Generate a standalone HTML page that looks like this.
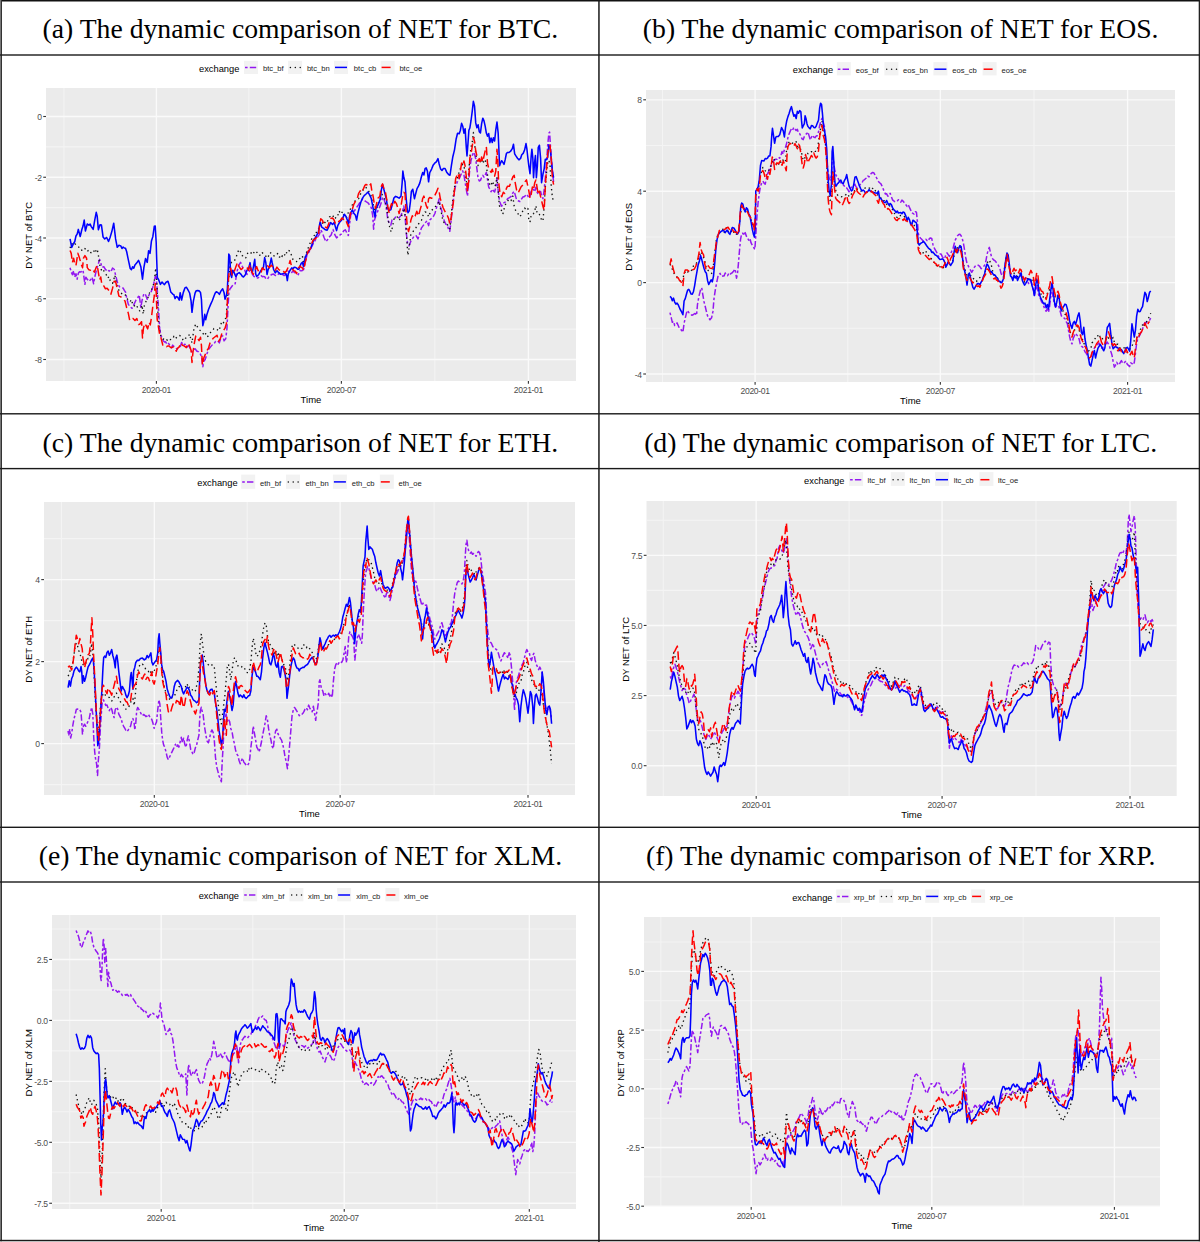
<!DOCTYPE html>
<html><head><meta charset="utf-8"><title>Dynamic comparison of NET</title>
<style>html,body{margin:0;padding:0;background:#fff;width:1200px;height:1242px;overflow:hidden}</style>
</head><body>
<svg width="1200" height="1242" viewBox="0 0 1200 1242" style="display:block"><rect x="0" y="0" width="1200" height="1242" fill="#ffffff"/><g><text x="300.4" y="37.5" font-family='"Liberation Serif", serif' font-size="27.7" text-anchor="middle" fill="#000">(a) The dynamic comparison of NET for BTC.</text><rect x="46" y="88" width="530" height="293" fill="#ebebeb"/><line x1="46" x2="576" y1="146.88" y2="146.88" stroke="#f4f4f4" stroke-width="1.05"/><line x1="46" x2="576" y1="207.62" y2="207.62" stroke="#f4f4f4" stroke-width="1.05"/><line x1="46" x2="576" y1="268.38" y2="268.38" stroke="#f4f4f4" stroke-width="1.05"/><line x1="46" x2="576" y1="329.12" y2="329.12" stroke="#f4f4f4" stroke-width="1.05"/><line x1="63.91" x2="63.91" y1="88" y2="381" stroke="#f4f4f4" stroke-width="1.05"/><line x1="248.89" x2="248.89" y1="88" y2="381" stroke="#f4f4f4" stroke-width="1.05"/><line x1="434.89" x2="434.89" y1="88" y2="381" stroke="#f4f4f4" stroke-width="1.05"/><line x1="46" x2="576" y1="116.5" y2="116.5" stroke="#fafafa" stroke-width="1.35"/><line x1="46" x2="576" y1="177.25" y2="177.25" stroke="#fafafa" stroke-width="1.35"/><line x1="46" x2="576" y1="238" y2="238" stroke="#fafafa" stroke-width="1.35"/><line x1="46" x2="576" y1="298.75" y2="298.75" stroke="#fafafa" stroke-width="1.35"/><line x1="46" x2="576" y1="359.5" y2="359.5" stroke="#fafafa" stroke-width="1.35"/><line x1="156.4" x2="156.4" y1="88" y2="381" stroke="#fafafa" stroke-width="1.35"/><line x1="341.38" x2="341.38" y1="88" y2="381" stroke="#fafafa" stroke-width="1.35"/><line x1="528.4" x2="528.4" y1="88" y2="381" stroke="#fafafa" stroke-width="1.35"/><path d="M70.06 267.76 L71.24 272.04 L72.42 274.69 L73.6 270.68 L74.78 277.15 L75.96 273.65 L77.14 279.18 L78.32 273.28 L79.5 271.75 L80.67 272.01 L81.85 271.4 L83.03 270.23 L84.92 284.31 L85.87 277.2 L87.28 279.3 L88.93 281.4 L90.59 279.7 L92 277.26 L93.65 283.75 L94.83 276.74 L96.01 271.88 L97.19 267.61 L98.37 263.79 L99.55 259.36 L100.73 262.51 L101.91 267.36 L103.8 266.66 L105.21 269.12 L106.63 270.61 L107.81 271.73 L108.99 270.45 L110.88 272.07 L112.53 267.98 L114.18 269.24 L116.07 277.09 L117.96 284.37 L119.61 286.86 L120.79 287.56 L121.97 287.93 L123.15 288.1 L124.33 290.4 L125.51 291.96 L126.69 298.01 L128.34 304.37 L130.23 306.8 L132.11 308.29 L134 304.31 L136.13 299.73 L137.78 297.66 L139.19 294.93 L140.84 307.25 L142.02 300.52 L143.91 293.51 L145.56 294.79 L147.22 299.27 L149.1 294.83 L150.99 292.16 L152.64 287.8 L154.29 281.26 L155.24 276.51 L156.18 276.75 L157.36 291.31 L158.54 309.83 L159.72 328.67 L160.9 335.6 L162.08 338.11 L163.26 340.64 L164.44 341.89 L165.62 341.86 L166.8 343.91 L167.98 342.76 L169.16 344.21 L170.34 345.74 L171.52 347.83 L172.7 345.14 L173.88 346.46 L175.06 347.1 L176.24 348.39 L177.42 349 L179.25 346.97 L180.43 346.2 L181.61 342.48 L183.26 345.34 L184.91 344.22 L186.8 347.29 L188.69 345.51 L190.34 348.86 L191.99 351.96 L193.4 350.35 L195.06 348.68 L196.71 351.04 L198.6 351.84 L200.48 354.24 L201.66 357.08 L202.84 366.64 L203.79 361.36 L205.2 359.56 L206.85 353.92 L208.51 349.56 L210.39 347.14 L212.28 344.87 L213.93 343.92 L215.59 341.42 L217.47 340.7 L219.36 342.83 L221.01 337.5 L222.66 335.7 L224.08 340.88 L225.73 338.78 L226.91 329.24 L227.86 310.2 L228.8 293.66 L229.74 289.31 L231.63 286.7 L233.52 283.97 L235.17 283.79 L236.82 272.26 L238.71 265.27 L240.6 262.35 L242.25 266.28 L243.43 268.55 L244.61 269.85 L245.79 272.94 L246.97 274.36 L248.62 272.15 L250.51 269.73 L252.39 274.25 L254.05 276.59 L255.7 276.86 L257.59 278.03 L259.47 276.83 L261.13 275.71 L262.31 276.64 L263.49 276.48 L264.66 276.62 L265.84 278.73 L267.5 279.31 L268.91 276.71 L270.33 275.58 L271.74 274.44 L273.51 274.07 L275.28 275.53 L277.05 275.71 L278.82 273.47 L280.59 274.53 L282.36 274.34 L284.13 275.52 L285.9 274.89 L287.67 270.97 L289.44 272.08 L291.21 273.23 L292.98 270.9 L294.75 272.63 L296.52 272.41 L298.29 274.62 L300.06 270.56 L301.8 270.75 L303.54 269.71 L305.19 262.51 L307.08 254.56 L308.97 252.07 L310.62 248.8 L312.27 245.55 L314.16 241.97 L316.05 238.99 L317.7 236.96 L319.35 234.27 L320.76 229.85 L322.42 232.81 L324.07 237.45 L325.96 241.67 L327.84 239.21 L329.5 236.79 L331.15 234.93 L333.03 229.41 L334.92 234.96 L336.57 237.89 L338.23 236.14 L340.11 234.89 L342 233.5 L343.65 230.93 L345.3 229.74 L347.19 233.6 L348.37 235.48 L349.55 224.45 L350.73 214.92 L352.38 212.8 L354.27 211.18 L356.16 208.05 L357.81 205.81 L359.46 203.03 L360.88 201.88 L362.53 198.8 L364.18 200.46 L366.07 201.68 L367.96 202.82 L369.61 205.05 L371.26 207.65 L372.68 215.3 L373.62 229.28 L374.56 219.83 L375.98 215.4 L377.87 210.89 L379.75 206.9 L381.41 202.14 L382.59 197.41 L384 199.24 L385.42 204.13 L386.83 211.34 L387.78 219.89 L389.19 222.87 L390.84 225.15 L392.02 220.02 L393.91 219.31 L395.56 217.1 L397.22 217.95 L399.1 217.64 L400.99 215.41 L402.64 210.95 L403.82 205.99 L405 215.74 L406.18 231.89 L407.6 243.6 L409.01 245.9 L410.9 241.03 L412.79 238.12 L414.44 235.86 L416.09 235.71 L417.98 238.91 L419.87 232.8 L421.52 227.86 L423.17 225.63 L425.06 223.17 L426.95 220.78 L428.6 225.62 L429.72 220.03 L431.61 218.37 L433.26 216.62 L434.91 213.48 L436.33 208.38 L437.98 203.21 L439.16 198.8 L440.34 206.77 L441.52 209.76 L442.93 216 L444.35 221.05 L445.76 224.14 L447.42 225.18 L448.6 229.82 L449.78 231.31 L450.96 222.12 L452.14 210.73 L453.32 200.68 L454.5 190.95 L455.67 185.29 L456.85 183.05 L458.03 180.19 L459.21 178.56 L460.39 176.04 L461.57 173.39 L462.75 170.88 L463.93 174.83 L465.11 182.22 L466.29 189.38 L467.47 196.03 L468.65 182.39 L469.83 168.21 L471.01 160.51 L472.19 156 L473.37 152.14 L474.55 154.16 L475.73 158.95 L476.91 168.87 L478.09 178.33 L479.27 181.03 L480.45 180.38 L481.63 177.35 L482.81 175.34 L483.99 177.14 L485.17 175.13 L486.35 172.42 L487.53 179.72 L488.71 187.18 L489.89 189.24 L491.07 191.76 L492.25 189.1 L493.43 190.93 L494.61 191.94 L495.79 187.57 L496.97 178.36 L498.15 190.25 L499.33 199.93 L500.51 203.9 L501.69 206.25 L502.87 203.29 L504.75 202.34 L506.41 201.02 L507.59 198.71 L509.47 197.68 L511.13 196.47 L512.78 193.06 L514.19 191.34 L515.14 194.63 L516.55 199.67 L518.2 200.78 L519.86 201.52 L521.27 199.33 L522.92 197 L524.58 196.56 L526.46 194.24 L527.88 196.01 L528.82 198.11 L530 196.22 L531.18 191.27 L532.36 188.84 L533.54 189.63 L534.72 191.77 L535.9 187.14 L537.08 192.17 L538.26 194.4 L539.44 191.77 L540.62 191.5 L541.8 196.47 L542.98 198.65 L544.16 189.78 L545.34 177.68 L546.52 163.45 L547.7 145.01 L548.88 133.09 L549.59 132.15 L550.53 147.31 L551.95 166.27 L553.6 182.38" fill="none" stroke="#9317f0" stroke-width="1.5" stroke-dasharray="2.6 2.2 6.4 2.2" stroke-linejoin="round"/><path d="M70.06 248.04 L71.71 243.58 L73.6 245.42 L74.78 243.69 L75.96 244.55 L77.14 245.47 L78.32 246.51 L79.5 248.14 L80.67 248.11 L81.85 250.33 L83.03 249.73 L84.21 250.35 L85.39 248.11 L86.57 248.89 L87.75 250.89 L88.93 250.12 L90.11 252.7 L91.29 252.5 L92.47 250.84 L93.65 250.32 L94.83 253.18 L96.01 250.6 L97.19 249.03 L98.37 255.09 L100.02 266.85 L101.91 270.97 L103.33 269.64 L104.74 273.28 L106.28 274.68 L107.81 278.15 L108.99 276.56 L110.17 280.52 L111.35 282.01 L112.53 283.4 L113.71 279.97 L114.89 275.12 L116.07 281.97 L117.25 286.04 L118.43 289.38 L119.61 291.34 L120.79 291.93 L121.97 294.26 L123.15 293.78 L124.33 294.35 L125.51 295.13 L126.69 296.29 L127.87 300.22 L129.05 300.77 L130.23 301.6 L131.41 299.56 L132.59 303.87 L133.77 306.22 L134.95 305.31 L136.13 304.54 L137.31 306.96 L138.49 309.34 L139.66 310.85 L140.84 309.79 L142.02 305.14 L143.2 314.05 L144.38 305.27 L146.27 300.81 L147.45 298.9 L148.63 295.9 L149.81 291.91 L150.99 290.95 L152.88 286.63 L154.29 281.49 L155.71 268.01 L156.65 277.69 L158.07 315.65 L159.49 329.8 L160.9 336.09 L162.79 338.94 L164.2 339.29 L165.62 340.69 L166.8 339.8 L167.98 341.12 L169.16 339.5 L170.34 339.61 L171.52 339.15 L172.7 338.99 L173.88 336.26 L175.06 338.61 L176.24 337.82 L177.42 336.46 L178.57 336.4 L179.72 335.51 L180.9 336.64 L182.08 338.06 L183.26 340.6 L184.44 339.79 L185.62 338.15 L186.8 337.7 L188.21 336.53 L189.63 334.06 L190.81 339.06 L191.99 342.95 L193.88 328.92 L195.76 324 L197.42 326.86 L199.07 329.61 L200.96 331.06 L202.84 333.23 L204.5 335.81 L205.67 333.69 L206.85 336.96 L208.03 336.16 L209.21 333.97 L210.87 332.16 L212.75 330.56 L213.93 328.51 L215.11 328.32 L217 329.48 L218.65 330.97 L220.3 326.9 L221.72 321.3 L223.37 322.69 L225.02 320.96 L226.44 314.19 L227.38 300.79 L228.33 283.18 L229.74 267.26 L231.63 262.06 L232.81 261.72 L233.99 261.36 L235.88 258.18 L237.53 252.45 L239.18 249.41 L241.07 252.74 L242.25 255.77 L243.43 255.33 L244.61 255.94 L245.79 257.79 L246.97 254.89 L248.15 251.89 L250.04 252.62 L251.22 252.99 L252.39 254.69 L253.81 252.65 L255.23 250.72 L256.41 251.75 L257.59 253.31 L258.77 253.13 L259.95 255.39 L261.13 255.49 L262.31 252.77 L263.49 254.08 L264.66 255.45 L265.84 256.28 L267.02 255.27 L268.2 257.1 L269.38 252.8 L270.56 252.82 L271.74 253.62 L272.92 255.53 L274.1 255.94 L275.28 256.14 L276.46 255.25 L277.64 253.49 L278.82 257 L280 257.17 L281.18 258.53 L282.36 255.62 L283.54 256.85 L284.72 254.73 L285.9 255.71 L287.08 250.26 L288.26 250.33 L290.15 251.23 L291.8 256.35 L292.98 259.44 L294.16 260.51 L295.34 261.3 L296.52 261.65 L297.7 259.35 L298.88 259.1 L300.65 258.09 L302.42 255.97 L303.54 263.7 L305.19 257.47 L307.08 250.74 L308.97 246.05 L310.62 241.94 L312.27 237.17 L314.16 235.42 L315.34 235.89 L316.52 231.9 L318.4 229.69 L320.06 222.09 L321.71 222.14 L323.6 224.57 L324.78 222.28 L325.96 223.52 L327.14 222.1 L328.32 219.34 L329.5 217.05 L330.67 216.13 L331.85 214.83 L333.03 215.93 L334.21 219.02 L335.39 218.08 L336.57 215.79 L337.75 215.89 L338.93 211.08 L340.11 212.49 L341.29 214.01 L342.47 211.4 L343.65 214.83 L344.83 216.24 L346.01 217.94 L347.19 216.82 L348.37 212.17 L349.55 211.44 L351.44 206.39 L353.09 203.59 L354.74 201.34 L356.63 199.71 L358.52 198.84 L360.17 194.54 L361.82 191.93 L363.71 189.07 L365.6 187.16 L367.25 188.92 L368.9 191.62 L370.79 194.57 L372.2 201.22 L373.62 205.52 L375.04 210.34 L376.69 208.16 L378.34 203.86 L380.23 198.89 L382.11 194.47 L383.77 197.77 L385.42 201.51 L386.83 208.39 L388.25 220.49 L389.66 226.96 L391.08 231.91 L392.5 227.11 L393.91 219.18 L395.56 216.82 L397.22 216.82 L399.1 220.26 L400.99 217.77 L402.64 212.88 L404.29 208.18 L405.71 220.22 L406.89 240.93 L407.83 255.28 L409.01 248.4 L410.9 234.01 L412.79 232.11 L414.44 229.32 L416.09 227.46 L417.98 224.7 L419.87 222.11 L421.52 220.17 L423.17 214.99 L425.06 211.93 L426.95 212.54 L428.6 216.81 L429.72 213.58 L431.61 210.23 L433.26 209.08 L434.91 207.54 L436.33 205.03 L437.98 203.33 L439.16 201.17 L440.34 207.94 L441.52 213.4 L442.93 221 L444.35 222.96 L445.76 223.95 L447.42 224.58 L448.6 226.99 L449.78 228.78 L450.96 219.55 L452.14 205.3 L453.32 195.98 L454.5 187.11 L455.67 181.93 L456.85 180.14 L458.03 175.17 L459.21 172.36 L460.39 168.45 L461.57 166.39 L462.75 164.07 L463.93 166.51 L465.11 171.12 L466.29 181.15 L467.47 187.28 L468.65 172.43 L469.83 158.3 L471.01 146.93 L472.19 142.62 L473.37 132.51 L474.55 143.98 L475.73 153.41 L476.91 160.26 L478.09 165.57 L479.27 163.12 L480.45 161.33 L481.63 159.09 L482.81 163.58 L483.99 160.84 L485.17 159.37 L486.35 165.3 L487.53 175.23 L488.71 182.27 L489.89 184.32 L491.07 185.98 L492.25 181.27 L493.43 183.69 L494.61 186.38 L495.79 184.59 L496.97 177.09 L498.15 191.13 L499.33 205.48 L500.51 208.38 L501.69 210.97 L502.87 214.09 L504.75 206.02 L506.41 202.5 L507.59 200.99 L509.47 198.88 L511.13 200.46 L512.78 196.02 L514.19 206.16 L515.84 211.08 L517.5 212.4 L519.38 216.63 L521.27 215.1 L522.92 210.45 L524.58 208.01 L526.46 209.94 L527.88 208.42 L528.82 220.01 L530 222.06 L531.18 215.18 L532.36 215.06 L533.54 213.57 L534.72 210.95 L535.9 205.8 L537.08 213.07 L538.26 214.69 L539.44 214.43 L540.62 217.66 L541.8 220.3 L542.98 221.08 L544.16 205.7 L545.34 186.91 L546.52 172.7 L547.7 162.6 L548.88 160.18 L550.06 165.23 L551.24 186.18 L552.42 197.78 L553.6 201.26" fill="none" stroke="#111111" stroke-width="1.35" stroke-dasharray="1.4 3.3" stroke-linejoin="round"/><path d="M70.06 238.92 L71.71 247.46 L73.6 243.49 L74.78 241.51 L75.96 236.03 L77.14 234.16 L78.32 229.38 L80.2 236.55 L81.85 229.53 L83.03 226.1 L84.21 220.05 L85.39 231.04 L87.28 223.98 L88.93 225.25 L90.11 224.06 L91.29 226.6 L93.18 229.35 L94.83 219.58 L96.25 212.36 L97.19 216.12 L98.37 229.8 L100.02 224.67 L101.44 225.11 L103.09 237.02 L104.74 239.02 L106.63 237.47 L108.52 241.54 L110.17 237.15 L111.82 231.59 L113.71 223.21 L115.6 238.89 L117.25 247.33 L118.9 245.17 L120.79 245.9 L121.97 248.53 L123.15 247.06 L124.33 248.02 L125.51 248.3 L126.69 251.74 L127.87 257.7 L129.05 263.18 L130.23 268.51 L131.41 269.72 L132.59 266.69 L133.77 268.16 L134.95 265.06 L136.83 262.87 L138.49 260.3 L139.66 263.15 L140.84 266.71 L142.5 279.15 L143.91 267.41 L145.56 258.49 L147.22 262.34 L148.63 250.68 L150.05 253.42 L151.46 240.96 L152.88 236.46 L154.29 226.28 L155.24 225.98 L156.18 242.34 L156.65 258.34 L157.36 277.57 L158.54 279.51 L160.43 284.4 L162.08 282.05 L163.26 283.48 L164.44 284.57 L166.09 282.19 L167.98 281.26 L169.16 285.08 L170.81 292.06 L172.7 294.08 L173.88 294.71 L175.06 298.61 L176.24 296.59 L177.42 296.97 L179.25 300.16 L180.19 292.68 L181.61 300.09 L183.26 292.63 L184.91 287.92 L186.33 287.19 L187.98 289.85 L189.63 293.01 L191.05 300.85 L191.99 312.32 L193.4 301.05 L195.06 293.18 L196.24 290.66 L197.42 290.62 L199.07 290.86 L200.48 292.45 L201.43 299.4 L202.14 314.07 L202.84 325.65 L203.79 321.53 L204.73 314.37 L205.67 319.73 L206.85 314.82 L208.51 309.43 L210.39 304.84 L212.28 300.75 L213.93 296.28 L215.11 293.31 L216.29 291.7 L217.94 292.63 L219.36 294.37 L221.01 290.87 L222.66 288.86 L224.08 292.7 L225.02 299.2 L226.44 295.31 L227.38 288.77 L228.33 267.65 L228.8 254.06 L229.74 255.84 L230.69 274.28 L231.63 277.4 L232.81 270.25 L233.99 272.33 L235.88 276.56 L237.53 273.56 L239.18 272.58 L241.07 274.36 L242.25 276.21 L243.43 277.04 L245.32 274.74 L246.97 270.34 L248.62 268.45 L250.04 262.66 L250.98 269.62 L252.39 272.09 L253.34 267.2 L254.75 259.27 L255.7 274.02 L256.64 276.54 L258.77 274.48 L260.42 271.34 L261.83 269.2 L263.49 267.02 L264.66 257.56 L265.84 262.76 L267.02 274.49 L268.2 269.32 L269.38 267.06 L271.27 258.04 L272.22 263.01 L273.63 269.52 L275.28 272.85 L276.93 270.68 L278.82 272.71 L280.71 274.33 L282.6 273.84 L284.72 273.15 L286.37 274.74 L287.32 280.6 L288.26 273.84 L290.15 270.22 L291.8 267.89 L292.98 268.78 L294.16 267.25 L295.81 267.46 L297.7 269.19 L298.88 269.17 L300.06 266.1 L301.24 263.25 L302.42 262.22 L303.54 266.71 L305.19 257.47 L307.08 253.34 L308.97 250.57 L310.62 248.5 L312.27 243.88 L314.16 238.94 L315.34 237.73 L316.52 235.54 L318.4 232.16 L320.06 222.01 L321.71 227.11 L323.6 228.32 L325.48 229.8 L327.14 230.27 L328.79 226.79 L330.67 222.6 L332.56 224.44 L334.21 222.42 L335.39 226.84 L336.57 230.63 L337.75 225.65 L339.64 222.15 L341.29 220.56 L342.94 217.65 L344.36 214.31 L346.01 216.47 L347.19 219.75 L348.37 223.77 L349.55 216.34 L350.73 212.71 L352.38 209.84 L353.8 213.35 L355.45 215.34 L356.63 220.11 L357.81 213.46 L359.46 207.11 L360.88 201.95 L362.53 198.13 L364.18 195.55 L366.07 193.99 L367.96 192.02 L369.61 194.88 L371.26 198.53 L372.68 205.86 L373.62 211.01 L375.04 217.02 L375.98 208.2 L377.39 206.12 L379.05 202.39 L380.23 199.21 L381.41 189.6 L382.59 184.39 L383.77 189.11 L384.95 193.52 L386.36 199.16 L387.78 208.53 L389.19 210.71 L390.84 209.67 L392.5 203.72 L393.91 198.05 L395.56 196.35 L397.22 197.06 L399.1 198.12 L400.99 196.23 L402.17 182.57 L402.88 171.01 L403.82 177.55 L405 181.95 L406.18 198.53 L407.36 210.47 L408.07 212.66 L409.25 210.75 L410.43 201.65 L411.37 191.46 L412.79 189.26 L414.44 198.73 L415.62 194.04 L417.04 188.6 L418.45 186.17 L419.87 182.86 L421.28 177.27 L422.7 172.57 L423.88 175.01 L425.06 168.75 L426.24 167.89 L427.42 171.32 L428.6 181.84 L429.72 172.76 L431.61 169.05 L433.26 164.9 L434.91 162.91 L436.33 161.81 L437.98 158.66 L439.16 164.04 L440.57 168.87 L441.99 170.46 L443.4 168.48 L445.06 168.52 L446.71 172.18 L448.6 174.5 L450.01 175.25 L451.43 165.45 L452.84 156.74 L454.5 149.82 L456.15 138.97 L457.56 133.21 L459.21 133.68 L460.39 130.23 L461.57 123.3 L462.75 126.17 L463.93 133.14 L465.11 128.67 L466.29 147.13 L467 156 L467.94 143.86 L468.89 130.31 L469.83 128.03 L471.01 120.73 L472.19 111.6 L473.37 101.36 L474.55 106.22 L475.73 122.92 L476.91 127.75 L478.09 124.69 L479.27 131.69 L480.45 133 L481.63 123.67 L482.81 118.19 L483.99 120.84 L485.17 126.05 L486.35 133.09 L487.53 136.15 L488.71 133.55 L489.89 142.65 L491.07 137.98 L492.25 142.48 L493.43 137.71 L494.61 140.96 L495.79 129.95 L496.97 121.99 L498.15 132.82 L498.86 149.06 L499.56 165.77 L500.51 163.03 L501.69 160.7 L502.87 162.38 L504.05 164.42 L505.23 159.42 L506.41 153.49 L507.59 152.43 L508.77 152.58 L510.42 151.48 L512.31 148.68 L513.49 144.31 L514.66 153.8 L516.08 156.16 L517.5 158.21 L518.91 159.85 L520.56 158.43 L521.74 154.7 L523.16 153.41 L524.58 150.06 L525.99 143.59 L526.93 149.23 L527.88 158.13 L528.82 165.94 L530 173.62 L531.18 156.24 L531.89 149.16 L532.83 158.24 L533.54 177.63 L534.49 163.24 L535.43 155.48 L536.37 177.75 L537.32 166.48 L538.26 147.3 L539.44 145.26 L540.62 158.67 L541.56 182.62 L542.98 174.03 L544.16 168.8 L545.34 159.21 L546.52 159.7 L547.7 157.12 L548.88 144.81 L550.06 146.8 L551.24 158.8 L552.42 171.18 L553.6 177.66" fill="none" stroke="#0000ff" stroke-width="1.55" stroke-linejoin="round"/><path d="M70.06 250.54 L71.24 253.39 L72.42 262.46 L73.6 258.26 L74.78 263.59 L75.96 265.64 L77.84 253.16 L79.5 258.11 L81.15 264.03 L82.56 267.74 L83.51 258.03 L84.92 255.6 L86.57 258.24 L87.28 267.59 L88.93 269.84 L90.59 270.24 L92.47 268.97 L94.36 272.18 L96.01 267.7 L97.19 265.17 L98.37 272.33 L99.55 279.81 L100.73 276.98 L101.91 284.97 L103.8 285.86 L105.45 288.81 L107.1 288.34 L108.99 290.68 L110.88 294.24 L112.53 288.4 L114.18 281.25 L115.6 281.61 L117.25 288.45 L118.9 296.16 L120.79 296.87 L121.97 297.78 L123.15 299.07 L125.04 301.1 L126.69 307.75 L128.34 313.36 L129.75 320.48 L131.41 319.22 L133.06 318.5 L134.95 320.56 L136.83 318.56 L138.49 324.58 L139.66 324.29 L141.55 321.71 L142.5 337.97 L143.44 328.1 L144.86 323.38 L146.27 325.89 L147.69 328.86 L149.1 322.16 L150.28 324.95 L151.46 317.41 L152.88 305.68 L154.29 295.96 L155.24 283.53 L156.18 292.44 L157.13 319 L158.07 324.33 L159.49 333.34 L160.9 337.66 L162.79 344.94 L163.97 344.73 L165.15 346.41 L166.56 346.7 L167.98 345.92 L169.16 346.02 L170.34 347.23 L171.52 347.69 L172.7 347.03 L173.88 346.76 L175.06 349.04 L176.24 351.26 L177.42 348.33 L179.25 346.88 L180.9 342.92 L182.55 345.37 L184.44 346.16 L186.33 347.62 L187.98 343.3 L189.63 345.95 L191.05 350.18 L191.99 362.47 L192.93 352.45 L194.35 343.13 L195.76 335.89 L197.42 338.03 L199.07 340.73 L200.48 337.19 L201.43 345.38 L202.37 364.98 L203.79 358.01 L205.2 354.63 L206.85 350.62 L208.51 348.25 L209.92 343.2 L211.57 340.53 L213.23 338.24 L215.11 336.73 L217 335.28 L218.65 341.18 L220.3 338.77 L221.72 333.86 L223.37 330.83 L225.02 328.2 L226.44 323.37 L227.38 300.55 L228.33 281.29 L229.27 270.64 L230.69 268.22 L232.1 274.83 L233.99 272.1 L235.88 266.85 L237.53 262.29 L239.18 267.05 L241.07 269.55 L242.25 268.57 L243.43 267.41 L245.32 267.14 L246.97 267.55 L248.62 270.27 L250.04 264.45 L251.69 271.41 L253.34 274.26 L255.23 270.09 L256.64 266.58 L258.06 270.47 L259.95 273.17 L261.13 272.64 L262.31 267.75 L264.19 269.68 L265.84 267.97 L267.5 265.82 L269.38 267.64 L271.27 265.17 L272.92 267.06 L274.1 267.87 L275.28 270.24 L276.93 267.1 L278.82 269.6 L280.71 270.64 L282.6 270.19 L284.72 272.76 L286.37 271.1 L288.26 267.12 L290.15 260.43 L291.8 267.61 L292.98 269.88 L294.16 270.91 L295.34 271.15 L296.52 273.63 L298.17 268.28 L300.06 266.1 L301.24 267.46 L302.42 267.69 L303.54 270.17 L305.19 262.56 L306.61 256.83 L308.26 250.84 L309.91 249.58 L311.33 244.76 L312.98 240.26 L314.63 239.17 L316.52 237.67 L318.4 234.6 L319.35 227.16 L320.76 218.68 L322.42 220.22 L323.6 223.45 L325.48 227.08 L327.14 227.97 L328.79 223.45 L330.67 218.47 L332.56 218.01 L334.21 220.31 L335.39 223.56 L337.28 223.72 L338.93 221.28 L340.59 220 L342 217.85 L343.65 219.43 L345.3 218.79 L347.19 223.62 L348.37 226.73 L349.55 219.85 L350.73 210.76 L352.38 209.17 L353.8 204.32 L355.45 201.4 L357.1 199.19 L358.52 193.7 L360.17 190.91 L361.82 192.45 L363.71 188.11 L364.89 185.36 L366.07 184.39 L367.25 185.06 L368.43 186.79 L369.61 185.4 L370.79 183.84 L371.97 191.63 L373.15 196.5 L374.33 204 L375.51 208.29 L376.69 203.23 L377.87 198.27 L379.75 196.54 L381.41 186.19 L382.59 183.89 L383.77 187.93 L385.42 192.05 L386.83 200.03 L387.78 206.4 L389.19 213.08 L390.14 208.04 L391.55 203.53 L393.2 206.12 L394.86 201.32 L396.27 203.31 L397.92 208.35 L399.1 213.62 L400.99 205.95 L402.64 196.1 L403.82 192.38 L405 193.38 L406.18 213.07 L407.36 227.21 L408.54 231.49 L409.72 226.73 L410.9 220 L412.32 215.69 L413.73 218.12 L415.15 216.09 L416.8 211.32 L418.45 216.02 L419.87 210.59 L421.28 205.8 L422.7 198.48 L423.88 196.06 L425.06 200.68 L426.24 205.69 L427.42 208.2 L428.6 198.84 L429.72 197.49 L431.61 198.18 L433.26 197.93 L434.91 195.17 L436.33 192.4 L437.98 188.18 L439.16 191.8 L440.34 198.79 L441.52 202.5 L442.93 207.21 L444.35 210.2 L445.76 213.17 L447.42 215.79 L448.6 218.52 L449.78 223.84 L450.96 219.01 L452.14 210.23 L453.32 202.76 L454.5 189.72 L455.67 178.55 L456.85 175.68 L458.03 173.24 L459.21 178.37 L460.39 170.72 L461.57 163.13 L462.75 165.55 L463.93 160.9 L465.11 165.86 L466.29 176.56 L467.47 191.81 L468.65 181.64 L469.83 157.99 L471.01 154.07 L472.19 146.65 L473.37 137.54 L474.55 141.32 L475.73 151 L476.91 155.98 L478.09 161.29 L479.27 158.58 L480.45 163.64 L481.63 156.95 L482.81 161.65 L483.99 156.2 L485.17 150.85 L486.35 146.87 L487.53 163.53 L488.71 168.29 L489.89 170.54 L491.07 172.45 L492.25 169.17 L493.43 173.43 L494.61 176.1 L495.79 171.23 L496.97 149.25 L497.68 158.07 L498.62 181.87 L500.04 193.37 L501.69 196.73 L503.34 192.18 L504.75 193.55 L506.41 188.4 L507.59 186.15 L509.47 186.35 L511.13 181.7 L512.78 177.01 L514.19 175.36 L515.14 182.29 L516.55 189.88 L518.2 192.95 L519.86 189.4 L521.27 186.48 L522.92 185.08 L524.58 182.3 L526.46 179.89 L527.88 186.48 L528.82 190.95 L530 198.24 L531.18 194.4 L532.36 187.11 L533.54 189.55 L534.72 182.87 L535.9 180.01 L537.08 187.51 L538.26 194.53 L539.44 191.26 L540.62 196.81 L541.8 201.55 L542.98 206.64 L544.16 210.3 L545.34 186.4 L546.52 168.67 L547.7 153.98 L548.88 146.6 L550.06 145.24 L551.24 159.16 L552.42 178.19 L553.6 184.74" fill="none" stroke="#ff0000" stroke-width="1.5" stroke-dasharray="8.5 3.8" stroke-linejoin="round"/><line x1="43.25" x2="46" y1="116.5" y2="116.5" stroke="#333" stroke-width="1.1"/><text x="41.7" y="120.1" font-family='"Liberation Sans", sans-serif' font-size="8.6" letter-spacing="-0.35" text-anchor="end" fill="#4d4d4d">0</text><line x1="43.25" x2="46" y1="177.25" y2="177.25" stroke="#333" stroke-width="1.1"/><text x="41.7" y="180.85" font-family='"Liberation Sans", sans-serif' font-size="8.6" letter-spacing="-0.35" text-anchor="end" fill="#4d4d4d">-2</text><line x1="43.25" x2="46" y1="238" y2="238" stroke="#333" stroke-width="1.1"/><text x="41.7" y="241.6" font-family='"Liberation Sans", sans-serif' font-size="8.6" letter-spacing="-0.35" text-anchor="end" fill="#4d4d4d">-4</text><line x1="43.25" x2="46" y1="298.75" y2="298.75" stroke="#333" stroke-width="1.1"/><text x="41.7" y="302.35" font-family='"Liberation Sans", sans-serif' font-size="8.6" letter-spacing="-0.35" text-anchor="end" fill="#4d4d4d">-6</text><line x1="43.25" x2="46" y1="359.5" y2="359.5" stroke="#333" stroke-width="1.1"/><text x="41.7" y="363.1" font-family='"Liberation Sans", sans-serif' font-size="8.6" letter-spacing="-0.35" text-anchor="end" fill="#4d4d4d">-8</text><line x1="156.4" x2="156.4" y1="381" y2="383.75" stroke="#333" stroke-width="1.1"/><text x="156.4" y="392.7" font-family='"Liberation Sans", sans-serif' font-size="8.6" letter-spacing="-0.35" text-anchor="middle" fill="#4d4d4d">2020-01</text><line x1="341.38" x2="341.38" y1="381" y2="383.75" stroke="#333" stroke-width="1.1"/><text x="341.38" y="392.7" font-family='"Liberation Sans", sans-serif' font-size="8.6" letter-spacing="-0.35" text-anchor="middle" fill="#4d4d4d">2020-07</text><line x1="528.4" x2="528.4" y1="381" y2="383.75" stroke="#333" stroke-width="1.1"/><text x="528.4" y="392.7" font-family='"Liberation Sans", sans-serif' font-size="8.6" letter-spacing="-0.35" text-anchor="middle" fill="#4d4d4d">2021-01</text><text x="311" y="402.5" font-family='"Liberation Sans", sans-serif' font-size="9.5" text-anchor="middle" fill="#000">Time</text><text transform="translate(31.8,235.3) rotate(-90)" x="0" y="0" font-family='"Liberation Sans", sans-serif' font-size="9.5" text-anchor="middle" fill="#000">DY NET of BTC</text><text x="199" y="71.5" font-family='"Liberation Sans", sans-serif' font-size="9.3" fill="#000">exchange</text><rect x="244" y="60.8" width="14" height="13.2" fill="#f2f2f2"/><line x1="245" x2="256.5" y1="67.4" y2="67.4" stroke="#9317f0" stroke-width="1.5" stroke-dasharray="2.6 2.2 6.4 10" stroke-linecap="butt"/><text x="263" y="71.2" font-family='"Liberation Sans", sans-serif' font-size="7.6" fill="#1a1a1a">btc_bf</text><rect x="288.1" y="60.8" width="14" height="13.2" fill="#f2f2f2"/><line x1="290.4" x2="301.1" y1="67.4" y2="67.4" stroke="#111" stroke-width="1.5" stroke-dasharray="0.01 4.9" stroke-linecap="round"/><text x="306.9" y="71.2" font-family='"Liberation Sans", sans-serif' font-size="7.6" fill="#1a1a1a">btc_bn</text><rect x="334" y="60.8" width="14" height="13.2" fill="#f2f2f2"/><line x1="335" x2="347" y1="67.4" y2="67.4" stroke="#0000ff" stroke-width="1.5"/><text x="353.8" y="71.2" font-family='"Liberation Sans", sans-serif' font-size="7.6" fill="#1a1a1a">btc_cb</text><rect x="380.6" y="60.8" width="14" height="13.2" fill="#f2f2f2"/><line x1="381.6" x2="390.6" y1="67.4" y2="67.4" stroke="#ff0000" stroke-width="1.5"/><text x="399.4" y="71.2" font-family='"Liberation Sans", sans-serif' font-size="7.6" fill="#1a1a1a">btc_oe</text></g><g><text x="900.7" y="37.5" font-family='"Liberation Serif", serif' font-size="27.7" text-anchor="middle" fill="#000">(b) The dynamic comparison of NET for EOS.</text><rect x="646" y="90" width="529" height="292" fill="#ebebeb"/><line x1="646" x2="1175" y1="145.5" y2="145.5" stroke="#f4f4f4" stroke-width="1.05"/><line x1="646" x2="1175" y1="236.9" y2="236.9" stroke="#f4f4f4" stroke-width="1.05"/><line x1="646" x2="1175" y1="328.3" y2="328.3" stroke="#f4f4f4" stroke-width="1.05"/><line x1="662.48" x2="662.48" y1="90" y2="382" stroke="#f4f4f4" stroke-width="1.05"/><line x1="847.72" x2="847.72" y1="90" y2="382" stroke="#f4f4f4" stroke-width="1.05"/><line x1="1033.97" x2="1033.97" y1="90" y2="382" stroke="#f4f4f4" stroke-width="1.05"/><line x1="646" x2="1175" y1="99.8" y2="99.8" stroke="#fafafa" stroke-width="1.35"/><line x1="646" x2="1175" y1="191.2" y2="191.2" stroke="#fafafa" stroke-width="1.35"/><line x1="646" x2="1175" y1="282.6" y2="282.6" stroke="#fafafa" stroke-width="1.35"/><line x1="646" x2="1175" y1="374" y2="374" stroke="#fafafa" stroke-width="1.35"/><line x1="755.1" x2="755.1" y1="90" y2="382" stroke="#fafafa" stroke-width="1.35"/><line x1="940.33" x2="940.33" y1="90" y2="382" stroke="#fafafa" stroke-width="1.35"/><line x1="1127.6" x2="1127.6" y1="90" y2="382" stroke="#fafafa" stroke-width="1.35"/><path d="M669.98 312.61 L671.16 317.41 L672.33 322.31 L673.51 321.31 L674.68 325.45 L675.86 324.31 L677.03 322.88 L678.21 325.52 L679.38 328.09 L680.56 329.27 L681.73 330.35 L682.91 332.22 L684.09 323.23 L685.26 318.11 L686.44 313.06 L687.61 310.39 L688.79 312.59 L689.96 313.19 L691.84 315.31 L693.49 314.48 L695.13 313.46 L696.54 315.26 L697.48 304.46 L698.9 296.38 L700.54 289.84 L701.72 287.83 L702.89 295.19 L704.07 301.98 L705.24 306.46 L706.42 311.56 L707.59 315.98 L708.77 317.98 L709.94 319.77 L711.59 317.86 L713 311.16 L713.94 299.19 L715.35 289.54 L716.76 282.32 L718.17 275.47 L720.05 273.42 L721.7 276.42 L722.87 275.96 L724.05 275.95 L725.22 272.96 L726.4 274.83 L727.57 275.62 L728.75 273.67 L729.92 274.87 L731.1 273.31 L732.28 272.75 L733.45 271.25 L735.1 268.98 L736.51 278.21 L737.45 273.88 L738.39 263.94 L739.33 252.32 L740.5 239.7 L741.68 233.56 L742.85 233.17 L744.03 235.56 L745.2 232.59 L746.38 236.18 L747.56 238.24 L748.73 240.22 L749.91 238.38 L751.08 242.96 L752.26 245.22 L753.43 247.14 L754.84 249.4 L755.78 235.69 L756.96 216.11 L758.13 202.04 L759.31 193.02 L760.48 186.2 L761.66 183.32 L762.83 181.17 L764.01 183.01 L765.19 184.13 L766.36 179.03 L767.54 173.72 L768.71 171.62 L769.89 167.3 L771.06 165.53 L772.24 162.92 L773.41 160.99 L774.59 159.88 L775.76 159.29 L776.94 159.23 L778.53 157.23 L779.7 158.23 L780.88 155.63 L782.05 151.46 L783.23 154.12 L784.4 149.64 L785.58 147.2 L786.75 142.84 L787.93 137.65 L789.1 133.86 L790.28 131.12 L791.46 128.64 L792.63 130 L793.81 127.4 L794.98 129.03 L796.16 130.54 L797.33 129.2 L798.51 133.17 L799.68 133.65 L800.86 136.09 L802.03 138.89 L803.21 139.59 L804.38 136.5 L805.56 134.55 L806.73 133.59 L807.91 131.92 L809.09 135.85 L810.26 139.99 L811.44 137.18 L812.61 135.17 L813.79 137.08 L814.96 137.68 L816.14 136.08 L817.31 135.86 L818.49 132.01 L819.66 125.37 L820.84 121.43 L822.01 118.21 L823.19 121.89 L824.37 126.49 L825.54 141.5 L826.72 160.71 L827.89 170.52 L829.07 177.65 L830.24 180.14 L831.42 175.3 L832.12 160.85 L832.83 156.2 L833.77 163.53 L834.94 171 L836.12 175.75 L837.29 176.02 L838.47 179.21 L839.65 181.3 L840.82 182.91 L842 183.4 L843.17 184.73 L844.35 186.06 L845.52 187.97 L846.7 188.02 L847.87 189.68 L849.05 191.78 L850.22 188.77 L851.4 187.22 L852.57 186.99 L853.75 185.57 L854.92 184.18 L856.1 186.97 L857.28 187.76 L858.45 186.54 L859.63 185.27 L860.8 183.98 L861.98 183.07 L863.15 180.47 L864.33 179.8 L865.5 178.69 L866.68 178.05 L867.85 176.08 L869.03 176.86 L870.2 174.56 L871.38 173.28 L872.56 172.48 L873.73 172.72 L874.91 174.89 L876.08 176.99 L877.26 179.17 L878.43 181.47 L879.61 182.74 L880.78 183.68 L881.96 185.96 L883.13 188.82 L884.31 191.59 L885.48 194.09 L886.66 193.83 L887.83 196.29 L889.01 196.02 L890.19 193.37 L891.36 196.65 L892.54 199.82 L893.71 200.88 L894.89 201.7 L896.06 201.89 L897.24 200.97 L898.41 199.66 L899.59 200.53 L900.76 202.11 L901.94 200.15 L903.53 201.61 L904.7 203.5 L905.88 204.81 L907.05 206.39 L908.23 204.76 L909.4 207.27 L910.58 209.9 L911.75 212.79 L912.93 213.37 L914.1 214.06 L915.28 211.75 L916.46 212.27 L917.4 221.63 L918.34 233.6 L919.28 236.64 L920.69 238.22 L922.33 239.94 L923.51 241.41 L924.68 239.92 L925.86 239.31 L927.03 240.58 L928.21 241.13 L929.38 238.51 L930.56 238.04 L931.73 238.49 L932.91 244.45 L934.09 247.71 L935.26 249.76 L936.44 251.84 L937.61 254.4 L938.79 257.02 L939.96 254.05 L941.14 254.09 L942.31 256.59 L943.49 258.58 L944.66 258.69 L945.84 254.44 L947.01 252.87 L948.19 254.6 L949.37 256.37 L950.54 253.84 L951.72 251.22 L952.89 249.25 L954.07 244.24 L955.24 240.16 L956.42 237.7 L957.59 235.74 L958.77 234.52 L959.94 234.3 L961.12 235.82 L962.29 238.56 L963.47 243.63 L964.65 250.34 L965.82 258.24 L967 263.29 L968.17 265.61 L969.35 268.35 L970.52 270.16 L971.7 272.33 L972.87 270.43 L974.05 267.75 L975.22 266.09 L976.4 265.13 L977.57 265.08 L978.75 265.44 L979.92 266.6 L981.1 268.75 L982.28 267.61 L983.45 266.84 L984.63 265.04 L985.8 261.55 L986.98 254.64 L988.15 250.27 L989.33 247.35 L990.5 252.83 L991.68 257.35 L992.85 258.98 L994.03 260.27 L995.2 260.9 L996.38 262.51 L997.56 263.9 L998.73 265.97 L999.91 268.6 L1001.08 273.69 L1002.26 275.28 L1003.43 273.1 L1004.61 267.77 L1005.78 261.03 L1006.96 255.72 L1008.13 259.06 L1009.31 266.65 L1010.48 272.92 L1011.66 276.83 L1012.83 279.12 L1014.01 276.26 L1015.19 276.75 L1016.36 278.08 L1017.54 278.22 L1018.71 277.13 L1019.89 275.78 L1021.06 275.74 L1022.24 278.56 L1023.41 277.63 L1024.59 278.81 L1025.76 278.11 L1026.94 278.58 L1028.53 283.46 L1029.7 280.27 L1030.88 281.36 L1032.05 285.06 L1033.23 290.43 L1034.4 295.25 L1035.58 289.32 L1036.75 284.98 L1037.93 291.71 L1039.1 296.73 L1040.28 298.34 L1041.46 301.55 L1042.63 303.33 L1043.81 306.38 L1044.98 309.5 L1046.16 311.22 L1047.33 308.59 L1048.51 312.26 L1049.68 305.78 L1050.86 295.78 L1052.03 292.36 L1053.21 297.84 L1054.38 303.77 L1055.56 307.29 L1056.73 305.2 L1057.91 304.73 L1059.09 307.5 L1060.26 311.61 L1061.44 316.01 L1062.61 316.2 L1063.79 317.81 L1064.96 318.58 L1066.14 321.66 L1067.31 323.49 L1068.49 330.36 L1069.66 336.95 L1070.84 341.91 L1072.01 343.89 L1073.19 338.46 L1074.37 335.75 L1075.54 333.35 L1076.72 334.89 L1077.89 336.43 L1079.07 338.91 L1080.24 344.03 L1081.42 346.28 L1082.59 346.87 L1083.77 348.74 L1084.94 351.73 L1086.12 353.04 L1087.29 355.29 L1088.47 358.06 L1089.65 358.89 L1090.82 357.92 L1092 353.06 L1093.17 350.42 L1094.35 347.99 L1095.52 346.92 L1096.7 345.1 L1097.87 344.09 L1099.05 343.01 L1100.22 346.12 L1101.4 348.13 L1102.57 347.79 L1103.75 346.48 L1104.92 344.89 L1106.1 343.69 L1107.28 342.1 L1108.45 344.04 L1109.63 346.71 L1110.8 351.28 L1111.98 355.15 L1113.15 361.56 L1114.33 367.12 L1115.5 365.31 L1116.68 362.32 L1117.85 364.02 L1119.03 365.15 L1120.2 362.53 L1121.38 360.54 L1122.56 362.69 L1123.73 363.54 L1124.91 362.01 L1126.08 360.97 L1127.26 364.28 L1128.43 365.41 L1129.61 366.59 L1130.78 362.8 L1131.96 363.55 L1133.13 364.81 L1134.31 362.41 L1135.48 353.16 L1136.66 343.01 L1137.83 338.33 L1139.01 336.71 L1140.19 334.09 L1141.36 331.67 L1142.54 329.02 L1143.71 324.95 L1144.89 322.48 L1146.06 323.05 L1147.24 321.32 L1148.41 320.4 L1149.59 320.08 L1150.76 318.02" fill="none" stroke="#9317f0" stroke-width="1.5" stroke-dasharray="2.6 2.2 6.4 2.2" stroke-linejoin="round"/><path d="M669.98 264.16 L671.63 267.28 L673.51 272.39 L675.39 275.66 L677.03 277 L678.68 279.16 L680.56 281.49 L682.44 282.44 L684.09 272.54 L685.26 272.05 L686.44 270.63 L687.61 272.1 L688.79 271.15 L689.96 271.95 L691.14 270.54 L692.31 269.94 L693.49 265.72 L694.66 264.95 L695.84 264.34 L697.01 262.22 L698.19 259.2 L699.84 254.44 L701.25 251.6 L702.89 256.24 L704.54 259.2 L706.42 268.93 L708.3 270.6 L709.94 272.43 L711.59 273.49 L713 269.47 L714.65 254.01 L716.29 240.35 L718.17 233.36 L719.35 232.59 L720.52 230.97 L721.7 229.97 L722.87 229.29 L724.05 232.98 L725.22 230.34 L726.4 227.62 L727.57 229.03 L728.75 232.72 L729.92 231.66 L731.1 231.52 L732.28 229.85 L733.45 232.29 L734.63 231.84 L735.8 234.7 L736.98 233.62 L738.86 231.6 L740.03 217.41 L741.68 205.99 L743.56 208.31 L745.2 209.91 L746.85 210.45 L748.73 215.01 L750.61 218.34 L752.26 223.17 L753.9 228.42 L755.08 230.64 L755.78 195.37 L757.19 188.98 L758.6 187.63 L760.01 178.2 L761.42 171.57 L762.83 167.43 L764.72 170.23 L766.36 172.03 L768.01 170.7 L769.89 169.58 L771.77 163.26 L773.41 158.62 L774.59 160.22 L775.76 163.28 L777.08 165.84 L778.39 165.06 L779.7 160.88 L780.88 162.23 L782.05 159.31 L783.23 160.2 L784.4 158.53 L785.58 160.72 L786.75 147.93 L787.93 144.17 L789.1 142.18 L790.28 141.36 L791.46 142.44 L792.63 143.21 L793.81 143.81 L794.98 143.07 L796.16 141.81 L797.33 145.72 L798.51 149.29 L799.68 146.29 L801.33 151.84 L803.21 160.26 L804.38 159 L805.56 156.15 L806.73 158.4 L807.91 153.25 L809.09 152.01 L810.26 152.3 L811.44 151.59 L812.61 151.83 L813.79 150.57 L814.96 151.33 L816.14 151.39 L817.31 150.43 L819.19 137.41 L820.84 126.37 L822.01 120.85 L823.43 127.79 L824.84 137.12 L826.25 153.44 L827.42 176.1 L828.6 193.47 L830.01 200.54 L831.42 199.18 L832.36 170.04 L833.77 177.08 L835.18 188.29 L836.59 193.62 L838.47 196.19 L839.65 196.42 L840.82 196.62 L842 196.83 L843.17 198.29 L844.35 199.76 L845.52 195.03 L846.7 194.01 L847.87 193.68 L849.05 196.86 L850.22 195.37 L851.4 194.01 L852.57 192.99 L853.75 192.49 L854.92 189.79 L856.1 190.74 L857.28 189.14 L858.45 189.68 L859.63 189.65 L860.8 190.96 L861.98 190.55 L863.15 189.41 L864.33 188.71 L865.5 187.73 L866.68 187.25 L867.85 187.85 L869.03 188 L870.2 188.08 L871.38 186.81 L872.56 188.53 L873.73 187.82 L874.91 190.09 L876.08 192.04 L877.26 194.32 L878.43 195.79 L879.61 197.65 L880.78 197.82 L881.96 200.21 L883.13 200.97 L884.31 200.71 L885.48 202.87 L886.66 204.27 L887.83 205.25 L889.01 204.35 L890.19 207.34 L891.36 208.01 L892.54 209.54 L893.71 210.65 L894.89 215.05 L896.06 216.79 L897.24 217.47 L898.41 215.6 L899.59 216.06 L900.76 215.47 L901.94 215.74 L903.32 215.42 L904.7 216.99 L905.88 217.15 L907.05 219.77 L908.23 220.41 L909.4 220.73 L910.58 222.66 L911.75 223.05 L912.93 224 L914.1 225.23 L915.28 227.26 L916.46 228.88 L917.63 239.22 L918.81 248.04 L919.98 252.7 L921.16 254.49 L922.33 253.21 L923.51 252.73 L924.68 252.71 L925.86 250.91 L927.03 254.24 L928.21 254.81 L929.38 257.58 L930.56 257.6 L931.73 259.43 L932.91 261.71 L934.09 262.48 L935.26 262.24 L936.44 265.41 L937.61 266.91 L938.79 267.39 L939.96 266.64 L941.14 268.36 L942.31 267.28 L943.49 267.72 L944.66 267.04 L945.84 264.84 L947.01 265.68 L948.19 265.56 L949.37 265.89 L950.54 264.45 L951.72 263.35 L952.89 260.56 L954.07 255.54 L955.24 251.5 L956.42 251.13 L957.59 247.12 L958.77 247.92 L959.94 246.66 L961.59 251 L963.47 263.96 L965.35 270.59 L967 274.94 L968.17 272.55 L969.35 276.68 L970.52 275.38 L971.7 277.96 L972.87 277.9 L974.05 279.35 L975.22 280.84 L976.4 281.52 L977.57 279.96 L978.75 278.68 L979.92 277.38 L981.1 278.62 L982.28 280.66 L983.45 277.47 L984.63 274.34 L985.8 269.02 L987.45 262.44 L989.33 259.96 L991.21 264.62 L992.85 272.04 L994.03 275.16 L995.2 276.6 L996.38 277.22 L997.56 278.14 L998.73 279.98 L999.91 281.26 L1001.08 283.76 L1002.26 281.71 L1003.43 276.97 L1004.61 270.63 L1005.78 260.56 L1006.96 254.55 L1008.6 262.13 L1010.48 273.89 L1011.66 274.37 L1012.83 275.03 L1014.01 273.21 L1015.19 273.82 L1016.36 276.16 L1017.54 276.39 L1018.71 273.62 L1019.89 273.52 L1021.06 276.12 L1022.24 277.94 L1023.41 279.46 L1024.59 281.96 L1025.76 280.91 L1026.94 279.94 L1028.32 278.19 L1029.7 278.64 L1030.88 280.55 L1032.05 278.22 L1033.23 280.71 L1034.4 284.63 L1035.58 280.4 L1036.75 278.16 L1037.93 283.62 L1039.1 290.69 L1040.28 292.14 L1041.46 295.35 L1042.63 297.58 L1043.81 296.28 L1044.98 298.47 L1046.16 297.59 L1047.33 293.3 L1048.51 293.39 L1049.68 289.34 L1050.86 286.92 L1052.03 289.39 L1053.21 290.77 L1054.38 294.56 L1055.56 297.87 L1056.73 297.14 L1057.91 297.18 L1059.09 300.94 L1060.26 303.82 L1061.44 309.06 L1062.61 310.88 L1063.79 310.82 L1064.96 314.05 L1066.14 315.52 L1067.31 319.5 L1068.49 323.78 L1069.66 330.02 L1070.84 334.26 L1072.01 335.32 L1073.19 333.15 L1074.37 330.22 L1075.54 329.11 L1076.72 326.87 L1077.89 326.82 L1079.07 329.66 L1080.24 334.18 L1081.42 338.87 L1082.59 339.64 L1083.77 343.57 L1084.94 344.58 L1086.12 348.32 L1087.29 348.7 L1088.47 351 L1089.65 349.96 L1090.82 349.07 L1092 342.96 L1093.17 341.5 L1094.35 339.77 L1095.52 337.93 L1096.7 338.21 L1097.87 335.6 L1099.05 338.13 L1100.22 336.17 L1101.4 335.94 L1102.57 338.85 L1103.75 337.49 L1104.92 338.93 L1106.1 339.16 L1107.28 336.6 L1108.45 338.17 L1109.63 336.57 L1110.8 335.47 L1111.98 339.22 L1113.15 337.41 L1114.33 342.08 L1115.5 342.9 L1116.68 344.28 L1117.85 344.23 L1119.03 345.99 L1120.2 348.59 L1121.38 349.17 L1122.56 351.93 L1123.73 348.96 L1124.91 345.82 L1126.08 348.33 L1127.26 352.62 L1128.43 351.33 L1129.61 349.12 L1130.78 348.68 L1131.96 346.22 L1133.13 343.49 L1134.31 340.41 L1135.48 339.15 L1136.66 338.44 L1137.83 334.18 L1139.01 333.7 L1140.19 329.83 L1141.36 327.96 L1142.54 324.85 L1143.71 327.25 L1144.89 323.41 L1146.06 323.02 L1147.24 319.89 L1148.41 318.54 L1149.59 315.71 L1150.76 313.32" fill="none" stroke="#111111" stroke-width="1.35" stroke-dasharray="1.4 3.3" stroke-linejoin="round"/><path d="M669.98 296.36 L671.16 297.5 L672.33 300.71 L673.51 298.12 L674.68 302.07 L675.86 304.16 L677.03 303.07 L678.21 304.8 L680.09 309.25 L681.73 312.09 L682.91 314.77 L684.09 301.02 L685.26 298.64 L686.44 294.31 L687.61 290.12 L688.79 289.4 L689.96 291.47 L691.14 294.09 L692.31 294.23 L693.49 291.43 L694.66 285.54 L695.84 277.95 L697.01 271.41 L698.19 264.63 L699.37 261.35 L700.54 255.6 L701.72 259.33 L702.89 264.1 L704.07 268.56 L705.24 271.83 L706.42 273.32 L707.59 280.74 L708.77 284.4 L709.94 282.16 L711.12 279.78 L712.29 281.94 L713.47 276.34 L714.65 263.91 L715.82 249.74 L717 239.86 L718.17 234.81 L720.05 232.36 L721.7 230.97 L723.34 230.21 L725.22 232.57 L727.1 230.08 L728.75 232.95 L729.92 234.36 L731.1 230.51 L732.28 227.57 L734.16 228.33 L735.8 231.47 L737.45 234.05 L738.86 231.63 L739.8 221.4 L740.74 206.73 L741.68 202.97 L742.85 204.06 L744.03 209.31 L745.2 212.01 L746.38 207.7 L747.56 208.97 L748.73 213.79 L749.91 215.97 L751.08 221.99 L752.26 229.18 L753.43 234.17 L754.37 237.11 L755.31 226.06 L755.78 191.14 L756.96 189.02 L758.13 186.83 L759.31 179.76 L760.48 165.37 L761.66 160.64 L762.83 160.72 L764.01 160.95 L765.19 158.53 L766.36 158.85 L767.54 158.08 L768.71 155.98 L769.89 155.99 L771.06 146.65 L771.77 135.07 L772.47 128.36 L773.41 134.78 L774.59 143.24 L775.76 137.12 L776.94 136.55 L778.32 136.45 L779.7 134.84 L781.58 127.55 L783.23 130.8 L784.4 136.96 L785.58 127.03 L786.75 120.68 L787.93 116.64 L789.1 113.46 L790.28 109.45 L791.46 106.65 L792.63 111.75 L793.81 116.15 L794.98 114.67 L796.16 118.51 L797.33 111.33 L798.51 113.26 L799.68 110.59 L800.86 111.81 L801.56 120.89 L802.27 127.86 L803.21 126.01 L804.38 123.63 L805.09 115.76 L806.03 118.68 L806.97 123.68 L807.91 126.39 L809.09 127.89 L810.26 128.84 L811.44 125.61 L812.61 125.79 L813.79 127.41 L814.96 127.69 L816.14 126.18 L817.31 123.09 L818.49 120.22 L819.66 107.88 L820.6 103.24 L821.54 104.44 L822.48 113.86 L823.43 125.76 L824.37 130.03 L825.54 136.37 L826.72 148.81 L827.42 165.58 L828.13 179.15 L829.07 190.56 L830.24 195.69 L831.42 184.46 L832.12 151.53 L832.83 146.44 L833.77 161.3 L834.47 175.75 L835.18 185.15 L836.12 186.01 L837.29 183.88 L838.47 182.9 L839.65 181.09 L840.82 180.03 L842 182.94 L843.17 183.76 L844.35 180.71 L845.52 178.67 L846.7 174.6 L847.87 180.87 L849.05 186.1 L850.22 188.71 L851.4 190.99 L852.57 189.91 L853.75 184.34 L854.92 177.28 L856.1 176.6 L857.28 179.8 L858.45 183.04 L859.63 186.41 L860.8 188.81 L861.98 191.01 L863.15 189.99 L864.33 191.04 L865.5 193.19 L866.68 192.25 L867.85 191.39 L869.03 189.59 L870.2 190.96 L871.38 191.47 L872.56 192.31 L873.73 192.31 L874.91 193.02 L876.08 192.94 L877.26 193.65 L878.43 191.13 L879.61 198.22 L880.78 198.37 L881.96 200.27 L883.13 201.17 L884.31 202.46 L885.48 202.55 L886.66 200.47 L887.83 203.06 L889.01 205.23 L890.19 203.51 L891.36 204.62 L892.54 207.61 L893.71 209.63 L894.89 210.61 L896.06 212.49 L897.24 210.99 L898.41 213.01 L899.59 212.66 L900.76 212.61 L901.94 213.76 L903.09 212.01 L904.23 212.37 L905.88 216.1 L907.05 220.58 L908.23 217.31 L909.4 219.54 L910.58 223.9 L911.75 225.09 L912.93 220.25 L914.1 221.02 L915.28 222.16 L916.46 222.87 L917.4 233.17 L918.34 243.01 L919.28 245.07 L920.69 243.3 L922.33 242.29 L923.51 241.42 L924.68 242.82 L925.86 244.47 L927.03 246.3 L928.21 247.84 L929.38 248.96 L930.56 249.62 L931.73 252.38 L932.91 252.12 L934.09 253.46 L935.26 255.07 L936.44 255.46 L937.61 256.6 L938.79 258.2 L939.96 259.4 L941.14 259.3 L942.31 258.85 L943.49 259.7 L944.66 262.19 L945.84 267.23 L947.01 264.57 L948.19 261.75 L949.37 263.27 L950.54 265.51 L951.72 263.63 L952.89 261.86 L953.6 254.64 L954.54 249.45 L955.24 246.38 L956.42 250.1 L957.59 252.8 L958.77 248.01 L959.94 245.65 L961.12 246.62 L962.29 255.57 L963.47 266.81 L964.65 271.02 L965.82 275.86 L967 285.04 L968.17 276.11 L969.35 272.94 L970.52 277.86 L971.7 282.71 L972.87 287.35 L974.05 289.13 L975.22 287.1 L976.4 285.2 L977.57 283.46 L978.75 283.61 L979.92 284.77 L981.1 282.12 L982.28 280.4 L983.45 276.46 L984.63 273.7 L985.8 268.1 L986.98 264.09 L988.15 265.56 L989.33 268.62 L990.5 272.54 L991.68 271.63 L992.85 273.85 L994.03 274.83 L995.2 275.28 L996.38 277.23 L997.56 278.56 L998.73 281.06 L999.91 281.37 L1001.08 282.79 L1002.26 281.87 L1003.43 278.78 L1004.61 268.99 L1005.78 259.47 L1006.96 253 L1008.13 254.82 L1009.31 264.17 L1010.48 275.85 L1011.66 277.1 L1012.83 280.48 L1014.01 275.35 L1015.19 277.95 L1016.36 275.92 L1017.54 280.47 L1018.71 277.64 L1019.89 275.54 L1021.06 272.7 L1022.24 279.89 L1023.41 282.92 L1024.59 285.16 L1025.76 283.37 L1026.94 281.23 L1028.53 278.88 L1029.7 279.21 L1030.88 279.98 L1032.05 285.64 L1033.23 289.23 L1034.4 295.58 L1035.58 285.7 L1036.75 279.09 L1037.93 282.89 L1039.1 292.43 L1040.28 297.03 L1041.46 299.49 L1042.63 301.86 L1043.81 303.9 L1044.98 303.1 L1046.16 307.74 L1047.33 304.47 L1048.51 308.89 L1049.68 299.24 L1050.86 289.79 L1052.03 282.94 L1053.21 290.27 L1054.38 301.78 L1055.56 306.83 L1056.73 302.39 L1057.91 295.14 L1059.09 297.49 L1060.26 307.25 L1061.44 310.85 L1062.61 307.88 L1063.79 306.21 L1064.96 304.11 L1066.14 304.6 L1067.31 308.64 L1068.49 313.71 L1069.66 321.5 L1070.84 325.41 L1072.01 328.36 L1073.19 323.02 L1074.37 321.41 L1075.54 324.51 L1076.72 320.62 L1077.89 315.78 L1079.07 312.92 L1080.24 321 L1081.42 332.67 L1082.59 334.68 L1083.77 327.35 L1084.94 338.75 L1086.12 345.1 L1087.29 350.18 L1088.47 358.15 L1089.65 364.76 L1090.82 366.08 L1092 360.64 L1093.17 355.13 L1094.35 350.44 L1095.52 357.99 L1096.7 352.84 L1097.87 348.46 L1099.05 346.4 L1100.22 344.32 L1101.4 346.35 L1102.57 348.55 L1103.75 350.77 L1104.92 347.61 L1106.1 336.98 L1107.28 327.47 L1108.45 325.59 L1109.63 323.4 L1110.8 333.93 L1111.98 344.39 L1113.15 348.73 L1114.33 347.56 L1115.5 346.14 L1116.68 347.47 L1117.85 347.57 L1119.03 350.68 L1120.2 350 L1121.38 349.49 L1122.56 351.71 L1123.73 353.63 L1124.91 350.91 L1126.08 348.04 L1127.26 347.31 L1128.43 348.89 L1129.61 351.2 L1130.78 340.12 L1131.96 323.85 L1133.13 330.42 L1134.31 337.05 L1135.48 329.84 L1136.66 315.78 L1137.83 309.34 L1139.01 311.65 L1140.19 311.52 L1141.36 308.7 L1142.54 306.69 L1143.71 299.05 L1144.89 292.28 L1146.06 294.42 L1147.24 301.51 L1148.41 297.23 L1149.59 292.3 L1150.76 290.99" fill="none" stroke="#0000ff" stroke-width="1.55" stroke-linejoin="round"/><path d="M669.98 264.49 L671.16 258.88 L672.33 265.51 L673.51 269.88 L674.68 273.91 L675.86 275.13 L677.03 277.65 L678.21 277.71 L679.38 280.3 L680.56 281.09 L681.73 282.98 L682.91 286.21 L684.09 273.72 L685.26 270.08 L687.14 269.96 L688.79 271.07 L690.43 272.05 L692.31 269.85 L694.19 269.25 L695.84 266.09 L697.48 260.95 L698.9 253.6 L700.07 242.47 L701.25 249.71 L702.19 252.61 L703.6 254.97 L704.54 262.73 L705.95 269.69 L706.89 268.24 L708.3 265.91 L709.94 268.13 L711.59 268.48 L713 267.62 L713.94 258.96 L715.35 250.14 L716.29 241.57 L717.7 236.84 L719.35 230.54 L720.99 229.71 L722.87 229.08 L724.75 229.52 L726.4 228.19 L728.04 227.23 L729.92 230.44 L731.81 228.49 L733.45 231.34 L735.1 232.21 L736.98 232.25 L738.15 234.96 L739.33 224.35 L740.5 210.48 L741.68 204.89 L742.85 207.81 L744.03 208.95 L745.2 208.32 L746.38 209.68 L747.56 212.04 L748.73 214.86 L750.61 217.55 L752.26 222.23 L753.43 224.84 L754.61 230.72 L755.78 193.45 L756.96 188.76 L758.13 191.23 L759.31 187.06 L760.48 175.03 L761.66 172.01 L762.83 170.44 L764.01 173.15 L765.19 177.92 L766.36 174.7 L767.54 179.18 L768.71 172.33 L769.89 174.4 L771.06 166.93 L772.24 157.11 L773.41 159.6 L774.59 169.48 L775.76 166.77 L776.94 162.81 L778.53 163.71 L779.7 161.97 L780.88 160.21 L782.05 165.32 L783.23 161.14 L784.4 163.69 L785.58 168.7 L786.28 170.65 L787.22 152.02 L787.93 146.69 L789.1 144.25 L790.28 143.47 L791.46 144.35 L792.63 145.18 L793.81 146.16 L794.98 143.67 L796.16 145.85 L797.33 148.75 L798.51 144.14 L799.68 145.92 L800.86 153.68 L802.03 163.37 L803.21 168.06 L804.38 163.69 L805.56 154.59 L806.73 159.15 L807.91 163.08 L809.09 159.78 L810.26 157.89 L811.44 155.42 L812.61 156.85 L813.79 153.09 L814.96 156.25 L816.14 158.1 L817.31 156.7 L818.49 150.92 L819.66 136.83 L820.84 129.94 L822.01 125.15 L823.19 135.18 L824.37 139.19 L825.54 148.16 L826.72 163.01 L827.42 184.69 L828.13 198.78 L829.07 208.01 L830.24 212.36 L831.42 214.79 L832.12 191.55 L832.83 172.29 L833.77 179 L834.47 187.76 L835.65 198.08 L836.59 199.66 L838 200.9 L839.65 202.39 L840.82 203.65 L842 205.75 L843.17 203.24 L844.35 200.51 L845.52 197.54 L846.7 195.53 L847.87 201.02 L849.05 203.54 L850.22 202.22 L851.4 198.9 L852.57 195.46 L853.75 193.44 L854.92 191.08 L856.1 187.61 L857.28 191.51 L858.45 192.82 L859.63 193.74 L860.8 194.77 L861.98 193.96 L863.15 196.91 L864.33 194.45 L865.5 193.38 L866.68 191.72 L867.85 192.94 L869.03 193.24 L870.2 193.19 L871.38 190.99 L872.56 192.23 L873.73 193.77 L874.91 194.7 L876.08 195.98 L877.26 200.69 L878.43 203.31 L879.61 197.91 L880.78 199.33 L881.96 201.25 L883.13 203.41 L884.31 204.78 L885.48 208.32 L886.66 210.26 L887.83 208.49 L889.01 209.13 L890.19 210.61 L891.36 212.71 L892.54 214.87 L893.71 215.74 L894.89 218.64 L896.06 220.06 L897.24 220.53 L898.41 218.69 L899.59 218.58 L900.76 217.31 L901.94 218.04 L903.09 220.43 L904.23 218.66 L905.88 220.69 L907.05 221.16 L908.23 222.71 L909.4 224.12 L910.58 224.68 L911.75 225.27 L912.93 226.99 L914.1 228.82 L915.28 230.98 L916.46 232.44 L917.4 239.42 L918.34 249.49 L919.28 251.82 L920.69 254.06 L922.33 254.15 L923.51 254.6 L924.68 254.87 L925.86 255.89 L927.03 257.29 L928.21 258.55 L929.38 259.59 L930.56 258.53 L931.73 259.09 L932.91 260.53 L934.09 262.23 L935.26 263.44 L936.44 264.39 L937.61 266.17 L938.79 265.01 L939.96 263.8 L941.14 266.33 L942.31 267.8 L943.49 266.14 L944.66 264.19 L945.84 259.9 L947.01 257.3 L948.19 260.4 L949.37 264.27 L950.54 258.6 L951.72 256.92 L952.89 254.09 L954.07 251.92 L955.24 249.08 L956.42 252.61 L957.59 249.77 L958.77 247.38 L959.94 249.22 L961.12 252.52 L962.29 259.26 L963.47 268.75 L964.65 273.04 L965.82 277.31 L967 280.44 L968.17 278.54 L969.35 276.39 L970.52 279.18 L971.7 281.14 L972.87 282.98 L974.05 281.81 L975.22 283.28 L976.4 285.57 L977.57 286.52 L978.75 285.77 L979.92 287.25 L981.1 284.06 L982.28 280.81 L983.45 277.96 L984.63 275.87 L985.8 273.9 L986.98 268.94 L988.15 269.47 L989.33 271.26 L990.5 273.48 L991.68 275.3 L992.85 277.55 L994.03 278.99 L995.2 277.72 L996.38 279.96 L997.56 280.5 L998.73 282.3 L999.91 285.19 L1001.08 288.15 L1002.26 286.3 L1003.43 282.21 L1004.61 272.63 L1005.78 264.13 L1006.96 254.22 L1008.13 260.08 L1009.31 268.49 L1010.48 272.23 L1011.66 274.65 L1012.83 271.11 L1014.01 268.28 L1015.19 270.76 L1016.36 270.05 L1017.54 273.59 L1018.71 272.57 L1019.89 269.13 L1021.06 269.96 L1022.24 273.73 L1023.41 278.36 L1024.59 280.5 L1025.76 277.82 L1026.94 276.15 L1028.53 275.88 L1029.7 273.26 L1030.88 270.36 L1032.05 272.87 L1033.23 275.86 L1034.4 285.14 L1035.58 280.18 L1036.75 272.25 L1037.93 275.2 L1039.1 286.91 L1040.28 288.84 L1041.46 291.26 L1042.63 291.59 L1043.81 294.48 L1044.98 296.66 L1046.16 299.48 L1047.33 294.89 L1048.51 289.4 L1049.68 285.73 L1050.86 279.04 L1052.03 276.7 L1053.21 285.19 L1054.38 291.51 L1055.56 296.12 L1056.73 293.39 L1057.91 291.24 L1059.09 294.71 L1060.26 301.85 L1061.44 306.07 L1062.61 308.57 L1063.79 310.33 L1064.96 311.42 L1066.14 313.02 L1067.31 317.25 L1068.49 322.58 L1069.66 330.32 L1070.84 334.62 L1072.01 337.13 L1073.19 332.55 L1074.37 329.7 L1075.54 327.67 L1076.72 325 L1077.89 325.45 L1079.07 327.33 L1080.24 334.57 L1081.42 339.04 L1082.59 341.24 L1083.77 343.73 L1084.94 346.38 L1086.12 347.97 L1087.29 352.87 L1088.47 355.65 L1089.65 357.77 L1090.82 356.82 L1092 352.68 L1093.17 350.36 L1094.35 348.32 L1095.52 346.03 L1096.7 343.45 L1097.87 342.43 L1099.05 340.11 L1100.22 336.94 L1101.4 342.08 L1102.57 344.22 L1103.75 346.24 L1104.92 343.52 L1106.1 338.72 L1107.28 333.92 L1108.45 331.79 L1109.63 335.37 L1110.8 339.71 L1111.98 343.63 L1113.15 345.61 L1114.33 343.69 L1115.5 344.8 L1116.68 348.63 L1117.85 350.82 L1119.03 348.93 L1120.2 348.42 L1121.38 351.85 L1122.56 352.16 L1123.73 353.62 L1124.91 352.06 L1126.08 349.14 L1127.26 352.06 L1128.43 353.64 L1129.61 355.84 L1130.78 353.59 L1131.96 351.26 L1133.13 355.44 L1134.31 357.86 L1135.48 347.81 L1136.66 339.02 L1137.83 334.27 L1139.01 335.89 L1140.19 333.35 L1141.36 332.07 L1142.54 329.48 L1143.71 327.66 L1144.89 322.98 L1146.06 325.73 L1147.24 328.01 L1148.41 322.5 L1149.59 321.55" fill="none" stroke="#ff0000" stroke-width="1.5" stroke-dasharray="8.5 3.8" stroke-linejoin="round"/><line x1="643.25" x2="646" y1="99.8" y2="99.8" stroke="#333" stroke-width="1.1"/><text x="641.7" y="103.4" font-family='"Liberation Sans", sans-serif' font-size="8.6" letter-spacing="-0.35" text-anchor="end" fill="#4d4d4d">8</text><line x1="643.25" x2="646" y1="191.2" y2="191.2" stroke="#333" stroke-width="1.1"/><text x="641.7" y="194.8" font-family='"Liberation Sans", sans-serif' font-size="8.6" letter-spacing="-0.35" text-anchor="end" fill="#4d4d4d">4</text><line x1="643.25" x2="646" y1="282.6" y2="282.6" stroke="#333" stroke-width="1.1"/><text x="641.7" y="286.2" font-family='"Liberation Sans", sans-serif' font-size="8.6" letter-spacing="-0.35" text-anchor="end" fill="#4d4d4d">0</text><line x1="643.25" x2="646" y1="374" y2="374" stroke="#333" stroke-width="1.1"/><text x="641.7" y="377.6" font-family='"Liberation Sans", sans-serif' font-size="8.6" letter-spacing="-0.35" text-anchor="end" fill="#4d4d4d">-4</text><line x1="755.1" x2="755.1" y1="382" y2="384.75" stroke="#333" stroke-width="1.1"/><text x="755.1" y="393.7" font-family='"Liberation Sans", sans-serif' font-size="8.6" letter-spacing="-0.35" text-anchor="middle" fill="#4d4d4d">2020-01</text><line x1="940.33" x2="940.33" y1="382" y2="384.75" stroke="#333" stroke-width="1.1"/><text x="940.33" y="393.7" font-family='"Liberation Sans", sans-serif' font-size="8.6" letter-spacing="-0.35" text-anchor="middle" fill="#4d4d4d">2020-07</text><line x1="1127.6" x2="1127.6" y1="382" y2="384.75" stroke="#333" stroke-width="1.1"/><text x="1127.6" y="393.7" font-family='"Liberation Sans", sans-serif' font-size="8.6" letter-spacing="-0.35" text-anchor="middle" fill="#4d4d4d">2021-01</text><text x="910.5" y="403.5" font-family='"Liberation Sans", sans-serif' font-size="9.5" text-anchor="middle" fill="#000">Time</text><text transform="translate(631.9,236.8) rotate(-90)" x="0" y="0" font-family='"Liberation Sans", sans-serif' font-size="9.5" text-anchor="middle" fill="#000">DY NET of EOS</text><text x="792.8" y="73.1" font-family='"Liberation Sans", sans-serif' font-size="9.3" fill="#000">exchange</text><rect x="836.8" y="62.1" width="14" height="13.3" fill="#f2f2f2"/><line x1="837.8" x2="849.3" y1="69.2" y2="69.2" stroke="#9317f0" stroke-width="1.5" stroke-dasharray="2.6 2.2 6.4 10" stroke-linecap="butt"/><text x="855.8" y="72.8" font-family='"Liberation Sans", sans-serif' font-size="7.6" fill="#1a1a1a">eos_bf</text><rect x="884.4" y="62.1" width="14" height="13.3" fill="#f2f2f2"/><line x1="886.7" x2="897.4" y1="69.2" y2="69.2" stroke="#111" stroke-width="1.5" stroke-dasharray="0.01 4.9" stroke-linecap="round"/><text x="903" y="72.8" font-family='"Liberation Sans", sans-serif' font-size="7.6" fill="#1a1a1a">eos_bn</text><rect x="933.4" y="62.1" width="14" height="13.3" fill="#f2f2f2"/><line x1="934.4" x2="946.4" y1="69.2" y2="69.2" stroke="#0000ff" stroke-width="1.5"/><text x="952.3" y="72.8" font-family='"Liberation Sans", sans-serif' font-size="7.6" fill="#1a1a1a">eos_cb</text><rect x="982.6" y="62.1" width="14" height="13.3" fill="#f2f2f2"/><line x1="983.6" x2="992.6" y1="69.2" y2="69.2" stroke="#ff0000" stroke-width="1.5"/><text x="1001.5" y="72.8" font-family='"Liberation Sans", sans-serif' font-size="7.6" fill="#1a1a1a">eos_oe</text></g><g><text x="300.4" y="452.1" font-family='"Liberation Serif", serif' font-size="27.7" text-anchor="middle" fill="#000">(c) The dynamic comparison of NET for ETH.</text><rect x="44" y="502" width="531" height="293" fill="#ebebeb"/><line x1="44" x2="575" y1="538.6" y2="538.6" stroke="#f4f4f4" stroke-width="1.05"/><line x1="44" x2="575" y1="620.6" y2="620.6" stroke="#f4f4f4" stroke-width="1.05"/><line x1="44" x2="575" y1="702.6" y2="702.6" stroke="#f4f4f4" stroke-width="1.05"/><line x1="44" x2="575" y1="784.6" y2="784.6" stroke="#f4f4f4" stroke-width="1.05"/><line x1="61.39" x2="61.39" y1="502" y2="795" stroke="#f4f4f4" stroke-width="1.05"/><line x1="247.21" x2="247.21" y1="502" y2="795" stroke="#f4f4f4" stroke-width="1.05"/><line x1="434.06" x2="434.06" y1="502" y2="795" stroke="#f4f4f4" stroke-width="1.05"/><line x1="44" x2="575" y1="579.6" y2="579.6" stroke="#fafafa" stroke-width="1.35"/><line x1="44" x2="575" y1="661.6" y2="661.6" stroke="#fafafa" stroke-width="1.35"/><line x1="44" x2="575" y1="743.6" y2="743.6" stroke="#fafafa" stroke-width="1.35"/><line x1="154.3" x2="154.3" y1="502" y2="795" stroke="#fafafa" stroke-width="1.35"/><line x1="340.13" x2="340.13" y1="502" y2="795" stroke="#fafafa" stroke-width="1.35"/><line x1="528" x2="528" y1="502" y2="795" stroke="#fafafa" stroke-width="1.35"/><path d="M68.06 730.97 L68.76 735.6 L69.71 729.12 L70.65 737.96 L71.6 733.87 L72.78 725.61 L73.96 719.03 L75.14 714.52 L76.32 709.48 L77.5 708.91 L78.67 710.06 L79.85 709.66 L81.03 712.36 L81.74 722.11 L82.45 734.11 L83.39 726.44 L84.57 724.16 L85.75 726.3 L86.93 723.71 L88.11 721.11 L89.29 718.34 L90.47 712.13 L91.65 707.29 L92.83 714.25 L93.78 738.54 L94.72 752.1 L95.66 759.49 L96.61 763.82 L97.55 775.42 L98.26 761.41 L99.44 747.51 L100.38 728.16 L101.33 713.7 L102.27 701.95 L103.45 699.9 L104.63 702.71 L105.81 705.37 L106.99 704.98 L108.17 708.41 L109.35 710.67 L110.53 707.41 L111.71 709.24 L112.89 713.76 L114.07 717.55 L115.25 709.72 L116.43 707.03 L117.61 708.99 L118.79 714.2 L119.97 716.42 L121.15 718.8 L122.33 723.16 L123.51 726.01 L124.69 728.01 L125.87 730.54 L127.05 731.66 L128.23 729.95 L129.41 728.11 L130.59 726.05 L131.77 721.06 L132.95 718.63 L134.13 723.02 L134.83 730 L135.78 722.89 L136.72 710.4 L137.66 707.45 L138.84 709.29 L140.02 711.79 L141.2 713.95 L142.38 715.9 L143.56 714.42 L144.74 715.29 L145.92 716.62 L147.1 716.04 L148.28 714.31 L149.46 716.26 L150.64 717.69 L151.82 719.47 L153 723.28 L154.18 728.38 L155.36 724.37 L156.54 722.01 L157.72 710.05 L158.9 699.81 L159.85 703.87 L160.79 718.82 L161.73 732.41 L162.68 740.4 L163.62 744.89 L164.8 747.35 L165.98 751.74 L167.16 757.13 L168.34 759.56 L169.52 757.1 L170.7 754.64 L171.88 752.14 L173.06 749.6 L174.24 747.26 L175.42 744.3 L176.54 747.24 L177.72 744.96 L178.9 747.16 L180.08 742.21 L181.26 737.35 L182.44 742.49 L183.62 738.15 L184.8 744.5 L185.98 747.38 L187.16 740.27 L188.34 735.87 L189.52 742.15 L190.7 749.47 L191.88 751.55 L193.06 754.5 L194.24 752.24 L195.42 747.57 L196.6 745.04 L197.78 739.91 L198.96 735.1 L199.66 719.58 L200.37 710.4 L201.32 707.31 L202.26 711.81 L203.2 714.81 L204.15 724.33 L205.09 730.23 L206.03 736.03 L207.21 741.33 L208.39 742.82 L209.57 738.15 L210.75 732.62 L211.93 729.91 L213.11 732.44 L214.29 739.94 L215.47 757.28 L216.65 766.68 L217.83 771.07 L219.01 776.19 L220.19 778.09 L221.37 781.81 L222.08 764.02 L223.02 748.14 L223.97 728.43 L224.91 719.43 L226.09 713.89 L227.27 721.29 L228.45 719.39 L229.63 721.63 L230.81 728.79 L231.99 731.35 L233.17 738.58 L234.35 743.41 L235.53 749.93 L236.71 753.81 L237.89 755.71 L239.07 760.51 L240.25 763.68 L241.43 760.49 L242.61 758.08 L243.79 762.13 L244.97 763.5 L246.15 765.37 L247.33 765.84 L248.51 763.88 L249.69 759.3 L250.87 747.4 L252.05 738.08 L253.23 726.13 L254.41 733.17 L255.59 739.85 L256.77 747.07 L257.95 749.23 L259.13 752 L260.31 747.23 L261.49 741.76 L262.66 735.14 L263.84 729.04 L265.02 723.3 L266.2 715.81 L267.38 719.12 L268.56 728.43 L269.74 735.46 L270.92 739.77 L272.1 746.37 L273.28 748.69 L274.46 737.35 L275.64 730.98 L276.82 729.22 L278 733.83 L279.18 736.13 L280.36 738.41 L281.54 740.15 L282.72 744.3 L283.9 749.54 L285.08 757.25 L286.26 761.56 L287.44 768.73 L288.62 757.15 L289.8 742.91 L290.98 728.53 L292.16 714.48 L293.34 709.96 L294.52 707.44 L295.7 709.26 L296.88 711.22 L298.06 713.27 L299.24 715.55 L300.42 715.93 L301.54 714.65 L302.72 713.56 L303.9 711.64 L305.08 709.11 L306.26 707.79 L307.44 709.76 L308.62 705.12 L309.8 708.11 L310.98 709.89 L312.16 711.76 L313.34 706.24 L314.52 713.24 L315.7 720.32 L316.4 713.96 L317.35 709.62 L318.29 703.01 L319.24 681.8 L319.94 679.82 L320.65 684.81 L321.6 688.78 L322.78 691.02 L323.96 696.08 L325.14 693.65 L326.32 695.08 L327.5 695.66 L328.67 693.28 L329.85 696.09 L331.03 693.5 L332.21 697.44 L333.39 681.38 L334.57 669.31 L335.75 664.78 L336.93 662.56 L338.11 664.22 L339.29 662.23 L340.47 661.32 L341.65 662.41 L342.83 660.2 L344.01 653.58 L345.19 646.6 L345.9 657.78 L346.61 662.68 L347.55 653.06 L348.73 636.87 L349.91 631.73 L351.09 634.39 L352.27 636.24 L353.45 639.05 L354.16 648.5 L354.87 660.08 L355.57 652.97 L356.52 643.94 L357.46 637.02 L358.41 634.13 L359.35 636.43 L360.53 639.53 L361.71 643.25 L362.42 634.21 L363.13 614.59 L364.07 595.89 L365.01 581.65 L365.72 572.18 L366.43 570.92 L367.61 566.25 L368.79 568.07 L369.97 572.61 L371.15 578.25 L372.33 580.84 L373.51 582.85 L374.69 584.62 L375.87 589.42 L377.05 591.56 L378.23 588.97 L379.41 586.45 L380.59 588.88 L381.77 591.66 L382.95 593.77 L384.13 596.04 L385.31 598.26 L386.49 593.37 L387.66 592.33 L388.84 596.17 L390.02 600.43 L391.2 595.77 L392.38 588.88 L393.56 584.13 L394.74 579.08 L395.92 574.98 L397.1 572.63 L398.28 570.07 L399.46 568.03 L400.64 566.36 L401.82 564.07 L403 561.54 L404.18 555.97 L405.36 541.74 L406.54 527.75 L407.72 523.18 L408.43 526.06 L409.37 539.2 L410.32 553.93 L411.26 567.41 L412.44 577.11 L413.62 581.29 L414.8 579.48 L415.98 581.92 L417.16 587.39 L418.34 592.46 L419.52 596.83 L420.7 600.92 L421.88 605.54 L423.06 603.07 L424.24 605.38 L425.42 605.18 L426.54 605.06 L427.72 610.72 L428.9 614.51 L430.08 619.43 L431.26 622.68 L432.44 627.84 L433.62 634.19 L434.8 639.17 L435.98 636.71 L437.16 634.09 L438.34 632.22 L439.52 629.58 L440.7 624.82 L441.88 622.72 L443.06 627.14 L444.24 633.51 L445.42 635.77 L446.6 634 L447.78 629.45 L448.96 627.04 L450.14 624.41 L451.32 622.26 L452.5 615.1 L453.67 601.81 L454.85 592.64 L456.03 587.4 L457.21 582.67 L458.39 581.03 L459.57 582.11 L460.75 582.96 L461.93 583.94 L463.11 581.92 L464.29 573.54 L465 561.26 L465.94 544.76 L466.89 540.25 L467.83 547.21 L469.01 552.43 L470.19 553.21 L471.37 552.04 L472.55 554.33 L473.73 553.45 L474.91 555.08 L476.09 556.28 L477.27 553.32 L478.45 551.42 L479.63 552.63 L480.81 558.43 L481.99 570.47 L483.17 577.88 L484.35 585.17 L485.53 592.79 L486.24 608.53 L487.18 625.82 L488.13 634.8 L489.07 639.03 L490.25 642 L491.43 643.32 L492.61 646.24 L493.79 647.8 L494.97 648.31 L496.15 649.38 L497.33 650.39 L498.51 653.72 L499.69 658.13 L500.87 660.96 L502.05 658.4 L503.23 655.05 L504.41 652.68 L505.59 654.37 L506.77 655.67 L507.95 658.26 L509.13 652.82 L510.31 655.46 L511.49 667.49 L512.66 681.55 L513.84 697.73 L514.55 710.5 L515.5 691.54 L516.44 681.99 L517.38 678.55 L518.56 675.59 L519.74 670.9 L520.92 667.39 L522.1 664.71 L523.28 662.55 L524.46 657.8 L525.64 652.86 L526.82 649.57 L528 651.83 L529.18 652.29 L530.36 657.94 L531.54 660.54 L532.72 655.32 L533.9 653.35 L535.08 659.72 L536.26 664.36 L537.44 666.67 L538.62 669.65 L539.8 667.09 L540.98 669.86 L542.16 672.38 L543.34 685.97 L544.52 700.33 L545.7 706.71 L546.88 711.25 L548.06 708.7 L549.24 706.61 L550.42 711.4 L551.6 719.08" fill="none" stroke="#9317f0" stroke-width="1.5" stroke-dasharray="2.6 2.2 6.4 2.2" stroke-linejoin="round"/><path d="M68.06 676.07 L69.24 674.04 L70.42 669.25 L71.6 667.49 L72.78 662.04 L73.96 654.9 L75.14 645.82 L76.32 642.98 L77.5 645.61 L78.67 650.48 L79.85 652.84 L81.03 657.66 L82.21 662.84 L83.39 665.04 L84.57 665.46 L85.75 663.12 L86.93 660.47 L88.11 658.2 L89.29 658.36 L90.47 652.93 L91.65 643.32 L92.83 653.3 L93.78 666.7 L94.72 687.71 L95.66 704.88 L96.61 719.18 L97.55 727.82 L98.5 733.04 L99.44 721.31 L100.38 707.16 L101.33 697.56 L102.27 695.97 L103.45 693 L104.63 694.5 L105.81 695.5 L106.99 695.74 L108.17 696.96 L109.35 697.57 L110.53 700.04 L111.71 700.91 L112.89 699.8 L114.07 696.88 L115.25 695.51 L116.43 693.04 L117.61 695.88 L118.79 698.32 L119.97 700.56 L121.15 703.69 L122.33 704.26 L123.51 705.02 L124.69 707.25 L125.87 709.17 L127.05 708.96 L128.23 707.58 L129.41 705.71 L130.59 702.55 L131.77 699.49 L132.95 698.49 L134.13 705.65 L135.31 695.33 L136.49 681.32 L137.66 671.99 L138.84 666.84 L140.02 665.01 L141.2 665.64 L142.38 664.25 L143.56 665.22 L144.74 666.81 L145.92 669.94 L147.1 670.63 L148.28 671.12 L149.46 673.86 L150.64 672.05 L151.82 669.88 L153 673.26 L154.18 671.43 L155.36 667.11 L156.54 664.94 L157.72 657.78 L158.9 648.57 L159.85 645.85 L160.79 658.27 L161.73 668.24 L162.68 677.17 L163.62 684.6 L164.8 688.26 L165.98 693.54 L167.16 695.48 L168.34 697.85 L169.52 698.99 L170.7 700.45 L171.88 697.41 L173.06 696.52 L174.24 696.06 L175.42 693.91 L176.57 690.79 L177.72 687.97 L178.9 686.66 L180.08 686.62 L181.26 689.23 L182.44 688.8 L183.62 688.23 L184.8 686.29 L185.98 686.81 L187.16 683.85 L188.34 688.36 L189.52 687.17 L190.7 687.96 L191.88 688.51 L193.06 691.74 L194.24 691.32 L195.42 690.73 L196.6 685.75 L197.78 680.91 L198.96 667.05 L200.14 643.47 L201.32 633.91 L202.5 643.12 L203.67 652.94 L204.85 659.24 L206.03 662.3 L207.21 663.77 L208.39 664.76 L209.57 663.61 L210.75 664.89 L211.93 664.96 L213.11 664.86 L214.29 667.21 L215.47 679.81 L216.65 691.61 L217.83 700.86 L219.01 710.61 L220.19 719.26 L221.37 723.83 L222.55 714.32 L223.73 704.29 L224.91 695.07 L226.09 681 L227.27 667.05 L228.45 664.09 L229.63 670.77 L230.81 680.2 L231.99 671.34 L233.17 662.42 L234.35 658.19 L235.53 658.04 L236.71 663.2 L237.89 665.76 L239.07 667.37 L240.25 667.23 L241.43 667.06 L242.61 666.13 L243.79 667.46 L244.97 669.21 L246.15 672.18 L247.33 672.56 L248.51 672.77 L249.69 669.17 L250.87 661.99 L252.05 647.85 L253.23 638.16 L254.41 642.71 L255.59 652.36 L256.77 656.61 L257.95 655.21 L259.13 653.17 L260.31 648.58 L261.49 643.41 L262.66 634.08 L263.84 626.6 L265.02 622.87 L266.2 624.96 L267.38 635.08 L268.56 641.84 L269.74 643.72 L270.92 646.25 L272.1 647.98 L273.28 651.04 L274.46 653.27 L275.64 650.42 L276.82 655.49 L278 652.21 L279.18 656.75 L280.36 655.59 L281.54 658.86 L282.72 661.22 L283.9 665.12 L285.08 667.04 L286.26 671.68 L287.44 680.91 L288.62 676.38 L289.8 664.8 L290.98 653.25 L292.16 646.2 L293.34 643.77 L294.52 644.76 L295.7 645.91 L296.88 647.66 L298.06 648.12 L299.24 648.92 L300.42 649.6 L301.57 648.41 L302.72 648.42 L303.9 644.8 L305.08 647.16 L306.26 647.75 L307.44 646.19 L308.62 647.07 L309.8 648.96 L310.98 651.79 L312.16 652.46 L313.34 655.81 L314.52 657.81 L315.7 659.64 L316.88 657.66 L318.06 650.78 L319.24 643.07 L320.42 644.82 L321.6 647.63 L322.78 647.18 L323.96 648.29 L325.14 650.19 L326.32 646.55 L327.5 644.89 L328.67 644.62 L329.85 645.4 L331.03 642.33 L332.21 641.23 L333.39 639.98 L334.57 639.14 L335.75 637.28 L336.93 635.9 L338.11 635.64 L339.29 634.2 L340.47 633.28 L341.65 633.13 L342.83 629.59 L344.01 623.42 L345.19 619.74 L346.37 616.44 L347.55 610.92 L349.44 603.8 L351.09 612.72 L352.74 622.54 L354.63 634.02 L356.52 624.93 L358.41 617.21 L360.53 612.33 L362.18 596.41 L363.6 578.59 L365.01 565.64 L366.43 560.62 L367.84 558.15 L369.26 560.4 L371.15 562.81 L373.04 570.25 L374.69 577.52 L376.34 582.39 L378.23 584.32 L379.41 582.16 L380.59 581.8 L381.77 583.55 L382.95 586.63 L384.13 588.61 L385.31 589.91 L386.49 590.61 L387.66 589.67 L388.84 588.65 L390.02 591.55 L391.2 590.36 L392.38 584.49 L393.56 578.45 L394.74 574.99 L395.92 573.75 L397.1 568.37 L398.28 567.04 L399.46 565.7 L400.64 564.04 L401.82 563.84 L403 559.13 L404.18 553.94 L406.07 537.63 L407.72 521.67 L408.9 523.42 L410.32 541.94 L411.73 558.41 L413.62 579.49 L415.51 596.26 L417.16 603.6 L418.81 613.61 L420.7 620.72 L422.59 627.28 L424.24 625.08 L425.98 623.98 L427.72 619.12 L428.9 625.15 L430.08 625.03 L431.26 630.26 L432.44 638.57 L433.62 645.11 L434.8 650.42 L435.98 651.81 L437.16 652.14 L438.34 652.89 L439.52 649.27 L440.7 647.68 L441.88 643.88 L443.06 646.17 L444.24 647.91 L445.42 653.14 L446.6 652.86 L447.78 649.41 L448.96 643.57 L450.14 638.7 L451.32 633.24 L452.5 625.02 L453.67 620.25 L454.85 615.42 L456.03 610.37 L457.21 609.28 L458.39 608.17 L459.57 608.95 L460.75 611.23 L461.93 609.09 L463.11 605.75 L465 590.43 L465.94 568.22 L466.89 560.44 L468.3 567.27 L470.19 571.83 L471.37 570.2 L472.55 572.01 L473.73 572.47 L474.91 574.92 L476.09 571.94 L477.27 569.67 L478.45 568.51 L479.63 567.48 L481.52 572.84 L483.17 584.65 L484.82 596.69 L486.24 619.91 L487.65 642.8 L489.07 661.8 L490.25 667.52 L491.43 671.69 L492.61 669.38 L493.79 667.36 L494.97 670.29 L496.15 671.73 L497.33 670 L498.51 673.32 L499.69 670.5 L500.87 673.89 L502.05 671.75 L503.23 673.9 L504.41 670.21 L505.59 671.15 L506.77 672.37 L507.95 672.1 L509.13 677.11 L510.31 676.13 L511.49 683 L512.66 690.92 L513.84 695.99 L515.02 696.28 L516.2 693.31 L517.38 688.18 L518.56 684.33 L519.74 681.77 L520.92 681.54 L522.1 675.1 L523.28 672.53 L524.46 667.2 L525.64 664 L526.82 662.33 L528 670.29 L529.18 671.71 L530.36 674.55 L531.54 679.67 L532.72 683 L533.9 684.05 L535.08 687.49 L536.26 688 L537.44 690.66 L538.62 690.92 L539.8 688.75 L540.98 688.26 L542.16 696.46 L543.34 704.49 L544.52 710.65 L545.7 718.57 L546.88 724.9 L548.06 731.36 L549.24 741.21 L550.42 751.46 L551.6 763.92" fill="none" stroke="#111111" stroke-width="1.35" stroke-dasharray="1.4 3.3" stroke-linejoin="round"/><path d="M68.06 687.69 L69.24 680.72 L70.42 686.09 L71.6 678.78 L72.78 675.95 L73.96 671.17 L75.14 668.75 L76.32 667.16 L77.5 668.49 L78.67 670.97 L79.85 671.88 L81.03 666.57 L81.74 671.73 L82.45 683.19 L83.39 675.88 L84.57 681.3 L85.75 677.2 L86.93 671.68 L88.11 666.9 L89.29 664.92 L90.47 662.51 L91.65 659.91 L92.83 658 L93.54 662.45 L94.25 672.26 L95.19 691.06 L96.14 709.38 L97.08 728.92 L97.79 745.67 L98.73 741.4 L99.44 729.02 L100.38 714.62 L101.33 700.1 L102.27 682.03 L102.98 667.53 L103.69 657.64 L104.63 656.13 L105.81 657.39 L106.99 652.55 L108.17 651.02 L109.35 655.24 L110.53 652.82 L111.71 649.53 L112.89 655.75 L114.07 659.94 L115.25 667.83 L115.96 657.46 L116.9 655.13 L117.84 662 L118.79 671.62 L119.97 681.13 L121.15 690.95 L122.33 686.42 L123.51 688.7 L124.69 690.64 L125.87 695.14 L127.05 697.58 L128.23 695.46 L129.41 690.98 L130.59 676.22 L131.29 672.44 L132 679.05 L132.95 689.2 L133.65 670.94 L134.83 667.19 L135.78 662.45 L137.19 660.3 L138.84 660.38 L140.5 658.54 L142.38 658.1 L144.27 659.93 L145.92 658.75 L147.1 655.46 L148.28 657.75 L149.46 655.83 L150.88 652.85 L151.82 661.95 L153 664.89 L154.18 662.93 L155.36 661.34 L156.54 660.08 L157.72 653.08 L158.43 639.1 L159.14 633.83 L159.85 643.3 L160.79 653.06 L161.73 664.88 L162.68 670.04 L163.62 671.22 L164.8 676.08 L165.98 681.07 L167.16 688.87 L168.34 692.81 L169.52 695.86 L170.7 698.02 L171.88 697.46 L173.06 693.97 L174.24 686.49 L175.42 682.46 L176.54 681.45 L177.72 680.44 L178.9 681.79 L180.08 684.17 L181.26 686.3 L182.44 691.1 L183.62 693.84 L184.8 691.38 L185.98 689.38 L187.16 687.17 L188.34 688.11 L189.52 690.8 L190.7 695.33 L191.88 696.72 L193.06 699.46 L194.24 700.7 L195.42 701.44 L196.6 702.62 L197.78 701.89 L198.96 699.2 L199.66 680.2 L200.37 666.55 L201.32 657.61 L202.26 654.96 L203.2 662.18 L204.15 672.16 L205.09 679.53 L206.03 686.44 L207.21 690.99 L208.39 693.72 L209.57 691.14 L210.75 689.47 L211.93 689.16 L213.11 691.89 L214.29 693.1 L215.47 702.66 L216.65 708.52 L217.83 718.54 L219.01 730.15 L220.19 737.91 L221.37 745.07 L222.55 738.17 L223.73 717.2 L224.44 709.21 L225.38 711.36 L226.33 707.27 L227.27 698.26 L228.45 691.35 L229.63 696.21 L230.81 702.49 L231.99 710.49 L233.17 705.18 L234.35 689.31 L235.53 681.52 L236.71 686.25 L237.89 693.08 L239.07 696.75 L240.25 695.01 L241.43 696.06 L242.61 697.4 L243.79 694.79 L244.97 697.45 L246.15 698.37 L247.33 697.23 L248.51 695.85 L249.69 695.45 L250.87 690.81 L252.05 676.01 L253.23 667.15 L254.41 669.48 L255.59 672.11 L256.77 676.3 L257.95 676.36 L259.13 678.05 L260.31 679.69 L261.49 671.84 L262.66 658.04 L263.84 647.53 L265.02 642.75 L266.2 647.83 L267.38 652.1 L268.56 657.32 L269.74 663.27 L270.92 664.9 L272.1 660.57 L273.28 653.43 L274.46 657.35 L275.64 664.82 L276.82 667.25 L278 662.18 L279.18 672.64 L280.36 677.21 L281.54 666.7 L282.72 666.32 L283.9 669.53 L285.08 674.38 L286.26 682.23 L286.97 698.33 L287.91 690.79 L288.62 685.56 L289.8 674.39 L290.98 665.92 L292.16 660.64 L293.34 657.86 L294.52 659.96 L295.7 665.14 L296.88 667.93 L298.06 668.37 L299.24 671.03 L300.42 668.42 L301.54 668.15 L302.72 667.29 L303.9 667.53 L305.08 666.11 L306.26 665.17 L307.44 664.51 L308.62 662.56 L309.8 660.22 L310.98 658.66 L312.16 657.17 L313.34 659.26 L314.52 662.43 L315.7 664.57 L316.88 661.94 L318.06 654.89 L319.24 644.03 L319.94 637.68 L320.65 640.46 L321.6 645.97 L322.78 649.16 L323.96 646.14 L325.14 643.72 L326.32 640.67 L327.5 638.59 L328.67 636.25 L329.85 635.37 L331.03 637.31 L332.21 635.93 L333.39 635.18 L334.57 636.18 L335.75 634.89 L336.93 635.46 L338.11 634.55 L339.29 631.99 L340.47 629.09 L341.65 624.3 L342.83 616.91 L344.01 612.87 L345.19 608.2 L346.37 604.19 L347.55 606.32 L348.73 601.08 L349.44 597.46 L350.38 602.12 L351.33 610.95 L352.27 620.76 L353.45 627.4 L354.63 643.58 L355.34 635.85 L356.05 629.13 L356.99 621.96 L358.17 614.53 L359.35 609.64 L360.53 611.78 L361.24 605.2 L362.18 586.37 L363.13 565.87 L364.07 561.37 L365.01 556.84 L365.72 541.82 L366.43 534.39 L367.14 526 L367.84 537.68 L368.79 549.37 L369.97 546.84 L371.15 548.18 L372.33 549.21 L373.51 553.12 L374.69 556.19 L375.87 562.78 L377.05 568.03 L378.23 573.01 L379.41 575.98 L380.59 570.64 L381.77 577.65 L382.95 584.23 L384.13 586.61 L385.31 588.4 L386.49 587.54 L387.66 587.09 L388.84 588.39 L390.02 590.65 L391.2 589.41 L392.38 587.13 L393.56 582.52 L394.74 577.09 L395.92 571.05 L397.1 563.36 L398.28 559.81 L399.46 560.84 L400.64 568.36 L401.82 573.21 L402.53 579.81 L403.24 573.67 L404.18 564.13 L405.36 549.37 L406.54 537.74 L407.72 520.69 L408.43 518.94 L409.37 530.74 L410.32 541.6 L411.26 554.04 L412.44 565.44 L413.62 578.26 L414.8 592.79 L415.98 599.17 L417.16 606.33 L418.34 610.69 L419.52 615.08 L420.7 619.85 L421.88 629.74 L422.59 638.86 L423.53 628.3 L424.47 619.41 L425.42 615.22 L426.54 607.94 L427.72 615.09 L428.9 619.14 L430.08 624.73 L431.26 629.08 L432.44 633.85 L433.62 643.45 L434.8 648.04 L435.98 645.03 L437.16 643.26 L438.34 640.85 L439.52 638.48 L440.7 634.69 L441.88 629.76 L443.06 631.3 L444.24 636.16 L445.42 641.94 L446.6 637.03 L447.78 632.53 L448.96 629.41 L450.14 627.6 L451.32 625.39 L452.5 622.52 L453.67 620.06 L454.85 617.25 L456.03 615.1 L457.21 611.87 L458.39 610.52 L459.57 613.21 L460.75 615.1 L461.93 618.09 L463.11 613.6 L464.29 606.35 L465 596.84 L465.94 572.62 L466.89 567.21 L467.83 572.61 L469.01 577.57 L470.19 582.04 L471.37 580.13 L472.55 577.76 L473.73 574.4 L474.91 577.06 L476.09 579.98 L477.27 575.41 L478.45 571.14 L479.63 568.13 L480.81 570.34 L481.99 577.74 L483.17 586.47 L484.35 594.57 L485.53 601.81 L486.24 620.22 L487.18 638.98 L488.13 657.51 L489.07 667.22 L490.25 661.75 L491.43 652.28 L492.61 659.41 L493.79 666.42 L494.97 671.84 L496.15 677.44 L497.33 684.28 L498.51 691.06 L499.69 685.8 L500.87 681.26 L502.05 677.22 L503.23 674.19 L504.41 678.85 L505.59 677.15 L506.77 678.45 L507.95 679.35 L509.13 677.11 L510.31 674.94 L511.49 681.75 L512.66 686.51 L513.84 691.26 L515.02 695.01 L516.2 697.77 L517.38 700.15 L518.56 705.1 L519.74 721.72 L520.92 706.36 L522.1 696.72 L523.28 689.81 L524.46 693.15 L525.64 697.6 L526.82 705.22 L528 713.13 L529.18 703.21 L530.36 691.62 L531.54 694.65 L532.72 706.16 L533.43 723.56 L534.37 706.94 L535.32 695.65 L536.26 694.02 L537.44 697.65 L538.62 702.83 L539.8 705.15 L540.98 691.57 L542.16 672.09 L543.34 681.3 L544.52 695.66 L545.7 710.3 L546.88 714.6 L548.06 707.03 L549.24 706.05 L550.42 709.45 L551.6 723.8" fill="none" stroke="#0000ff" stroke-width="1.55" stroke-linejoin="round"/><path d="M68.06 667.2 L69.24 666.11 L70.42 667.18 L71.6 670.02 L72.78 664.78 L73.96 655.28 L75.14 644.11 L76.32 635.17 L77.5 639.02 L78.67 643.82 L79.85 638.6 L81.03 643.85 L82.21 648.6 L82.92 657.82 L83.87 662.49 L84.57 667.76 L85.75 662.79 L86.93 657.96 L88.11 654.86 L89.29 653.47 L90.47 643.7 L91.18 629.23 L91.89 617.87 L92.83 634.99 L93.54 654.14 L94.25 667.42 L95.19 685.72 L96.14 707.63 L96.84 720.81 L97.55 732.35 L98.5 740.28 L99.44 728.5 L100.38 713.85 L101.33 699.54 L102.27 687.68 L103.45 685.24 L104.63 687.83 L105.81 691.22 L106.99 693.81 L108.17 687.84 L109.35 690.28 L110.53 692.38 L111.71 695.19 L112.89 690.18 L114.07 685.61 L115.25 680.75 L116.43 676.18 L117.61 684.4 L118.79 688.55 L119.97 690.79 L121.15 693.17 L122.33 695.2 L123.51 697.15 L124.69 699.08 L125.87 701.53 L127.05 702.02 L128.23 704.9 L129.41 703.25 L130.59 700.33 L131.77 691.75 L132.95 688.61 L134.13 685.84 L135.31 684.19 L136.49 681.95 L137.66 674.99 L138.84 671.86 L140.02 675.17 L141.2 677.45 L142.38 678.91 L143.56 676.22 L144.74 674.02 L145.92 679.3 L147.1 677.3 L148.28 677.61 L149.46 680.78 L150.64 675.93 L151.82 671.93 L153 681.72 L154.18 684.13 L155.36 679.03 L156.54 671.69 L157.72 664.87 L158.9 652.2 L159.85 647.68 L160.79 657.42 L161.73 671.56 L162.68 681.27 L163.62 685.83 L164.8 690.22 L165.98 694.4 L167.16 704.55 L168.34 711.65 L169.52 713.52 L170.7 711.84 L171.88 707.61 L173.06 704.08 L174.24 702.82 L175.42 704.28 L176.54 700.52 L177.72 701.24 L178.9 701.9 L180.08 706.73 L181.26 695.26 L182.44 702.75 L183.62 707.81 L184.8 703.44 L185.98 695.92 L187.16 690.71 L188.34 693.13 L189.52 698.1 L190.7 702.17 L191.88 707.65 L193.06 709.45 L194.24 711.27 L195.42 714.04 L196.6 709.69 L197.78 706.05 L198.96 703.44 L199.66 682.3 L200.37 663.58 L201.32 655.4 L202.26 662.56 L203.2 671.45 L204.15 676.07 L205.09 680.75 L206.03 686.94 L207.21 690.6 L208.39 693.49 L209.57 695.05 L210.75 692.63 L211.93 695.43 L213.11 692.56 L214.29 690.53 L215.47 700.83 L216.65 714.2 L217.83 728.36 L219.01 739.23 L220.19 747.02 L221.37 749.53 L222.55 737.66 L223.5 725.23 L224.44 718 L225.38 728.03 L226.33 735.28 L227.27 706.9 L228.45 686.39 L229.63 689.26 L230.81 698.97 L231.99 705.96 L233.17 691.89 L234.35 682.45 L235.53 676.66 L236.71 681.78 L237.89 686.29 L239.07 688.54 L240.25 685.93 L241.43 685.41 L242.61 686.67 L243.79 688.62 L244.97 690.42 L246.15 691.49 L247.33 692.64 L248.51 691.8 L249.69 690.27 L250.87 687.98 L252.05 671.56 L253.23 661.85 L254.41 666.48 L255.59 671.16 L256.77 672.13 L257.95 669.64 L259.13 666.77 L260.31 664.63 L261.49 657.34 L262.66 643.91 L263.84 641.34 L265.02 639.38 L266.2 643.48 L267.38 636.28 L268.56 646.19 L269.74 651.02 L270.92 652.63 L272.1 655.11 L273.28 650.59 L274.46 647.95 L275.64 652.81 L276.82 658.06 L278 662.44 L279.18 657.44 L280.36 652.26 L281.54 658.13 L282.72 662.48 L283.9 666.7 L285.08 672.03 L286.26 686.6 L287.44 688.27 L288.62 681.18 L289.8 672.21 L290.98 663.27 L292.16 653.87 L293.34 647.88 L294.52 650.93 L295.7 653.88 L296.88 654.13 L298.06 655.19 L299.24 653.24 L300.42 656.1 L301.54 656.73 L302.72 657.8 L303.9 657.73 L305.08 657.16 L306.26 657.16 L307.44 659.25 L308.62 658.04 L309.8 654.27 L310.98 656.21 L312.16 655.43 L313.34 658.54 L314.52 662.44 L315.7 667.2 L316.88 662.42 L318.06 655.73 L319.24 646.4 L319.94 641.68 L320.65 643.84 L321.6 650.02 L322.78 652.78 L323.96 650.72 L325.14 648.51 L326.32 649.03 L327.5 646.83 L328.67 643.41 L329.85 640.51 L331.03 643.33 L332.21 641.82 L333.39 638.07 L334.57 637.3 L335.75 637.96 L336.93 636.55 L338.11 636.06 L339.29 638.91 L340.47 637.36 L341.65 633.92 L342.83 629.08 L344.01 624.6 L345.19 626.13 L346.37 614.53 L347.55 612.43 L348.73 608.06 L349.91 605.73 L351.09 614.77 L352.27 624.56 L353.45 622.9 L354.63 627.77 L355.34 631.58 L356.05 625.82 L356.99 622.63 L358.17 619.6 L359.35 622.28 L360.53 617.76 L361.24 616.03 L362.18 596.27 L363.13 579.14 L364.07 567.53 L365.01 565.19 L365.72 567.43 L366.43 560.09 L367.14 558.35 L367.84 560.83 L368.79 563.74 L369.97 570.58 L371.15 577.14 L372.33 581.65 L373.51 583.76 L374.69 581.99 L375.87 579.93 L377.05 582.03 L378.23 582.65 L379.41 579.06 L380.59 577.25 L381.77 582.66 L382.95 587.57 L384.13 589.98 L385.31 590.8 L386.49 591.67 L387.66 591.57 L388.84 593.81 L390.02 596.42 L391.2 591.58 L392.38 586.52 L393.56 581.55 L394.74 575.44 L395.92 570.55 L397.1 565.7 L398.28 563.15 L399.46 565.84 L400.64 563.19 L401.82 561.27 L403 558.64 L404.18 554.47 L405.36 545.19 L406.54 529.87 L407.72 518.13 L408.43 516.17 L409.37 528.88 L410.32 545.16 L411.26 558.58 L412.44 572.9 L413.62 586.66 L414.8 598.66 L415.98 605.61 L417.16 612.64 L418.34 620.33 L419.52 625.08 L420.7 634.34 L421.41 640.87 L422.12 634.39 L423.06 630.31 L424.24 628.18 L425.42 627.52 L426.54 620.23 L427.72 617.31 L428.9 622.17 L430.08 627.71 L431.26 632.06 L432.44 648.46 L433.62 655.12 L434.8 652.65 L435.98 650.38 L437.16 653.16 L438.34 648.48 L439.52 650.52 L440.7 652.55 L441.88 648.64 L443.06 650.37 L444.24 652.57 L445.42 657.83 L446.6 663.58 L447.78 653.11 L448.96 648.86 L450.14 644.01 L451.32 641.76 L452.5 636 L453.67 629.86 L454.85 616.91 L456.03 612.3 L457.21 610.33 L458.39 607.99 L459.57 609.48 L460.75 610.31 L461.93 612.77 L463.11 608.13 L464.29 604.01 L465 591.65 L465.94 570.18 L466.89 563.41 L467.83 570.11 L469.01 575.68 L470.19 577.45 L471.37 575.47 L472.55 573 L473.73 577.58 L474.91 579.72 L476.09 577.57 L477.27 572.36 L478.45 570.28 L479.63 567.53 L480.81 570.68 L481.99 580.25 L483.17 589.53 L484.35 601.22 L485.53 610.13 L486.24 627.42 L487.18 647.86 L488.13 663.89 L489.07 670.89 L490.25 681.26 L491.43 693.28 L492.14 682.4 L492.84 668.07 L493.79 665.84 L494.97 667.05 L496.15 668.41 L497.33 672.13 L498.51 673.34 L499.69 672.6 L500.87 671.27 L502.05 673.02 L503.23 671.99 L504.41 673.17 L505.59 672.19 L506.77 671.47 L507.95 671.54 L509.13 670.03 L510.31 674.82 L511.49 684.35 L512.66 690.18 L513.84 696.04 L515.02 691.15 L516.2 686.07 L517.38 680.83 L518.56 678.91 L519.74 675.86 L520.92 671.41 L522.1 667.26 L523.28 664.65 L524.46 661.9 L525.64 659.96 L526.82 657.98 L528 662.44 L529.18 667.57 L530.36 669.75 L531.54 673.9 L532.72 675.91 L533.9 681.16 L535.08 686.45 L536.26 686.24 L537.44 688.13 L538.62 686.3 L539.8 683.66 L540.98 685.11 L542.16 690.15 L543.34 702.65 L544.52 713.76 L545.7 718.72 L546.88 724.4 L548.06 729.65 L549.24 731.49 L550.42 738.55 L551.6 747.4" fill="none" stroke="#ff0000" stroke-width="1.5" stroke-dasharray="8.5 3.8" stroke-linejoin="round"/><line x1="41.25" x2="44" y1="579.6" y2="579.6" stroke="#333" stroke-width="1.1"/><text x="39.7" y="583.2" font-family='"Liberation Sans", sans-serif' font-size="8.6" letter-spacing="-0.35" text-anchor="end" fill="#4d4d4d">4</text><line x1="41.25" x2="44" y1="661.6" y2="661.6" stroke="#333" stroke-width="1.1"/><text x="39.7" y="665.2" font-family='"Liberation Sans", sans-serif' font-size="8.6" letter-spacing="-0.35" text-anchor="end" fill="#4d4d4d">2</text><line x1="41.25" x2="44" y1="743.6" y2="743.6" stroke="#333" stroke-width="1.1"/><text x="39.7" y="747.2" font-family='"Liberation Sans", sans-serif' font-size="8.6" letter-spacing="-0.35" text-anchor="end" fill="#4d4d4d">0</text><line x1="154.3" x2="154.3" y1="795" y2="797.75" stroke="#333" stroke-width="1.1"/><text x="154.3" y="806.7" font-family='"Liberation Sans", sans-serif' font-size="8.6" letter-spacing="-0.35" text-anchor="middle" fill="#4d4d4d">2020-01</text><line x1="340.13" x2="340.13" y1="795" y2="797.75" stroke="#333" stroke-width="1.1"/><text x="340.13" y="806.7" font-family='"Liberation Sans", sans-serif' font-size="8.6" letter-spacing="-0.35" text-anchor="middle" fill="#4d4d4d">2020-07</text><line x1="528" x2="528" y1="795" y2="797.75" stroke="#333" stroke-width="1.1"/><text x="528" y="806.7" font-family='"Liberation Sans", sans-serif' font-size="8.6" letter-spacing="-0.35" text-anchor="middle" fill="#4d4d4d">2021-01</text><text x="309.5" y="816.5" font-family='"Liberation Sans", sans-serif' font-size="9.5" text-anchor="middle" fill="#000">Time</text><text transform="translate(32,649.3) rotate(-90)" x="0" y="0" font-family='"Liberation Sans", sans-serif' font-size="9.5" text-anchor="middle" fill="#000">DY NET of ETH</text><text x="197.3" y="486.3" font-family='"Liberation Sans", sans-serif' font-size="9.3" fill="#000">exchange</text><rect x="241.2" y="474.6" width="14" height="14.2" fill="#f2f2f2"/><line x1="242.2" x2="253.7" y1="481.9" y2="481.9" stroke="#9317f0" stroke-width="1.5" stroke-dasharray="2.6 2.2 6.4 10" stroke-linecap="butt"/><text x="260" y="486" font-family='"Liberation Sans", sans-serif' font-size="7.6" fill="#1a1a1a">eth_bf</text><rect x="286" y="474.6" width="14" height="14.2" fill="#f2f2f2"/><line x1="288.3" x2="299" y1="481.9" y2="481.9" stroke="#111" stroke-width="1.5" stroke-dasharray="0.01 4.9" stroke-linecap="round"/><text x="305.4" y="486" font-family='"Liberation Sans", sans-serif' font-size="7.6" fill="#1a1a1a">eth_bn</text><rect x="332.9" y="474.6" width="14" height="14.2" fill="#f2f2f2"/><line x1="333.9" x2="345.9" y1="481.9" y2="481.9" stroke="#0000ff" stroke-width="1.5"/><text x="351.7" y="486" font-family='"Liberation Sans", sans-serif' font-size="7.6" fill="#1a1a1a">eth_cb</text><rect x="379.8" y="474.6" width="14" height="14.2" fill="#f2f2f2"/><line x1="380.8" x2="389.8" y1="481.9" y2="481.9" stroke="#ff0000" stroke-width="1.5"/><text x="398.5" y="486" font-family='"Liberation Sans", sans-serif' font-size="7.6" fill="#1a1a1a">eth_oe</text></g><g><text x="900.7" y="452.1" font-family='"Liberation Serif", serif' font-size="27.7" text-anchor="middle" fill="#000">(d) The dynamic comparison of NET for LTC.</text><rect x="646.5" y="501" width="530.2" height="295" fill="#ebebeb"/><line x1="646.5" x2="1176.7" y1="520.26" y2="520.26" stroke="#f4f4f4" stroke-width="1.05"/><line x1="646.5" x2="1176.7" y1="590.39" y2="590.39" stroke="#f4f4f4" stroke-width="1.05"/><line x1="646.5" x2="1176.7" y1="660.51" y2="660.51" stroke="#f4f4f4" stroke-width="1.05"/><line x1="646.5" x2="1176.7" y1="730.64" y2="730.64" stroke="#f4f4f4" stroke-width="1.05"/><line x1="663.26" x2="663.26" y1="501" y2="796" stroke="#f4f4f4" stroke-width="1.05"/><line x1="849.14" x2="849.14" y1="501" y2="796" stroke="#f4f4f4" stroke-width="1.05"/><line x1="1036.04" x2="1036.04" y1="501" y2="796" stroke="#f4f4f4" stroke-width="1.05"/><line x1="646.5" x2="1176.7" y1="555.33" y2="555.33" stroke="#fafafa" stroke-width="1.35"/><line x1="646.5" x2="1176.7" y1="625.45" y2="625.45" stroke="#fafafa" stroke-width="1.35"/><line x1="646.5" x2="1176.7" y1="695.58" y2="695.58" stroke="#fafafa" stroke-width="1.35"/><line x1="646.5" x2="1176.7" y1="765.7" y2="765.7" stroke="#fafafa" stroke-width="1.35"/><line x1="756.2" x2="756.2" y1="501" y2="796" stroke="#fafafa" stroke-width="1.35"/><line x1="942.08" x2="942.08" y1="501" y2="796" stroke="#fafafa" stroke-width="1.35"/><line x1="1130" x2="1130" y1="501" y2="796" stroke="#fafafa" stroke-width="1.35"/><path d="M670.2 676.39 L671.39 679.21 L672.58 672.05 L673.76 667.25 L674.95 664.17 L676.14 667.48 L677.33 671.6 L678.52 677 L679.71 681.97 L680.89 686.25 L682.08 690.5 L683.27 688.63 L684.46 688.59 L685.65 689.99 L686.83 695.81 L688.02 698.58 L689.21 703.49 L690.4 701.36 L691.59 698.56 L692.78 696.83 L693.96 694.14 L695.15 698.9 L696.34 710.71 L697.53 719.88 L698.72 722.2 L699.9 719.8 L701.09 722.53 L702.28 727.58 L703.47 732.6 L704.66 737.09 L705.85 739.38 L707.03 736.32 L708.22 734.25 L709.41 736.35 L710.6 739.18 L711.79 736.83 L712.98 734.57 L714.16 731.87 L715.35 734.44 L716.54 736.36 L717.73 739.06 L718.92 741.46 L720.1 735.9 L721.29 734.04 L722.48 731.48 L723.67 729.58 L724.86 726.35 L726.05 729.03 L727.23 724.95 L728.42 715.08 L729.61 705.72 L730.8 700.97 L731.99 695.69 L733.17 696.23 L734.36 698.28 L735.55 695.6 L736.74 693.91 L737.93 691.16 L739.12 693.67 L740.3 696.45 L741.49 685.11 L742.68 670.68 L743.87 653.32 L745.06 643.38 L746.25 641.02 L747.43 639.23 L748.62 635.93 L749.81 633.94 L751 632.63 L752.19 633.87 L753.37 635.44 L754.56 638.84 L755.75 644.17 L756.94 619.98 L758.13 612.94 L759.32 610.61 L760.5 608.19 L761.69 600.75 L762.88 595.94 L764.07 588.73 L765.26 584.01 L766.44 579.09 L767.63 573.91 L768.82 570.43 L770.01 568.63 L771.2 567.97 L772.39 567.99 L773.57 566.03 L774.76 565.5 L775.95 560.3 L777.14 558.07 L778.56 548.22 L779.75 545.48 L780.94 548.37 L782.13 551.18 L783.32 553.35 L784.51 548.53 L785.69 543.86 L786.41 538.65 L787.36 548.1 L788.31 562.21 L789.26 576.56 L790.45 587.49 L791.63 596.86 L792.82 603.5 L794.01 608 L795.2 612.42 L796.39 615.5 L797.58 612.53 L798.76 612.92 L799.95 615.12 L801.14 619.98 L802.33 625.01 L803.52 629.09 L804.71 631.69 L805.89 633.13 L807.08 635.62 L808.27 637.74 L809.46 641.31 L810.65 648.84 L811.83 646.29 L813.02 643.25 L814.21 648.29 L815.4 653.06 L816.59 657.85 L817.78 662.58 L818.96 664.56 L820.15 667.4 L821.34 666.25 L822.53 664.25 L823.72 662.89 L824.9 663.37 L826.09 661.6 L827.28 665.17 L828.47 669.63 L829.66 673.85 L830.85 676.91 L832.03 681.22 L833.22 686.56 L834.41 691.18 L835.6 688.68 L836.79 689.54 L837.98 690.46 L839.16 691.66 L840.35 693.39 L841.54 694.97 L842.73 695 L843.92 695.19 L845.1 696.13 L846.29 696.28 L847.48 696.96 L848.67 698.2 L849.86 698.65 L851.05 700.87 L852.23 703.27 L853.42 705.31 L854.61 707.77 L855.8 707.82 L856.99 709.39 L858.17 710.19 L859.36 709.1 L860.55 714.67 L861.74 715.46 L862.93 709.5 L864.12 702.19 L865.3 697.76 L866.49 693.19 L867.68 690.28 L868.87 688.29 L870.06 686.56 L871.25 684.4 L872.43 681.48 L873.62 680.09 L874.81 678.88 L876 677.94 L877.19 677.47 L878.37 679.25 L879.56 680.74 L880.75 681.5 L881.94 681.49 L883.13 682.34 L884.32 684.46 L885.5 685.52 L886.69 686.05 L887.88 687.8 L889.07 688.62 L890.26 688.94 L891.44 689.3 L892.63 688.38 L893.82 688.98 L895.01 688.47 L896.2 687.71 L897.39 684.48 L898.57 686.74 L899.76 685.42 L900.95 686.02 L902.26 687.17 L903.56 686.83 L904.75 685.52 L905.94 686 L907.13 688.47 L908.32 690.87 L909.51 691.33 L910.69 693.59 L911.88 694.79 L913.07 697.48 L914.26 698.71 L915.45 697.38 L916.63 696.94 L917.82 694.24 L919.01 691.76 L920.2 691.07 L921.39 696.62 L922.58 701.12 L923.76 705.99 L924.95 708.37 L926.14 707.34 L927.33 706.49 L928.52 705.16 L929.71 704.83 L930.89 706.13 L932.08 705.84 L933.27 708.21 L934.46 710.98 L935.65 709.55 L936.83 706.18 L938.02 707.44 L939.21 711 L940.4 712.06 L941.59 712.66 L942.78 711.69 L943.96 713.06 L945.15 714.2 L946.34 717.63 L947.53 723.13 L948.72 738.73 L949.43 748.13 L950.38 741.05 L951.33 735.85 L952.28 738.72 L953.47 739.02 L954.66 737.56 L955.85 739.14 L957.03 740.61 L958.22 741.38 L959.41 742.77 L960.6 740.9 L961.79 738.21 L962.98 741.2 L964.16 743.08 L965.35 745.66 L966.54 745.66 L967.73 747.72 L968.92 749.54 L970.1 750.59 L971.29 751.78 L972.48 749.76 L973.67 740.14 L974.86 733.7 L976.05 731.52 L977.23 730.2 L978.42 727.21 L979.61 725.08 L980.8 722.65 L981.99 720.31 L983.17 718.35 L984.36 715.35 L985.55 710.16 L986.74 705.48 L987.93 700.42 L989.12 695.14 L990.3 693.13 L991.49 691.01 L992.68 697.53 L993.87 704.47 L995.06 707.37 L996.25 708.85 L997.43 708.78 L998.62 706.5 L999.81 703.57 L1001 701.77 L1002.19 703.05 L1003.37 706.23 L1004.56 706.21 L1005.75 703.46 L1006.94 694.07 L1008.13 686.88 L1009.32 682.47 L1010.5 677.47 L1011.69 671.26 L1012.88 667.41 L1014.07 665.08 L1015.26 665.26 L1016.44 664.43 L1017.63 666.11 L1018.82 667.22 L1020.01 666.35 L1021.2 665.65 L1022.39 664.91 L1023.57 662.86 L1024.76 663.52 L1025.95 664.08 L1027.14 662.77 L1028.56 664.49 L1029.75 664.49 L1030.94 663.6 L1032.13 662.81 L1033.32 660.13 L1034.51 653.54 L1035.69 645.61 L1036.88 647.48 L1038.07 647.92 L1039.26 650.38 L1040.45 649.79 L1041.63 646.85 L1042.82 644.28 L1044.01 642.54 L1045.2 641.13 L1046.39 642.57 L1047.58 643.99 L1048.76 642.12 L1049.95 642.95 L1050.67 662.37 L1051.62 676.13 L1052.57 681.65 L1053.52 685.04 L1054.71 687.18 L1055.89 689.22 L1057.08 691.45 L1058.27 697.92 L1058.98 704.82 L1059.7 707.07 L1060.65 705.12 L1061.83 701.42 L1063.02 694.27 L1064.21 686.68 L1065.4 683.2 L1066.59 685.27 L1067.78 684.7 L1068.96 681.89 L1070.15 675.73 L1071.34 671.38 L1072.53 666.35 L1073.72 664.47 L1074.9 667.03 L1076.09 664.33 L1077.28 661.95 L1078.47 659.53 L1079.66 655.12 L1080.85 648.33 L1082.03 643.11 L1083.22 641.1 L1084.41 637.02 L1085.6 633.56 L1086.79 629.39 L1087.98 621.48 L1089.16 614.24 L1090.35 609.19 L1091.06 599.76 L1092.02 605.23 L1092.97 610.55 L1093.92 607.49 L1095.1 605.74 L1096.29 602.28 L1097.48 600.96 L1098.67 598.06 L1099.86 596.19 L1101.05 593.5 L1102.23 588.56 L1103.42 586.94 L1104.61 585.08 L1105.8 582.97 L1106.99 584.34 L1108.17 585.55 L1109.36 583.5 L1110.55 582.29 L1111.74 579.86 L1112.93 576.77 L1114.12 572.56 L1115.3 568.03 L1116.49 561.98 L1117.68 559.73 L1118.87 555.51 L1120.06 552.89 L1121.25 552.39 L1122.43 554.08 L1123.62 551.05 L1124.81 553.22 L1126 553.32 L1127.19 543.82 L1128.37 519.79 L1129.09 514.4 L1130.04 523.64 L1130.99 531.69 L1131.94 527.32 L1133.13 520.75 L1134.32 515.65 L1135.27 528.92 L1136.22 560.82 L1137.17 591.42 L1138.12 607.97 L1139.07 616.86 L1140.02 619.49 L1140.97 617.94 L1141.92 618.69 L1142.87 619.96 L1143.82 617.55 L1145.01 614.86 L1146.2 620.1 L1147.39 622.7 L1148.57 620.73 L1149.76 619.59 L1150.95 621.89 L1152.14 619.64 L1153.33 622.2" fill="none" stroke="#9317f0" stroke-width="1.5" stroke-dasharray="2.6 2.2 6.4 2.2" stroke-linejoin="round"/><path d="M670.2 662.09 L671.39 664.75 L672.58 657.45 L673.76 652.71 L674.95 656.22 L676.14 660.96 L677.33 665.81 L678.52 673.23 L679.71 677.98 L680.89 682.1 L682.08 686.49 L683.27 688.91 L684.46 691.56 L685.65 691.95 L686.83 694.14 L688.02 692.24 L689.21 694.18 L690.4 691.74 L691.59 689.2 L692.78 688.2 L693.96 688.64 L695.15 696.16 L696.34 710.13 L697.53 721.72 L698.72 729.21 L699.9 731.51 L701.09 733.7 L702.28 735.96 L703.47 740.82 L704.66 746.4 L705.85 748.85 L707.03 749.27 L708.22 746.25 L709.41 748.03 L710.6 743.49 L711.79 746.16 L712.98 741.61 L714.16 744.4 L715.35 745.77 L716.54 743.41 L717.73 751.05 L718.92 757.93 L720.1 748.19 L721.29 743 L722.48 740.85 L723.67 739.13 L724.86 741.75 L726.05 738.88 L727.23 733.36 L728.42 724.31 L729.61 715.12 L730.8 711.25 L731.99 708.48 L733.17 710.9 L734.36 708.72 L735.55 706.14 L736.74 703.32 L737.93 705.36 L739.12 707.97 L740.3 710.63 L741.49 696.99 L742.68 677.2 L743.87 662.81 L745.06 652.47 L746.25 648.59 L747.43 645.9 L748.62 645.3 L749.81 643.22 L751 644.03 L752.19 647.09 L753.37 648.46 L754.56 651.19 L755.75 653.33 L756.94 622.66 L758.13 616.04 L759.32 613.42 L760.5 610.44 L761.69 601.3 L762.88 594 L764.07 587.68 L765.26 580.18 L766.44 572.95 L767.63 569.18 L768.82 567.38 L770.01 565.61 L771.2 563.99 L772.39 562.72 L773.57 564.52 L774.76 562.61 L775.95 559.87 L777.14 559.05 L778.45 558.64 L779.75 559.07 L780.94 558.5 L782.13 556.14 L783.32 551.22 L784.51 545.98 L785.69 539.71 L786.88 551.55 L788.07 567.99 L789.26 576.48 L790.45 582.42 L791.63 588.85 L792.82 595.81 L794.01 601.13 L795.2 604.27 L796.39 604.13 L797.58 606.86 L798.76 606.47 L799.95 610.38 L801.14 610.34 L802.33 612.99 L803.52 614.96 L804.71 618.27 L805.89 620.78 L807.08 623.3 L808.27 625.26 L809.46 630.59 L810.65 630.37 L811.83 629.15 L813.02 627.78 L814.21 630.49 L815.4 630.13 L816.59 634.7 L817.78 633.94 L818.96 633.44 L820.15 636.78 L821.34 636.18 L822.53 635.96 L823.72 637.85 L824.9 638.92 L826.09 640.51 L827.28 643.71 L828.47 647.31 L829.66 653.16 L830.85 654.09 L832.03 662.01 L833.22 667.11 L834.41 671.54 L835.6 674.29 L836.79 678.79 L837.98 678.96 L839.16 681.16 L840.35 681.08 L841.54 684.25 L842.73 684.09 L843.92 682.34 L845.1 682.03 L846.29 683.75 L847.48 686.12 L848.67 685.97 L849.86 685.46 L851.05 686.18 L852.23 688.44 L853.42 690.09 L854.61 690.61 L855.8 691.53 L856.99 694.16 L858.17 693.23 L859.36 693.87 L860.55 695.62 L861.74 693.85 L862.93 694.08 L864.12 690.9 L865.3 684.21 L866.49 680.27 L867.68 677.19 L868.87 672.76 L870.06 674.3 L871.25 670.85 L872.43 669.87 L873.62 670.17 L874.81 671.38 L876 667.88 L877.19 666.98 L878.37 667.32 L879.56 667.76 L880.75 669.82 L881.94 669.72 L883.13 670.59 L884.32 672.51 L885.5 675.27 L886.69 676.49 L887.88 682.39 L889.07 681.53 L890.26 683.79 L891.44 686.23 L892.63 683.3 L893.82 681.03 L895.01 677.24 L896.2 676.94 L897.39 678.22 L898.57 678.93 L899.76 679.49 L900.95 681.24 L902.22 682.49 L903.49 681.32 L904.75 678.81 L905.94 677.9 L907.13 680.67 L908.32 680.87 L909.51 684.02 L910.69 689.28 L911.88 691.75 L913.07 694.32 L914.26 693.83 L915.45 690.23 L916.63 691.45 L917.82 686.84 L919.01 686.13 L920.2 685.15 L921.39 691.57 L922.58 695.83 L923.76 703.76 L924.95 705.14 L926.14 705.66 L927.33 705.77 L928.52 705.45 L929.71 705.59 L930.89 704.55 L932.08 705.54 L933.27 705.01 L934.46 702.49 L935.65 703.07 L936.83 703.25 L938.02 702.92 L939.21 704.85 L940.4 707.71 L941.59 709.34 L942.78 708.91 L943.96 708.58 L945.15 711.46 L946.34 712.6 L947.53 717.21 L948.72 726.81 L949.9 731.7 L951.09 730.7 L952.28 728.6 L953.47 731.2 L954.66 731.77 L955.85 732.98 L957.03 732.66 L958.22 732.28 L959.41 734.79 L960.6 737.38 L961.79 736.68 L962.98 736.61 L964.16 736.54 L965.35 737.13 L966.54 738.49 L967.73 739.07 L968.92 744.65 L970.1 745.19 L971.29 751.62 L972.48 745.87 L973.67 736.74 L974.86 733.46 L976.05 730.21 L977.23 730.29 L978.42 726.85 L979.61 725.72 L980.8 721.77 L981.99 718.46 L983.17 716.85 L984.36 716 L985.55 714.8 L986.74 709.4 L987.93 702.52 L989.83 690.24 L991.49 688.51 L993.16 696.3 L995.06 704.05 L996.25 704.36 L997.43 704.67 L998.62 702.24 L999.81 701.54 L1001 700.21 L1002.19 702.41 L1003.37 705.39 L1004.56 704.81 L1005.75 700.43 L1006.94 702.5 L1008.13 701.94 L1009.32 704.77 L1010.5 701.68 L1011.69 697.89 L1012.88 695.52 L1014.07 693.34 L1015.26 690.75 L1016.44 688.8 L1017.63 687.79 L1018.82 689 L1020.01 684.83 L1021.2 686.79 L1022.39 683.78 L1023.57 683.04 L1024.76 684.21 L1025.95 682.35 L1027.22 681.16 L1028.49 681.01 L1029.75 685.57 L1030.94 683.53 L1032.13 681.63 L1033.32 676.9 L1034.51 672.13 L1035.69 671.77 L1036.88 665.65 L1038.07 666.92 L1039.26 666.22 L1040.45 665.15 L1041.63 664.71 L1042.82 664.25 L1044.01 662.77 L1045.2 664.06 L1046.39 660.58 L1047.58 664.74 L1048.76 665.93 L1050.67 674.44 L1051.62 691.95 L1052.57 698.56 L1054.71 695.97 L1055.89 692.12 L1057.08 689.1 L1058.27 700.27 L1059.7 710.24 L1061.83 702.68 L1063.02 695.86 L1064.21 689.06 L1065.4 689.41 L1066.59 684.62 L1067.78 681.59 L1068.96 677.3 L1070.15 673.88 L1071.34 670.26 L1072.53 669.16 L1073.72 667.81 L1074.9 666.64 L1076.09 665.21 L1077.28 662.2 L1078.47 663 L1079.66 659.29 L1080.85 655.54 L1082.03 649.09 L1083.22 643.12 L1084.41 638.14 L1085.6 636.19 L1087.26 627.18 L1089.16 608.65 L1091.06 580.4 L1092.73 591.31 L1093.92 590.22 L1095.1 591.14 L1096.29 595.35 L1097.48 595.84 L1098.67 594.19 L1099.86 591.82 L1101.05 589.88 L1102.23 584.48 L1103.42 581.14 L1104.61 579.73 L1105.8 582.86 L1106.99 583.48 L1108.17 584.68 L1109.36 586.55 L1110.55 588.08 L1111.74 586.86 L1112.93 585.02 L1114.12 580.24 L1115.3 574.43 L1116.49 569.77 L1117.68 570.99 L1118.87 565.48 L1120.06 570.1 L1121.25 568.11 L1122.43 568.88 L1123.62 563.4 L1124.81 560.26 L1126 556.91 L1127.66 540.56 L1129.09 531.15 L1130.75 540.89 L1132.41 539.48 L1134.32 532.01 L1135.5 561.01 L1137.17 583.79 L1138.59 606.81 L1140.02 623.61 L1141.92 626.46 L1143.82 627.7 L1145.01 630.24 L1146.2 629.74 L1147.39 630.97 L1148.57 631.15 L1149.76 632.91 L1150.95 629.39 L1152.14 627.07 L1153.33 624.57" fill="none" stroke="#111111" stroke-width="1.35" stroke-dasharray="1.4 3.3" stroke-linejoin="round"/><path d="M670.2 689.6 L671.39 681.63 L672.58 677.02 L673.76 672.13 L674.95 676.38 L676.14 682 L677.33 687.15 L678.52 696.09 L679.71 700.53 L680.89 698.56 L682.08 696.29 L683.27 700.43 L684.46 707.78 L685.65 717.44 L686.83 728.9 L688.02 726.54 L689.21 723.13 L690.4 719.72 L691.59 722.58 L692.78 720.53 L693.96 722.25 L695.15 726.25 L696.34 739.01 L697.53 743.53 L698.72 745.59 L699.9 740.86 L701.09 743.47 L702.28 748.76 L703.47 758.36 L704.66 767.53 L705.85 771.93 L707.03 774.54 L708.22 771.85 L709.41 773.93 L710.6 776.16 L711.79 774.18 L712.98 772.25 L714.16 766.97 L715.35 771.15 L716.54 774.23 L717.73 781.67 L718.44 776.24 L719.39 766.86 L720.34 765.08 L721.29 766.54 L722.48 764.81 L723.67 762.6 L724.86 765.39 L726.05 759.82 L727.23 752.79 L728.42 743.43 L729.61 734.64 L730.8 729.72 L731.99 727.52 L733.17 729.3 L734.36 726.55 L735.55 723.32 L736.74 721.91 L737.93 720.29 L739.12 722.07 L740.3 723.86 L741.02 710.23 L741.73 696.05 L742.68 683.77 L743.87 676.57 L745.06 671.09 L746.25 669.1 L747.43 668.06 L748.62 668.84 L749.81 668.15 L751 665.93 L752.19 664.22 L753.37 666.73 L754.56 674.84 L755.28 676.39 L755.99 666.55 L756.94 658.3 L758.13 655.78 L759.32 652.89 L760.5 650.85 L761.69 645.74 L762.88 642.96 L764.07 638.71 L765.26 636.31 L766.44 631.06 L767.63 629.64 L768.82 624.52 L770.01 617.42 L771.2 615.5 L772.39 620.3 L773.57 622.34 L774.76 617.18 L775.95 614.53 L777.14 610.17 L778.56 607.26 L779.75 604.76 L780.94 600.32 L781.65 595.19 L782.6 606.13 L783.32 617.6 L784.51 604.82 L785.22 590.71 L785.93 581.6 L786.88 596.65 L788.07 614.99 L789.26 625.24 L790.45 629.7 L791.63 643.92 L792.82 646.04 L794.01 643.74 L795.2 640.84 L796.39 644.24 L797.58 642.73 L798.76 642.47 L799.95 645.88 L801.14 650.07 L802.33 652.89 L803.52 656.25 L804.71 653.44 L805.89 660.58 L807.08 662.54 L808.27 657.48 L809.46 666.83 L810.65 673.99 L811.83 667.53 L813.02 658.29 L814.21 663.41 L815.4 672.47 L816.59 677.42 L817.78 682.04 L818.96 684.47 L820.15 686.44 L821.34 688.91 L822.53 690.48 L823.72 682.18 L824.9 674.67 L826.09 676.73 L827.28 681.63 L828.47 683.85 L829.66 684.68 L830.85 685.35 L832.03 688.73 L833.22 697.82 L833.94 704.32 L834.89 697.61 L835.84 693.24 L836.79 691.68 L837.98 693.4 L839.16 695.22 L840.35 695.84 L841.54 695.83 L842.73 696.78 L843.92 694.47 L845.1 696.17 L846.29 695.6 L847.48 694.56 L848.67 695.54 L849.86 697.22 L851.05 698.74 L852.23 700.7 L853.42 705.12 L854.61 709.8 L855.8 705.01 L856.99 707.88 L858.17 710.4 L859.36 708.19 L860.55 710.48 L861.74 712.19 L862.93 704.91 L864.12 695.39 L865.3 688.78 L866.49 686.65 L867.68 684.48 L868.87 682.54 L870.06 679.72 L871.25 677.75 L872.43 675.38 L873.62 677.33 L874.81 678.33 L876 676.56 L877.19 674.45 L878.37 676.68 L879.56 678.29 L880.75 676.56 L881.94 674.88 L883.13 676.67 L884.32 674.68 L885.5 677.29 L886.69 679.81 L887.88 681.78 L889.07 686.23 L890.26 688.29 L891.44 690.1 L892.63 688.54 L893.82 686.18 L895.01 680.82 L896.2 684.77 L897.39 686.27 L898.57 689.36 L899.76 692.18 L900.95 690.42 L902.14 689.27 L903.56 690.9 L904.75 690.79 L905.94 691.9 L907.13 691.66 L908.32 693.51 L909.51 694.37 L910.69 697.72 L911.88 705.11 L913.07 705.05 L914.26 703.82 L915.45 705.11 L916.63 705.33 L917.82 698.65 L919.01 691.37 L920.2 688.17 L921.39 692.88 L922.58 702.53 L923.76 709.73 L924.95 711.53 L926.14 710.08 L927.33 708.79 L928.52 707.91 L929.71 704.29 L930.89 703.86 L932.08 706.05 L933.27 709.75 L934.46 710.46 L935.65 707.51 L936.83 709.44 L938.02 711.51 L939.21 713.55 L940.4 716.78 L941.59 717.21 L942.78 716.59 L943.96 718.3 L945.15 718.49 L946.34 719.58 L947.53 721.98 L948.72 736.69 L949.43 743.13 L950.38 739.96 L951.33 738.66 L952.28 742.08 L953.47 746.03 L954.66 748.65 L955.85 748.09 L957.03 748.5 L958.22 749.55 L959.41 745.75 L960.6 743.81 L961.79 740.52 L962.98 743.5 L964.16 748.51 L965.35 749.99 L966.54 752.98 L967.73 757.94 L968.92 760.79 L970.1 761.63 L971.29 762.38 L972.48 761.14 L973.67 752.52 L974.86 745.64 L976.05 742.74 L977.23 740.71 L978.42 738.27 L979.61 736.35 L980.8 733.64 L981.99 728.88 L983.17 725.64 L984.36 723.74 L985.55 719.51 L986.74 712.16 L987.93 707.83 L989.12 705.33 L990.3 708.08 L991.49 710.56 L992.68 714.71 L993.87 719.46 L995.06 723.82 L996.25 726.35 L997.43 722.04 L998.62 716.92 L999.81 714.35 L1001 716.26 L1002.19 721.51 L1003.37 729.31 L1004.09 732.27 L1005.04 724.08 L1005.99 723.35 L1006.94 724.65 L1008.13 719.26 L1009.32 714.27 L1010.5 712.92 L1011.69 712.04 L1012.88 710.31 L1014.07 707.45 L1015.26 705.6 L1016.44 703.51 L1017.63 700.49 L1018.82 699.85 L1020.01 698.81 L1021.2 697.47 L1022.39 695.77 L1023.57 693.74 L1024.76 694.56 L1025.95 695.25 L1027.14 695.79 L1028.56 694.75 L1029.75 694.95 L1030.94 693.83 L1032.13 692.06 L1033.32 684.23 L1034.51 676.9 L1035.69 681.37 L1036.88 683.16 L1038.07 678.57 L1039.26 676.46 L1040.45 674.68 L1041.63 673.14 L1042.82 671.05 L1044.01 672.31 L1045.2 674.28 L1046.39 676.47 L1047.58 678.86 L1048.76 679.59 L1049.95 682.03 L1050.67 690.97 L1051.62 705.45 L1052.57 717.6 L1053.52 716 L1054.71 710.4 L1055.89 707.39 L1057.08 709.74 L1058.27 719.61 L1058.98 733.29 L1059.7 740.49 L1060.65 734.17 L1061.83 727.6 L1063.02 716 L1064.21 711.25 L1065.4 715.56 L1066.59 718.33 L1067.78 716 L1068.96 710.73 L1070.15 706.32 L1071.34 702.78 L1072.53 697.86 L1073.72 696.47 L1074.9 698.33 L1076.09 696 L1077.28 692.97 L1078.47 695.02 L1079.66 693.17 L1080.85 690.67 L1082.03 688.06 L1083.22 681.26 L1083.94 671.65 L1084.89 667.46 L1085.84 658.15 L1086.79 644.29 L1087.5 629.27 L1088.21 620.45 L1089.16 609.72 L1090.35 602.89 L1091.06 591.59 L1092.02 593.29 L1092.97 597.65 L1093.92 600.77 L1095.1 595.48 L1096.29 598.32 L1097.48 600.36 L1098.67 597.81 L1099.86 590.91 L1101.05 588.63 L1102.23 591.42 L1103.42 593.76 L1104.61 591.1 L1105.8 590.27 L1106.99 593.46 L1108.17 603.31 L1109.36 606.16 L1110.55 607.52 L1111.74 605.73 L1112.93 595.2 L1114.12 586.15 L1115.3 582.75 L1116.49 579.8 L1117.68 574.55 L1118.87 571.95 L1120.06 566.73 L1121.25 569.84 L1122.43 571.8 L1123.62 568.79 L1124.81 564.19 L1126 560.56 L1127.19 551.39 L1128.37 539.17 L1129.09 534.21 L1130.04 538.55 L1130.99 546.08 L1131.94 547.96 L1133.13 555.06 L1134.32 559.57 L1135.5 565.29 L1136.69 572.62 L1137.64 567.17 L1138.59 595.92 L1139.31 625.16 L1140.02 656.28 L1140.97 653.27 L1141.92 648.12 L1142.87 643.84 L1143.82 648.17 L1145.01 650.47 L1146.2 645.74 L1147.39 643.14 L1148.57 641.63 L1149.76 643.86 L1150.95 646.54 L1152.14 639.43 L1153.33 629.33" fill="none" stroke="#0000ff" stroke-width="1.55" stroke-linejoin="round"/><path d="M670.2 666.48 L671.39 671.55 L672.58 662.49 L673.76 652.79 L674.95 650.89 L676.14 648.45 L677.33 646.15 L678.04 652.86 L678.99 667.08 L679.94 672.49 L680.89 667.41 L682.08 665.58 L683.27 667.69 L684.46 681.84 L685.65 686.28 L686.83 678.52 L688.02 683.03 L689.21 689.13 L690.4 684.77 L691.59 686.14 L692.78 684.06 L693.96 679.63 L694.68 674.24 L695.63 685.42 L696.58 704.45 L697.53 716.47 L698.72 723.57 L699.9 717.27 L701.09 711.84 L702.28 713.85 L703.47 721.19 L704.66 736.28 L705.85 738.16 L707.03 734.03 L708.22 729.64 L709.41 731.75 L710.6 727.89 L711.79 736.97 L712.98 729.41 L714.16 724.78 L715.35 722.27 L716.54 729.19 L717.73 736.26 L718.92 742.73 L720.1 736.16 L721.29 731.04 L722.48 725.64 L723.67 723.26 L724.86 728.08 L726.05 730.67 L727.23 724.49 L728.42 714.44 L729.61 705.63 L730.8 696.01 L731.99 690.7 L733.17 693.5 L734.36 694.74 L735.55 690.38 L736.74 687.64 L737.93 685.24 L739.12 688.4 L740.3 691.06 L741.49 681.62 L742.68 667.65 L743.87 648.49 L745.06 638.83 L746.25 634.41 L747.43 629.07 L748.62 624.49 L749.81 621.99 L751 622.8 L752.19 624.47 L753.37 621.91 L754.56 625.83 L755.75 633.25 L756.94 607.49 L758.13 606.63 L759.32 606.69 L760.5 603.13 L761.69 593.78 L762.88 586.37 L764.07 579.77 L765.26 573.54 L766.44 569.7 L767.63 564.65 L768.82 560.8 L770.01 557.68 L771.2 560.66 L772.39 558.32 L773.57 560.16 L774.76 554.9 L775.95 550.32 L777.14 548.16 L778.56 552.2 L779.75 547.76 L780.94 543 L782.13 536.2 L783.32 551.08 L784.51 539.74 L785.69 527.11 L786.41 522.85 L787.36 536.99 L788.31 559.88 L789.26 572.47 L790.45 577.57 L791.63 579.41 L792.82 586.66 L794.01 594.78 L795.2 596.28 L796.39 598.21 L797.58 593.8 L798.76 591.41 L799.95 594.96 L801.14 600.77 L802.33 605.46 L803.52 610.01 L804.71 612.98 L805.89 614.83 L807.08 619.83 L808.27 625.63 L809.46 629.75 L810.65 631.83 L811.83 624.62 L813.02 616.32 L814.21 612.1 L815.4 619.1 L816.59 628.89 L817.78 638.83 L818.96 643.05 L820.15 645.97 L821.34 643.31 L822.53 638.62 L823.72 640.98 L824.9 643.67 L826.09 641.05 L827.28 644.18 L828.47 649.2 L829.66 655.11 L830.85 659.21 L832.03 665.18 L833.22 670.51 L834.41 677.05 L835.6 681.51 L836.79 683.92 L837.98 686.45 L839.16 685.51 L840.35 686.41 L841.54 684.4 L842.73 685.17 L843.92 685.91 L845.1 684.67 L846.29 684.28 L847.48 685.58 L848.67 686.17 L849.86 689 L851.05 691.89 L852.23 694.09 L853.42 694.52 L854.61 695.74 L855.8 693 L856.99 694.74 L858.17 698.44 L859.36 696.63 L860.55 698.71 L861.74 700.5 L862.93 695.5 L864.12 688.81 L865.3 685 L866.49 681.62 L867.68 678.56 L868.87 675.83 L870.06 674.7 L871.25 674.15 L872.43 671.39 L873.62 673.62 L874.81 674.76 L876 672.38 L877.19 671.18 L878.37 674.1 L879.56 677.2 L880.75 675.67 L881.94 677.07 L883.13 679.2 L884.32 677.55 L885.5 682.22 L886.69 685.11 L887.88 686 L889.07 688.96 L890.26 691.34 L891.44 690.31 L892.63 686.73 L893.82 681.77 L895.01 679.8 L896.2 681.69 L897.39 683.65 L898.57 686.24 L899.76 688.5 L900.95 685.32 L902.14 681.81 L903.56 682.42 L904.75 681.37 L905.94 684.75 L907.13 686.8 L908.32 688.58 L909.51 686.7 L910.69 690.93 L911.88 692.98 L913.07 696.39 L914.26 698.6 L915.45 698.83 L916.63 696.64 L917.82 694.18 L919.01 691.37 L920.2 689.08 L921.39 696.16 L922.58 701.24 L923.76 705.13 L924.95 707.5 L926.14 708.58 L927.33 707.36 L928.52 705.88 L929.71 704.52 L930.89 707.4 L932.08 708.86 L933.27 709.56 L934.46 711.52 L935.65 709.83 L936.83 707.85 L938.02 708.97 L939.21 710.28 L940.4 713.14 L941.59 713.6 L942.78 712.19 L943.96 713.8 L945.15 715.59 L946.34 715.8 L947.53 722.32 L948.72 733.83 L949.9 738.15 L951.09 735.91 L952.28 737.24 L953.47 735.7 L954.66 736.57 L955.85 734.48 L957.03 733.83 L958.22 732.82 L959.41 734.52 L960.6 733.99 L961.79 736.7 L962.98 738.32 L964.16 738.16 L965.35 740.88 L966.54 744.1 L967.73 749.01 L968.92 751.65 L970.1 754.03 L971.29 755.21 L972.48 748.89 L973.67 738.93 L974.86 731.94 L976.05 729.39 L977.23 726.62 L978.42 725.85 L979.61 723.68 L980.8 721.38 L981.99 719.6 L983.17 718.28 L984.36 714.93 L985.55 712.45 L986.74 708.16 L987.93 699.12 L989.12 691.49 L990.3 689.4 L991.49 682.08 L992.21 691.61 L993.16 700.99 L994.11 706.4 L995.06 708.41 L996.25 710.49 L997.43 708.2 L998.62 705.83 L999.81 703.46 L1001 700.79 L1002.19 700.41 L1003.37 705.41 L1004.56 710.78 L1005.75 709.49 L1006.94 707.17 L1008.13 705.59 L1009.32 704.81 L1010.5 705.47 L1011.69 700.64 L1012.88 695.76 L1014.07 694.22 L1015.26 693.93 L1016.44 692.85 L1017.63 690.96 L1018.82 690.24 L1020.01 689.4 L1021.2 688.11 L1022.39 686.4 L1023.57 685.21 L1024.76 686.22 L1025.95 686.72 L1027.14 688.24 L1028.56 687.6 L1029.75 688.76 L1030.94 687.74 L1032.13 687.07 L1033.32 681.95 L1034.51 677.54 L1035.69 674.35 L1036.88 671.48 L1038.07 674.08 L1039.26 677.78 L1040.45 675.92 L1041.63 671.99 L1042.82 668.75 L1044.01 665.82 L1045.2 667.4 L1046.39 664.83 L1047.58 666.73 L1048.76 669.74 L1049.95 671.72 L1050.67 681.33 L1051.62 698.31 L1052.57 704.25 L1053.52 699.77 L1054.71 695.28 L1055.89 694.34 L1057.08 691.39 L1058.27 703.4 L1058.98 715.9 L1059.7 722.57 L1060.65 719.47 L1061.83 710.77 L1063.02 695.82 L1064.21 683.95 L1065.4 686.88 L1066.59 683.54 L1067.78 688.28 L1068.96 681.61 L1070.15 676.87 L1071.34 672.41 L1072.53 668.27 L1073.72 663.18 L1074.9 665.94 L1076.09 663.53 L1077.28 660.69 L1078.47 658.35 L1079.66 655.6 L1080.85 652.82 L1082.03 648.54 L1083.22 642.67 L1084.41 638.01 L1085.6 635.55 L1086.79 629.8 L1087.98 617.84 L1089.16 608.41 L1090.35 600.85 L1091.06 586.92 L1092.02 591.53 L1092.97 598.55 L1093.92 595.71 L1095.1 600.3 L1096.29 603.02 L1097.48 606.14 L1098.67 600.92 L1099.86 598.19 L1101.05 595.77 L1102.23 594.15 L1103.42 591.13 L1104.61 589 L1105.8 591.18 L1106.99 592.41 L1108.17 592.59 L1109.36 590.93 L1110.55 590.54 L1111.74 593.67 L1112.93 591.3 L1114.12 586.61 L1115.3 583.65 L1116.49 582.87 L1117.68 583.7 L1118.87 581.83 L1120.06 577.17 L1121.25 578.45 L1122.43 577.11 L1123.62 576.76 L1124.81 574.39 L1126 569.55 L1127.19 555.53 L1128.37 543.36 L1129.09 545.23 L1130.04 550.02 L1130.99 555.62 L1131.94 560.73 L1133.13 557.33 L1134.32 555.61 L1135.5 578.92 L1136.69 592.03 L1137.88 601.34 L1138.59 612.97 L1139.31 627.73 L1140.02 628.92 L1140.97 630.17 L1141.92 629.2 L1142.87 628.65 L1143.82 627.83 L1145.01 625.2 L1146.2 624.22 L1147.39 625.28 L1148.57 626.75 L1149.76 623.79 L1150.95 623.2 L1152.14 625.98 L1153.33 629.33" fill="none" stroke="#ff0000" stroke-width="1.5" stroke-dasharray="8.5 3.8" stroke-linejoin="round"/><line x1="643.75" x2="646.5" y1="555.33" y2="555.33" stroke="#333" stroke-width="1.1"/><text x="642.2" y="558.93" font-family='"Liberation Sans", sans-serif' font-size="8.6" letter-spacing="-0.35" text-anchor="end" fill="#4d4d4d">7.5</text><line x1="643.75" x2="646.5" y1="625.45" y2="625.45" stroke="#333" stroke-width="1.1"/><text x="642.2" y="629.05" font-family='"Liberation Sans", sans-serif' font-size="8.6" letter-spacing="-0.35" text-anchor="end" fill="#4d4d4d">5.0</text><line x1="643.75" x2="646.5" y1="695.58" y2="695.58" stroke="#333" stroke-width="1.1"/><text x="642.2" y="699.18" font-family='"Liberation Sans", sans-serif' font-size="8.6" letter-spacing="-0.35" text-anchor="end" fill="#4d4d4d">2.5</text><line x1="643.75" x2="646.5" y1="765.7" y2="765.7" stroke="#333" stroke-width="1.1"/><text x="642.2" y="769.3" font-family='"Liberation Sans", sans-serif' font-size="8.6" letter-spacing="-0.35" text-anchor="end" fill="#4d4d4d">0.0</text><line x1="756.2" x2="756.2" y1="796" y2="798.75" stroke="#333" stroke-width="1.1"/><text x="756.2" y="807.7" font-family='"Liberation Sans", sans-serif' font-size="8.6" letter-spacing="-0.35" text-anchor="middle" fill="#4d4d4d">2020-01</text><line x1="942.08" x2="942.08" y1="796" y2="798.75" stroke="#333" stroke-width="1.1"/><text x="942.08" y="807.7" font-family='"Liberation Sans", sans-serif' font-size="8.6" letter-spacing="-0.35" text-anchor="middle" fill="#4d4d4d">2020-07</text><line x1="1130" x2="1130" y1="796" y2="798.75" stroke="#333" stroke-width="1.1"/><text x="1130" y="807.7" font-family='"Liberation Sans", sans-serif' font-size="8.6" letter-spacing="-0.35" text-anchor="middle" fill="#4d4d4d">2021-01</text><text x="911.6" y="817.5" font-family='"Liberation Sans", sans-serif' font-size="9.5" text-anchor="middle" fill="#000">Time</text><text transform="translate(629.1,649.3) rotate(-90)" x="0" y="0" font-family='"Liberation Sans", sans-serif' font-size="9.5" text-anchor="middle" fill="#000">DY NET of LTC</text><text x="804.1" y="483.6" font-family='"Liberation Sans", sans-serif' font-size="9.3" fill="#000">exchange</text><rect x="849.1" y="472.1" width="14" height="13.8" fill="#f2f2f2"/><line x1="850.1" x2="861.6" y1="479.7" y2="479.7" stroke="#9317f0" stroke-width="1.5" stroke-dasharray="2.6 2.2 6.4 10" stroke-linecap="butt"/><text x="867.5" y="483.3" font-family='"Liberation Sans", sans-serif' font-size="7.6" fill="#1a1a1a">ltc_bf</text><rect x="890.8" y="472.1" width="14" height="13.8" fill="#f2f2f2"/><line x1="893.1" x2="903.8" y1="479.7" y2="479.7" stroke="#111" stroke-width="1.5" stroke-dasharray="0.01 4.9" stroke-linecap="round"/><text x="909.6" y="483.3" font-family='"Liberation Sans", sans-serif' font-size="7.6" fill="#1a1a1a">ltc_bn</text><rect x="935" y="472.1" width="14" height="13.8" fill="#f2f2f2"/><line x1="936" x2="948" y1="479.7" y2="479.7" stroke="#0000ff" stroke-width="1.5"/><text x="953.75" y="483.3" font-family='"Liberation Sans", sans-serif' font-size="7.6" fill="#1a1a1a">ltc_cb</text><rect x="979.4" y="472.1" width="14" height="13.8" fill="#f2f2f2"/><line x1="980.4" x2="989.4" y1="479.7" y2="479.7" stroke="#ff0000" stroke-width="1.5"/><text x="998" y="483.3" font-family='"Liberation Sans", sans-serif' font-size="7.6" fill="#1a1a1a">ltc_oe</text></g><g><text x="300.4" y="864.7" font-family='"Liberation Serif", serif' font-size="27.7" text-anchor="middle" fill="#000">(e) The dynamic comparison of NET for XLM.</text><rect x="52" y="915" width="524" height="294" fill="#ebebeb"/><line x1="52" x2="576" y1="928.98" y2="928.98" stroke="#f4f4f4" stroke-width="1.05"/><line x1="52" x2="576" y1="989.92" y2="989.92" stroke="#f4f4f4" stroke-width="1.05"/><line x1="52" x2="576" y1="1050.88" y2="1050.88" stroke="#f4f4f4" stroke-width="1.05"/><line x1="52" x2="576" y1="1111.83" y2="1111.83" stroke="#f4f4f4" stroke-width="1.05"/><line x1="52" x2="576" y1="1172.78" y2="1172.78" stroke="#f4f4f4" stroke-width="1.05"/><line x1="69.68" x2="69.68" y1="915" y2="1209" stroke="#f4f4f4" stroke-width="1.05"/><line x1="252.72" x2="252.72" y1="915" y2="1209" stroke="#f4f4f4" stroke-width="1.05"/><line x1="436.77" x2="436.77" y1="915" y2="1209" stroke="#f4f4f4" stroke-width="1.05"/><line x1="52" x2="576" y1="959.45" y2="959.45" stroke="#fafafa" stroke-width="1.35"/><line x1="52" x2="576" y1="1020.4" y2="1020.4" stroke="#fafafa" stroke-width="1.35"/><line x1="52" x2="576" y1="1081.35" y2="1081.35" stroke="#fafafa" stroke-width="1.35"/><line x1="52" x2="576" y1="1142.3" y2="1142.3" stroke="#fafafa" stroke-width="1.35"/><line x1="52" x2="576" y1="1203.25" y2="1203.25" stroke="#fafafa" stroke-width="1.35"/><line x1="161.2" x2="161.2" y1="915" y2="1209" stroke="#fafafa" stroke-width="1.35"/><line x1="344.24" x2="344.24" y1="915" y2="1209" stroke="#fafafa" stroke-width="1.35"/><line x1="529.3" x2="529.3" y1="915" y2="1209" stroke="#fafafa" stroke-width="1.35"/><path d="M76.13 930.45 L77.31 933.65 L78.5 936.37 L79.68 940.99 L80.86 947.53 L82.05 946.52 L83.23 942.63 L84.42 940.57 L85.6 936.64 L86.78 933.74 L87.97 930.86 L89.15 932.43 L90.34 931.3 L91.52 935.08 L92.7 943.18 L93.89 947.26 L95.07 949.41 L96.26 951.35 L97.44 952.75 L98.62 955.19 L99.81 962.86 L100.52 976.67 L101.23 980.57 L101.94 968.89 L102.65 950.05 L103.36 938.21 L104.07 944.96 L104.78 962.51 L105.73 948.49 L106.44 960.97 L107.15 976.64 L107.86 986.39 L108.57 972.35 L109.28 976.52 L109.99 981.2 L110.94 983.19 L111.88 987.28 L112.83 990.32 L114.02 988.89 L115.2 989.68 L116.38 990.89 L117.57 992.29 L118.75 991.04 L119.94 992.19 L121.12 993.35 L122.3 995.48 L123.49 994.47 L124.67 994.26 L125.86 995.33 L127.04 994.23 L128.22 995.7 L129.41 996.68 L130.59 994.6 L131.78 997.45 L132.96 998.68 L134.14 1000.36 L135.33 1002.15 L136.51 1004.64 L137.7 1006.09 L138.88 1006.8 L140.06 1005.95 L141.25 1009 L142.43 1009.66 L143.62 1011.34 L144.8 1009.81 L145.98 1011.92 L147.17 1015.2 L148.35 1017.26 L149.54 1015.32 L150.72 1014.38 L151.9 1012.69 L153.09 1013.38 L154.27 1014.37 L155.46 1015.12 L156.64 1016.14 L157.82 1018.07 L159.01 1014.91 L159.72 1010.43 L160.43 1002.99 L161.14 1010 L161.85 1017.68 L162.56 1021.03 L163.74 1023.3 L164.93 1028.89 L166.11 1034.52 L167.3 1031.45 L168.48 1030.93 L169.66 1028.5 L170.85 1033.33 L172.03 1035.18 L173.22 1042.68 L174.4 1052.01 L175.58 1061.84 L176.77 1067.88 L177.95 1070.8 L179.14 1073.99 L180.32 1076.53 L181.5 1074.39 L182.69 1076.84 L184.55 1076.34 L185.74 1073.83 L186.92 1095.09 L187.63 1076 L188.58 1064.47 L189.52 1069.06 L190.47 1073.57 L191.66 1075.79 L192.84 1072.32 L194.02 1074.45 L195.21 1071.8 L196.39 1069.54 L197.58 1076.22 L198.76 1080.49 L199.94 1082.54 L201.13 1084.37 L202.31 1083.13 L203.5 1080.47 L204.68 1075.4 L205.86 1068.4 L207.05 1063.9 L208.23 1061.53 L209.42 1057.9 L210.6 1059.96 L211.78 1054.67 L212.97 1047.52 L213.68 1041.14 L214.63 1045.51 L215.57 1050.01 L216.52 1055.47 L217.7 1058.11 L218.89 1055.84 L220.07 1053.02 L221.26 1055.25 L222.44 1057.65 L223.62 1055.01 L224.81 1052.62 L225.99 1054.86 L227.18 1058.2 L228.36 1060.31 L229.54 1062.82 L230.73 1059.66 L231.91 1057.05 L233.1 1054.27 L234.28 1053 L235.46 1048.21 L236.65 1045.6 L237.83 1052.96 L238.54 1062.82 L239.25 1052.82 L240.2 1045.41 L241.38 1040.63 L242.57 1039.63 L243.75 1037.69 L244.94 1036.33 L246.12 1037.53 L247.3 1038.26 L248.49 1036.75 L249.67 1035.69 L250.86 1034.26 L252.04 1031.48 L253.22 1030.58 L254.41 1028.57 L255.59 1025.47 L256.78 1023.99 L257.96 1019.82 L259.14 1017.45 L260.33 1018.28 L261.51 1017.05 L262.7 1015.92 L263.88 1018.68 L265.06 1019.92 L266.25 1020.47 L267.43 1025.05 L268.62 1031.8 L269.8 1034.03 L270.98 1036.02 L272.17 1037.26 L273.35 1041.45 L274.54 1043.73 L275.72 1047.41 L276.9 1049.83 L278.09 1046.23 L279.27 1048.53 L280.46 1043.63 L281.64 1044.45 L282.82 1045.03 L284.01 1047.69 L285.19 1043.41 L286.38 1035.64 L287.56 1030.96 L288.74 1028.42 L289.93 1025.9 L291.11 1022.8 L292.3 1028.29 L293.48 1033.6 L294.66 1038.78 L295.85 1041.14 L297.03 1043.62 L298.22 1045.28 L299.4 1047.57 L300.58 1047.39 L301.77 1045.6 L302.95 1045.99 L304.14 1047.37 L305.32 1046.02 L306.5 1045.68 L307.69 1048.13 L309.55 1046.83 L310.74 1045.3 L311.92 1044.27 L313.1 1043.06 L313.81 1037.79 L314.52 1035.87 L315.47 1041.63 L316.66 1045.88 L317.84 1050.66 L319.02 1052.03 L320.21 1051.15 L321.39 1054.26 L322.58 1057.67 L323.76 1059.69 L324.94 1062.03 L326.13 1058.09 L327.31 1054.79 L328.5 1052.58 L329.68 1054.84 L330.86 1056.76 L332.05 1059.44 L333.23 1061.42 L334.42 1059.08 L335.6 1055.06 L336.78 1049.95 L337.97 1047.59 L339.15 1045.55 L340.34 1043.53 L341.52 1044.83 L342.7 1047 L343.89 1048.36 L345.07 1049.52 L346.26 1050.58 L347.44 1051.7 L348.62 1050.96 L349.81 1049.97 L350.99 1051.95 L352.18 1056.87 L352.89 1067.01 L353.83 1069.02 L354.78 1061.54 L355.73 1063.63 L356.91 1065.7 L358.1 1068.48 L359.28 1070.69 L360.46 1075.19 L361.65 1080.25 L362.83 1082 L364.02 1084.88 L365.2 1083.79 L366.38 1082.94 L367.57 1084.38 L368.75 1085.17 L369.94 1085.06 L371.12 1082.59 L372.3 1083.6 L373.49 1085.09 L374.67 1083.77 L375.86 1081.44 L377.04 1078.33 L378.22 1076.57 L379.41 1078.56 L380.59 1076.49 L381.78 1075.79 L382.96 1077.33 L384.14 1078.34 L385.33 1080.34 L386.51 1082.57 L387.7 1083.51 L388.88 1087.81 L390.06 1090 L391.25 1092.83 L392.43 1095.34 L393.62 1093.52 L394.8 1095.12 L395.98 1097.58 L397.17 1100.03 L398.35 1099.11 L399.54 1097.6 L400.72 1100.13 L401.9 1101.85 L403.09 1102.23 L404.27 1104.5 L405.46 1107.43 L406.64 1110.3 L407.82 1112.64 L409.01 1114.28 L410.19 1111.34 L411.38 1104.6 L412.56 1101.15 L413.74 1099 L414.93 1098.72 L416.11 1099.97 L417.3 1100.36 L418.48 1098.85 L419.66 1099.42 L420.85 1098.08 L422.03 1099.62 L423.22 1098.47 L424.4 1099.05 L425.58 1098.64 L426.77 1100.15 L427.95 1098.89 L429.14 1099.78 L430.32 1101.16 L431.5 1101.74 L432.69 1105.55 L434.55 1105.05 L435.74 1107.47 L436.92 1104.72 L438.1 1102.06 L439.29 1102.91 L440.47 1104.01 L441.66 1101.81 L442.84 1099.13 L444.02 1094.44 L445.21 1091.75 L446.39 1089.67 L447.58 1085.54 L448.76 1081.42 L449.94 1078.35 L451.13 1085.36 L451.84 1090.73 L452.55 1095.1 L453.26 1099.3 L453.97 1101.87 L454.68 1100.19 L455.39 1097.11 L456.1 1101.98 L457.05 1104.72 L458.23 1103.06 L459.42 1104.88 L460.6 1102.56 L461.78 1104.83 L462.97 1106.18 L464.15 1107.05 L465.34 1109.75 L466.52 1110.36 L467.7 1111.4 L468.89 1113.61 L470.07 1115.91 L471.26 1116.26 L472.44 1117.81 L473.62 1118.39 L474.81 1119.36 L475.99 1118.21 L477.18 1116.55 L478.36 1114.66 L479.54 1116.05 L480.73 1118.13 L481.91 1119.85 L483.1 1121.92 L484.28 1122.11 L485.46 1123.07 L486.65 1124.82 L487.83 1127.13 L489.02 1129.09 L490.2 1130.18 L491.38 1128.63 L492.57 1127.6 L493.75 1128.74 L494.94 1127.4 L496.12 1125.76 L497.3 1124.7 L498.49 1123.34 L499.67 1120.81 L500.86 1128.54 L502.04 1134.99 L503.22 1139.92 L504.41 1143.11 L505.59 1145.7 L506.78 1139.85 L507.96 1137.09 L509.14 1139.45 L510.33 1143.34 L511.51 1147.84 L512.7 1151.39 L513.88 1159.22 L515.06 1168.88 L515.77 1174.75 L516.72 1166.52 L517.67 1159.43 L518.62 1161.59 L519.8 1163.91 L520.98 1158.66 L522.17 1155.41 L523.35 1151.24 L524.54 1149.68 L525.72 1151.71 L526.9 1150.43 L528.09 1151.54 L529.27 1149.86 L530.46 1148.03 L531.64 1142.28 L532.82 1151.57 L533.77 1146.97 L534.72 1132.91 L535.43 1115.73 L536.14 1101.73 L536.85 1095.16 L537.56 1092.94 L538.74 1095.58 L539.93 1097.45 L541.11 1099.75 L542.3 1101.22 L543.48 1101.89 L544.66 1101.1 L545.85 1102.39 L547.03 1105.02 L548.22 1104.08 L549.4 1102.24 L550.58 1099.78 L551.77 1102.07 L552.48 1102.07" fill="none" stroke="#9317f0" stroke-width="1.5" stroke-dasharray="2.6 2.2 6.4 2.2" stroke-linejoin="round"/><path d="M76.13 1094.49 L77.31 1099.77 L78.5 1105.11 L79.68 1109.78 L80.86 1111.69 L82.05 1114.64 L83.23 1111.87 L84.42 1110.04 L85.6 1106.38 L86.78 1102.29 L87.97 1100.21 L89.15 1097.74 L90.34 1102.11 L91.52 1104.74 L92.7 1102.42 L93.89 1100.32 L95.07 1102.82 L96.26 1104.47 L97.44 1108.27 L98.15 1117.56 L98.86 1126.99 L99.57 1146.5 L100.28 1165.9 L100.99 1178.26 L101.7 1166.03 L102.41 1147.51 L103.12 1123.6 L103.83 1099.63 L104.54 1080.75 L105.25 1068.58 L105.96 1080.71 L106.67 1089.86 L107.62 1094.82 L108.57 1097.88 L109.52 1098.33 L110.46 1096.77 L111.65 1098.73 L112.83 1097.11 L114.02 1098.71 L115.2 1099.81 L116.38 1097.55 L117.57 1100.09 L118.75 1102.41 L119.94 1100.54 L121.12 1099.57 L122.3 1101.38 L123.49 1099.66 L124.67 1101.98 L125.86 1104.05 L127.04 1103.96 L128.22 1105.27 L129.41 1106.41 L130.59 1105.41 L131.78 1107.53 L132.96 1108.41 L134.14 1109.68 L135.33 1112.04 L136.51 1113.55 L137.7 1112.35 L138.88 1114.02 L140.06 1115.22 L141.25 1116.31 L142.43 1118.3 L143.62 1117 L144.8 1115.34 L145.98 1113.52 L147.17 1111.99 L148.35 1110.42 L149.54 1109.23 L150.72 1111.16 L151.9 1110.07 L153.09 1109.6 L154.27 1111.48 L155.46 1112.38 L156.64 1110.3 L157.82 1106.99 L159.01 1104.34 L160.19 1101.51 L161.38 1103.34 L162.56 1104.1 L163.74 1106.66 L164.93 1103.94 L166.11 1102.26 L167.3 1104.46 L168.48 1104.86 L169.66 1104.71 L170.85 1103.14 L172.03 1104.22 L173.22 1106.87 L174.4 1104.31 L175.58 1105.64 L176.77 1109.77 L177.95 1114.31 L179.14 1116.25 L180.32 1118.33 L181.5 1120.33 L182.69 1123.33 L184.21 1123.63 L185.74 1123.77 L186.92 1123.81 L188.1 1126.37 L189.29 1129.42 L190.47 1128.08 L191.66 1128.38 L192.84 1129.2 L194.02 1130.9 L195.21 1128.37 L196.39 1125.67 L197.58 1125.81 L198.76 1128.73 L199.94 1128.37 L201.13 1128.21 L202.31 1126.6 L203.5 1125.86 L204.68 1121.11 L205.86 1122.53 L207.05 1119.09 L208.23 1118.24 L209.42 1116.87 L210.6 1115.01 L211.78 1112.2 L212.97 1107.37 L214.15 1107.08 L215.34 1110.78 L216.52 1111.24 L217.7 1117.04 L218.89 1119.1 L220.07 1116.1 L221.26 1108.92 L222.44 1104.1 L223.62 1101.48 L224.81 1104.01 L225.99 1109.01 L227.18 1111.47 L228.36 1102.2 L229.54 1090.78 L230.73 1081.18 L231.91 1075.9 L233.1 1073.56 L234.28 1071.72 L235.46 1076.29 L236.65 1080.71 L237.83 1086.54 L239.02 1083.3 L240.2 1077.9 L241.38 1075.34 L242.57 1073.63 L243.75 1071.87 L244.94 1072.81 L246.12 1071.46 L247.3 1071.29 L248.49 1067.77 L249.67 1070.53 L250.86 1068.78 L252.04 1068.02 L253.22 1068.11 L254.41 1069.28 L255.59 1069.78 L256.78 1071.29 L257.96 1070.96 L259.14 1071.23 L260.33 1072.18 L261.51 1069.38 L262.7 1069.86 L263.88 1071.45 L265.06 1071.49 L266.25 1072.46 L267.43 1072.05 L268.62 1074.2 L269.8 1075.2 L270.98 1077.49 L272.17 1082.14 L273.35 1080.21 L275.25 1083.39 L276.19 1069.41 L277.61 1062 L279.03 1066.7 L280.46 1068.74 L281.64 1065.81 L282.82 1070.54 L284.01 1065.54 L285.19 1056.36 L286.38 1049.88 L287.56 1042.47 L288.74 1039.7 L289.93 1035.65 L291.11 1028.68 L292.3 1027.09 L293.48 1030.98 L294.66 1035.51 L295.85 1038.92 L297.03 1042.98 L298.22 1046.43 L299.4 1047.58 L300.58 1049.98 L301.77 1049.64 L302.95 1050.78 L304.14 1051.38 L305.32 1050.18 L306.5 1049.52 L308.03 1049.21 L309.55 1050.08 L310.74 1046.84 L311.92 1044.55 L313.1 1044.3 L314.52 1033.21 L315.95 1040.41 L317.84 1044.67 L319.02 1047.67 L320.21 1047.05 L321.39 1045.76 L322.58 1045.64 L323.76 1047.87 L324.94 1048.5 L326.13 1050.13 L327.31 1047.55 L328.5 1049.11 L329.68 1049.09 L330.86 1049.56 L332.05 1050.11 L333.23 1045.96 L334.42 1046.51 L335.6 1042.57 L336.78 1040.71 L337.97 1039.42 L339.15 1038.08 L340.34 1037.66 L341.52 1039.26 L342.7 1039.61 L343.89 1039.94 L345.07 1041.66 L346.26 1043.97 L347.44 1043.61 L348.62 1042.76 L349.81 1042.61 L350.99 1044.52 L352.89 1057.27 L354.54 1053.83 L356.2 1051.26 L358.1 1051.94 L359.99 1057.71 L361.65 1062.04 L362.83 1065.55 L364.02 1066.23 L365.2 1066.97 L366.38 1068.61 L367.57 1066.85 L368.75 1066.22 L369.94 1063.46 L371.12 1064.89 L372.3 1064.18 L373.49 1063.5 L374.67 1059.85 L375.86 1062.52 L377.04 1064.2 L378.22 1060.82 L379.41 1061.61 L380.59 1063.44 L381.78 1064.14 L382.96 1064.04 L384.14 1064.68 L385.33 1063.74 L386.51 1065.2 L387.7 1067.17 L388.88 1068.8 L390.06 1069.14 L391.25 1071.31 L392.43 1071.77 L393.62 1072.95 L394.8 1072.99 L395.98 1071.29 L397.17 1074.22 L398.35 1075.39 L399.54 1076.34 L400.72 1076.55 L401.9 1077.1 L403.09 1076.22 L404.27 1078.68 L405.46 1076.78 L406.64 1079.84 L407.82 1083.67 L409.01 1089.73 L410.19 1094.69 L411.38 1092.43 L412.56 1085.81 L413.74 1080.74 L414.93 1077.62 L416.11 1080.08 L417.3 1078.77 L418.48 1077.59 L419.66 1078.14 L420.85 1077.92 L422.03 1077.79 L423.22 1079.17 L424.4 1079.25 L425.58 1079.36 L426.77 1077.68 L427.95 1080.2 L429.14 1078.97 L430.32 1079.21 L431.5 1078.98 L433.03 1081.33 L434.55 1078.77 L435.74 1076.83 L436.92 1080.93 L438.1 1078.87 L439.29 1077.2 L440.47 1073.4 L441.66 1070.19 L442.84 1069.15 L444.02 1065.45 L445.21 1064.16 L446.39 1063.07 L447.58 1059.42 L448.76 1059.87 L449.94 1054.28 L451.13 1050.08 L451.84 1056.72 L452.79 1066.58 L453.73 1068.55 L454.68 1071.33 L455.86 1072.41 L457.05 1074.54 L458.23 1079.35 L459.42 1081.11 L460.6 1080.16 L461.78 1078.2 L462.97 1076.6 L464.15 1080.14 L465.34 1076.89 L466.52 1078.38 L467.7 1083.49 L468.89 1090.02 L470.07 1092.37 L471.26 1094.97 L472.44 1096.56 L473.62 1097.33 L474.81 1093.87 L475.99 1094.58 L477.18 1095.42 L478.36 1093.21 L479.54 1097.25 L480.73 1102.26 L481.91 1104.1 L483.1 1104.38 L484.28 1106.84 L485.46 1108.76 L486.65 1111.59 L487.83 1113.96 L489.02 1112.35 L490.2 1116.66 L491.38 1118.37 L492.57 1121.61 L493.75 1120.37 L494.94 1119.36 L496.12 1120.39 L497.3 1116.28 L498.49 1113.98 L499.67 1113.99 L500.86 1115.28 L502.04 1115.6 L503.22 1113.71 L504.41 1118.02 L505.59 1115.6 L506.78 1117.05 L507.96 1115.66 L509.14 1114.64 L510.33 1118.17 L511.51 1116.27 L512.7 1118.13 L513.88 1119.58 L515.06 1122.35 L516.25 1122.62 L517.43 1126.64 L518.62 1126 L519.8 1127.63 L520.98 1127.2 L522.17 1124.74 L523.35 1123.07 L524.54 1118.45 L525.72 1120.31 L526.9 1119.9 L528.09 1122.87 L529.27 1118.52 L530.46 1099.9 L531.64 1089.65 L532.82 1084.57 L534.01 1080.2 L535.19 1071.09 L536.38 1064.07 L537.56 1056.48 L538.74 1049.34 L539.93 1051.73 L541.11 1061.03 L542.3 1068.95 L543.48 1071.24 L544.66 1073.65 L545.85 1073.75 L547.03 1076.09 L548.22 1072.14 L549.4 1070.83 L550.58 1066.72 L551.77 1061.93 L552.48 1059.45" fill="none" stroke="#111111" stroke-width="1.35" stroke-dasharray="1.4 3.3" stroke-linejoin="round"/><path d="M76.13 1033.73 L77.31 1037.67 L78.5 1043.03 L79.68 1047.31 L80.86 1049.23 L82.05 1047.82 L83.23 1048.98 L84.42 1048.39 L85.6 1045.74 L86.78 1038.3 L87.97 1035.26 L89.15 1037.77 L90.34 1035.82 L91.52 1038.19 L92.7 1047.71 L93.89 1051.02 L95.07 1052.37 L96.26 1053.62 L97.44 1053.06 L98.62 1054.51 L99.33 1068.11 L100.04 1094.9 L100.75 1123.45 L101.47 1139.95 L102.18 1127.94 L102.89 1123.54 L103.6 1112.19 L104.31 1095.54 L105.02 1081.47 L105.73 1079.17 L106.44 1086.12 L107.15 1095.42 L108.1 1097.88 L109.28 1095.58 L110.46 1099.99 L111.65 1104.53 L112.83 1108.9 L114.02 1104.76 L115.2 1101.99 L116.38 1104.11 L117.57 1103.39 L118.75 1104.58 L119.94 1102.58 L121.12 1104.61 L122.3 1114.32 L123.49 1109.24 L124.67 1107.18 L125.86 1109.08 L127.04 1112.04 L128.22 1109.37 L129.41 1111.39 L130.59 1113.94 L131.78 1116.78 L132.96 1118.18 L134.14 1123.61 L135.33 1121.97 L136.51 1123.57 L137.7 1122.39 L138.88 1124.1 L140.06 1125.08 L141.25 1125.96 L142.43 1127.77 L143.14 1128.73 L144.09 1119.77 L145.04 1116.64 L145.98 1118.53 L147.17 1112.94 L148.35 1111.1 L149.54 1110.18 L150.72 1112.2 L151.9 1109.9 L153.09 1111.27 L154.27 1109.13 L155.46 1107.95 L156.64 1106.86 L157.82 1104.72 L159.01 1102.93 L159.72 1100.35 L160.66 1103.75 L161.61 1106.38 L162.56 1105.85 L163.74 1109.64 L164.93 1112.41 L166.11 1113.85 L167.3 1116.38 L168.48 1111.46 L169.66 1109.89 L170.85 1114.06 L172.03 1118.01 L173.22 1120.25 L174.4 1122.75 L175.58 1127.41 L176.77 1132.4 L177.95 1137.34 L179.14 1140.67 L180.32 1134.77 L181.5 1137.09 L182.69 1139.34 L184.55 1139.56 L185.74 1142.89 L186.92 1140.5 L188.1 1145.27 L189.29 1149.4 L190 1151.02 L190.95 1145.3 L191.89 1137.56 L192.84 1130.45 L194.02 1128.24 L195.21 1123.61 L196.39 1119.25 L197.58 1121.43 L198.76 1126.14 L199.94 1123.25 L201.13 1121 L202.31 1120.71 L203.5 1118.64 L204.68 1116.26 L205.86 1114.13 L207.05 1111.16 L208.23 1109.26 L209.42 1106.92 L210.6 1103.71 L211.78 1101.92 L212.97 1096.94 L213.68 1092.56 L214.63 1094.15 L215.57 1099.2 L216.52 1101.7 L217.7 1103.84 L218.89 1107.05 L220.07 1105.56 L221.26 1104.35 L222.44 1102.82 L223.62 1104.44 L224.81 1100.61 L225.99 1094.94 L227.18 1090.48 L228.36 1085.07 L229.54 1079.63 L230.25 1068.71 L231.2 1056.73 L231.91 1053.01 L232.62 1050.95 L233.57 1048.56 L234.52 1043.55 L235.23 1034.34 L235.94 1031.01 L236.65 1038.14 L237.36 1040.11 L238.31 1035.14 L239.25 1033.45 L240.2 1031.62 L241.38 1029.05 L242.57 1027.32 L243.75 1026.25 L244.94 1024.7 L246.12 1026.1 L247.3 1028.13 L248.49 1026.94 L249.67 1025.54 L250.86 1023.67 L251.57 1028.25 L252.51 1032.31 L253.22 1030.77 L254.41 1028.98 L255.59 1026.99 L256.78 1029.54 L257.96 1026.71 L259.14 1028.29 L260.33 1030.6 L261.51 1028.23 L262.7 1025.8 L263.88 1027.25 L265.06 1028.35 L266.25 1030.17 L267.43 1031.9 L268.62 1032.35 L269.8 1032.96 L270.98 1034.5 L272.17 1035.85 L273.35 1038.15 L274.54 1040.23 L275.25 1028.9 L275.96 1014.22 L276.9 1013.65 L277.61 1018.25 L278.32 1037.57 L279.03 1046.77 L279.74 1028.41 L280.46 1018.97 L281.64 1018.85 L282.82 1020.6 L284.01 1021.26 L285.19 1023.89 L285.9 1011.8 L286.61 1009.41 L287.56 1007.65 L288.74 1005.01 L289.93 1000.54 L290.64 986.68 L291.35 979.02 L292.3 982.02 L293.24 986.26 L294.19 983.52 L295.14 995.28 L296.08 1004.66 L297.03 1009.3 L298.22 1012.33 L299.4 1011.03 L300.58 1012.3 L301.77 1011.29 L302.95 1012.25 L304.14 1009.8 L305.32 1011.11 L306.5 1013.98 L307.69 1016.66 L309.55 1019.19 L310.74 1014.03 L311.92 1012.45 L313.1 1009.8 L313.81 999.83 L314.52 991.7 L315.47 998.15 L316.18 1010.03 L316.89 1017.25 L317.84 1024.31 L319.02 1030.93 L320.21 1038.54 L321.39 1040.48 L322.58 1037.48 L323.76 1038.85 L324.94 1042.78 L326.13 1040.04 L327.31 1038.59 L328.5 1040.27 L329.68 1042.92 L330.86 1045.97 L332.05 1050.02 L333.23 1051.25 L334.42 1047.74 L335.6 1040.23 L336.78 1033.4 L337.97 1027.99 L339.15 1027.53 L340.34 1029.59 L341.52 1031.59 L342.7 1029.99 L343.89 1033.78 L344.6 1028.52 L345.31 1038.02 L346.26 1040.35 L347.44 1042.79 L348.62 1044.54 L349.81 1035.4 L350.99 1030.49 L352.18 1032.76 L352.89 1043.13 L353.83 1038.24 L354.78 1032.77 L355.73 1035.2 L356.91 1033.2 L358.1 1030.15 L358.81 1028.06 L359.52 1034.64 L360.46 1039.38 L361.65 1047.11 L362.83 1051.59 L364.02 1056.44 L365.2 1059.14 L366.38 1062.58 L367.57 1063.91 L368.75 1061.13 L369.94 1060.83 L371.12 1060.24 L372.3 1060.96 L373.49 1059.6 L374.67 1059.76 L375.86 1060.44 L377.04 1059.52 L378.22 1057.4 L379.41 1054.89 L380.59 1053.15 L381.78 1055 L382.96 1054.22 L384.14 1054.8 L385.33 1057.2 L386.51 1059.8 L387.7 1062.03 L388.88 1067.07 L390.06 1071.57 L391.25 1073.4 L392.43 1072.19 L393.62 1071.89 L394.8 1073.1 L395.98 1075.16 L397.17 1078.14 L398.35 1080.44 L399.54 1083.28 L400.72 1084.86 L401.9 1084.58 L403.09 1082.47 L404.27 1087.23 L405.46 1090.12 L406.64 1095.12 L407.82 1098.58 L409.01 1108.28 L409.72 1121.47 L410.43 1131.06 L411.38 1128.56 L412.09 1121.74 L413.03 1114.46 L413.98 1109.33 L414.93 1106.99 L416.11 1103.55 L417.3 1104.5 L418.48 1105.85 L419.66 1106.5 L420.85 1106.83 L422.03 1108.09 L423.22 1109.17 L424.4 1108.5 L425.58 1106.83 L426.77 1109.27 L427.95 1107.6 L429.14 1106.52 L430.32 1109.22 L431.5 1112.11 L432.69 1116.39 L434.55 1116.38 L435.74 1118.94 L436.92 1117.08 L438.1 1113.73 L439.29 1111.61 L440.47 1110.39 L441.66 1108.93 L442.84 1107.75 L444.02 1104.81 L445.21 1107.22 L446.39 1105.02 L447.58 1102.83 L448.76 1103.4 L449.94 1102.36 L451.13 1097.5 L451.84 1093.02 L452.55 1104.54 L453.26 1123.74 L453.97 1132.66 L454.68 1123.46 L455.39 1104.41 L456.1 1102.76 L457.05 1104.94 L458.23 1103.17 L459.42 1104.36 L460.6 1101.49 L461.78 1102.21 L462.97 1103.61 L464.15 1105.35 L465.34 1103.9 L466.52 1105.68 L467.7 1108.05 L468.89 1111.07 L470.07 1114.8 L471.26 1115.2 L472.44 1119.08 L473.62 1121.08 L474.81 1122.17 L475.99 1120.47 L477.18 1116.36 L478.36 1114 L479.54 1114.95 L480.73 1116.35 L481.91 1117.74 L483.1 1120.38 L484.28 1122.04 L485.46 1123.53 L486.65 1125.72 L487.83 1127.66 L489.02 1135.46 L490.2 1137.91 L491.38 1140.2 L492.57 1142.03 L493.75 1139.63 L494.94 1141.85 L496.12 1142.8 L497.3 1146.61 L498.49 1148.52 L499.67 1146.96 L500.86 1142.72 L502.04 1139.57 L503.22 1142.11 L504.41 1146.71 L505.59 1145.38 L506.78 1142.63 L507.96 1140.92 L509.14 1142.11 L510.33 1142.85 L511.51 1143.58 L512.7 1146.84 L513.88 1151.13 L515.06 1149.19 L516.25 1146.56 L517.43 1145.88 L518.62 1144.83 L519.8 1145.4 L520.98 1144.44 L522.17 1137.66 L523.35 1131.06 L524.54 1131.14 L525.72 1130.52 L526.9 1127.78 L528.09 1125.31 L529.27 1118.54 L529.98 1108.73 L530.93 1116.12 L531.88 1122.8 L532.82 1118.06 L533.53 1108.55 L534.24 1099.87 L535.19 1085.49 L535.9 1079.52 L536.61 1076.77 L537.56 1070.74 L538.27 1063.66 L538.98 1066.68 L539.93 1070.75 L541.11 1073.99 L542.3 1072.5 L543.48 1076.13 L544.66 1080.27 L545.85 1083.5 L547.03 1085.59 L548.22 1087.71 L549.4 1088.71 L550.58 1080.91 L551.77 1076.06 L552.48 1071.29" fill="none" stroke="#0000ff" stroke-width="1.55" stroke-linejoin="round"/><path d="M76.13 1104.24 L77.31 1107.27 L78.5 1108.83 L79.68 1110.82 L80.86 1118.06 L82.05 1115.92 L83.23 1117.77 L83.94 1126.21 L84.89 1123.53 L85.84 1121.28 L86.78 1116.51 L87.97 1113.72 L89.15 1111.13 L90.34 1107.29 L91.52 1112.58 L92.7 1114.33 L93.89 1109.1 L95.07 1106.4 L96.26 1110.86 L97.44 1118.51 L98.15 1128.52 L98.86 1142.67 L99.57 1163.3 L100.28 1180.1 L100.99 1194.96 L101.7 1179.77 L102.41 1161.3 L103.12 1140.35 L103.83 1116.88 L104.54 1100.5 L105.25 1090.36 L105.96 1095.1 L106.67 1102.42 L107.62 1111.36 L108.57 1118.14 L109.52 1118.45 L110.46 1114.26 L111.65 1108.89 L112.83 1106.48 L114.02 1108.35 L115.2 1106.37 L116.38 1104.64 L117.57 1102.28 L118.75 1104.56 L119.94 1106.45 L121.12 1102.85 L122.3 1104.06 L123.49 1106.82 L124.67 1104.1 L125.86 1105.65 L127.04 1106.8 L128.22 1108.01 L129.41 1109.6 L130.59 1106.55 L131.78 1108.65 L132.96 1110.86 L134.14 1113.63 L135.33 1110.51 L136.51 1113.79 L137.7 1116.23 L138.88 1118.23 L140.06 1121.03 L141.25 1120.73 L142.43 1115.78 L143.62 1111.34 L144.8 1106.92 L145.98 1104.68 L147.17 1106.49 L148.35 1108.31 L149.54 1107.53 L150.72 1106.07 L151.9 1108.32 L153.09 1108.07 L154.27 1107.93 L155.46 1105.89 L156.64 1104.19 L157.82 1101.89 L159.01 1104.26 L160.19 1099.74 L161.38 1094.57 L162.56 1093 L163.74 1095.75 L164.93 1097.37 L166.11 1090.24 L167.3 1088.1 L168.48 1089.6 L169.66 1088.23 L170.85 1090.88 L172.03 1092.88 L173.22 1088.66 L174.4 1086.07 L175.58 1087.46 L176.77 1090.65 L177.95 1099.35 L179.14 1104.64 L180.32 1106.5 L181.5 1109.07 L182.69 1107.2 L184.55 1109.16 L185.74 1112.38 L186.92 1104.99 L188.1 1109.91 L189.29 1114.82 L190.47 1116.89 L191.66 1109.54 L192.84 1114.44 L194.02 1112.53 L195.21 1105.04 L196.39 1100.29 L197.58 1109.52 L198.76 1114.19 L199.94 1111.7 L201.13 1110.84 L202.31 1109.13 L203.5 1106.61 L204.68 1104.67 L205.86 1101.8 L207.05 1099.8 L208.23 1096.53 L208.94 1091.47 L209.89 1084.53 L210.84 1082.03 L211.78 1085.04 L212.97 1079.74 L213.68 1075.43 L214.63 1078.02 L215.57 1085.08 L216.52 1092.83 L217.7 1090.27 L218.89 1085.43 L220.07 1080.63 L221.26 1073.2 L222.44 1069.44 L223.62 1072.41 L224.81 1076.83 L225.99 1073.95 L227.18 1071.21 L228.36 1078.83 L229.54 1076.54 L230.73 1069.25 L231.44 1062.25 L232.15 1057.35 L233.1 1052.47 L234.28 1047.46 L235.46 1044 L236.65 1048.44 L237.36 1057.85 L238.31 1052.07 L239.25 1057.79 L240.2 1055.24 L241.38 1050.24 L242.57 1047.51 L243.75 1046.32 L244.94 1045.77 L246.12 1048.22 L247.3 1046.37 L248.49 1045.24 L249.67 1044.37 L250.86 1045.8 L252.04 1047.66 L253.22 1045.25 L254.41 1043.71 L255.59 1046.74 L256.78 1046 L257.96 1044.62 L259.14 1045.54 L260.33 1042.64 L261.51 1044.21 L262.7 1045.15 L263.88 1046.69 L265.06 1047.32 L266.25 1046.47 L267.43 1048.92 L268.62 1050.79 L269.8 1051.6 L270.98 1050.27 L272.17 1048.73 L273.35 1052.62 L274.54 1057.9 L275.72 1055.51 L276.9 1047.9 L278.09 1043.21 L279.03 1061.86 L279.98 1058.2 L280.93 1053 L281.64 1055.33 L282.82 1053.39 L284.01 1048.73 L285.19 1043.11 L285.9 1035.61 L286.61 1028.65 L287.56 1025.86 L288.74 1023.28 L289.93 1020.91 L290.64 1017.3 L291.35 1014.73 L292.3 1016.91 L293.24 1025.01 L294.19 1028.71 L295.14 1030.75 L296.08 1033.17 L297.03 1036.07 L298.22 1037.36 L299.4 1037.98 L300.58 1036.5 L301.77 1037.01 L302.95 1038.8 L304.14 1036.24 L305.32 1037.13 L306.5 1039.36 L307.69 1040.41 L309.55 1038.41 L310.74 1037.32 L311.92 1035.51 L313.1 1037.89 L313.81 1025.92 L314.52 1016.45 L315.47 1028.15 L316.18 1035.54 L316.89 1041.17 L317.84 1043.52 L319.02 1044.31 L320.21 1042.77 L321.39 1043.46 L322.58 1042.32 L323.76 1043.23 L324.94 1044.79 L326.13 1042.99 L327.31 1044.79 L328.5 1045.75 L329.68 1047.27 L330.86 1049.86 L332.05 1051.05 L333.23 1052.2 L334.42 1046.95 L335.6 1039.98 L336.78 1036.55 L337.97 1035.53 L339.15 1034.27 L340.34 1035.27 L341.52 1034.13 L342.7 1035.89 L343.89 1038.65 L345.07 1040.27 L346.26 1041.48 L347.44 1043.36 L348.62 1040.72 L349.81 1038.82 L350.99 1040.6 L352.18 1048.47 L352.89 1062.03 L353.83 1071.61 L354.78 1062.08 L355.73 1056.89 L356.91 1052.97 L358.1 1047.33 L358.81 1052.67 L359.52 1059.7 L360.46 1066.74 L361.65 1071.78 L362.83 1071.13 L364.02 1073.83 L365.2 1071.67 L366.38 1075.28 L367.57 1076.31 L368.75 1074.78 L369.94 1073.65 L371.12 1076.25 L372.3 1078.54 L373.49 1076.16 L374.67 1074.1 L375.86 1071.69 L377.04 1069.99 L378.22 1066.98 L379.41 1069.02 L380.59 1066.76 L381.78 1064.32 L382.96 1063.19 L384.14 1064.39 L385.33 1065.78 L386.51 1064.23 L387.7 1067.49 L388.88 1068.95 L390.06 1073.41 L391.25 1075.4 L392.43 1078.26 L393.62 1080.18 L394.8 1078.23 L395.98 1076.46 L397.17 1078.63 L398.35 1080.67 L399.54 1082.64 L400.72 1079.86 L401.9 1078.04 L403.09 1080.56 L404.27 1085.41 L405.46 1087.34 L406.64 1089.73 L407.82 1094.09 L409.01 1100.01 L410.19 1102.44 L411.38 1099.77 L412.56 1095.19 L413.74 1090.86 L414.93 1088.24 L416.11 1086.11 L417.3 1083.8 L418.48 1082.52 L419.66 1083.87 L420.85 1085.12 L422.03 1084.04 L423.22 1082.18 L424.4 1084.6 L425.58 1081.74 L426.77 1083.45 L427.95 1085 L429.14 1082.66 L430.32 1081.48 L431.5 1083.1 L432.69 1083.67 L434.55 1082.97 L435.74 1085.33 L436.92 1083.16 L438.1 1080.34 L439.29 1079.24 L440.47 1081.36 L441.66 1078.64 L442.84 1076.11 L444.02 1072.76 L445.21 1075.02 L446.39 1071.67 L447.58 1066.77 L448.76 1068.9 L449.94 1066.33 L451.13 1064.46 L451.84 1066 L452.55 1075.72 L453.26 1086.02 L453.97 1083.93 L454.68 1081.82 L455.39 1085.84 L456.1 1090.44 L457.05 1094.83 L458.23 1092.84 L459.42 1096.91 L460.6 1099.39 L461.78 1102.33 L462.97 1099.77 L464.15 1102.36 L465.34 1104.54 L466.52 1102.45 L467.7 1104.57 L468.89 1109.59 L470.07 1111.53 L471.26 1112.31 L472.44 1113.05 L473.62 1115.29 L474.81 1114.46 L475.99 1112.86 L477.18 1111.15 L478.36 1109.55 L479.54 1111.99 L480.73 1116.34 L481.91 1118.74 L483.1 1121.58 L484.28 1122.21 L485.46 1123.16 L486.65 1125.26 L487.83 1128.06 L489.02 1133.02 L490.2 1130.09 L491.38 1142.32 L492.09 1147.07 L493.04 1141.69 L493.99 1136.76 L494.94 1130.28 L496.12 1128.63 L497.3 1132.82 L498.49 1136.47 L499.67 1132.58 L500.86 1130.71 L502.04 1127.32 L503.22 1129.36 L504.41 1131.97 L505.59 1134.1 L506.78 1137.38 L507.96 1136.09 L509.14 1132.78 L510.33 1132.07 L511.51 1128.23 L512.7 1133.05 L513.88 1137.49 L515.06 1141.9 L516.25 1139.37 L517.43 1141.46 L518.62 1143.07 L519.8 1146.3 L520.98 1147.92 L522.17 1144.91 L523.35 1142.59 L524.54 1139.3 L525.72 1136.99 L526.9 1139.42 L528.09 1137.44 L529.27 1132.84 L529.98 1123.48 L530.93 1118.5 L531.88 1123.7 L532.82 1127.57 L533.77 1132.67 L534.72 1123.27 L535.43 1109.8 L536.14 1095.95 L536.85 1081.84 L537.56 1070.04 L538.27 1065.1 L538.98 1069.37 L539.93 1075.88 L541.11 1079.74 L542.3 1085.03 L543.48 1089.54 L544.66 1094.64 L545.85 1097.2 L547.03 1094.62 L548.22 1090.03 L549.4 1084.96 L550.58 1089.11 L551.77 1098.58 L552.48 1094.97" fill="none" stroke="#ff0000" stroke-width="1.5" stroke-dasharray="8.5 3.8" stroke-linejoin="round"/><line x1="49.25" x2="52" y1="959.45" y2="959.45" stroke="#333" stroke-width="1.1"/><text x="47.7" y="963.05" font-family='"Liberation Sans", sans-serif' font-size="8.6" letter-spacing="-0.35" text-anchor="end" fill="#4d4d4d">2.5</text><line x1="49.25" x2="52" y1="1020.4" y2="1020.4" stroke="#333" stroke-width="1.1"/><text x="47.7" y="1024" font-family='"Liberation Sans", sans-serif' font-size="8.6" letter-spacing="-0.35" text-anchor="end" fill="#4d4d4d">0.0</text><line x1="49.25" x2="52" y1="1081.35" y2="1081.35" stroke="#333" stroke-width="1.1"/><text x="47.7" y="1084.95" font-family='"Liberation Sans", sans-serif' font-size="8.6" letter-spacing="-0.35" text-anchor="end" fill="#4d4d4d">-2.5</text><line x1="49.25" x2="52" y1="1142.3" y2="1142.3" stroke="#333" stroke-width="1.1"/><text x="47.7" y="1145.9" font-family='"Liberation Sans", sans-serif' font-size="8.6" letter-spacing="-0.35" text-anchor="end" fill="#4d4d4d">-5.0</text><line x1="49.25" x2="52" y1="1203.25" y2="1203.25" stroke="#333" stroke-width="1.1"/><text x="47.7" y="1206.85" font-family='"Liberation Sans", sans-serif' font-size="8.6" letter-spacing="-0.35" text-anchor="end" fill="#4d4d4d">-7.5</text><line x1="161.2" x2="161.2" y1="1209" y2="1211.75" stroke="#333" stroke-width="1.1"/><text x="161.2" y="1220.7" font-family='"Liberation Sans", sans-serif' font-size="8.6" letter-spacing="-0.35" text-anchor="middle" fill="#4d4d4d">2020-01</text><line x1="344.24" x2="344.24" y1="1209" y2="1211.75" stroke="#333" stroke-width="1.1"/><text x="344.24" y="1220.7" font-family='"Liberation Sans", sans-serif' font-size="8.6" letter-spacing="-0.35" text-anchor="middle" fill="#4d4d4d">2020-07</text><line x1="529.3" x2="529.3" y1="1209" y2="1211.75" stroke="#333" stroke-width="1.1"/><text x="529.3" y="1220.7" font-family='"Liberation Sans", sans-serif' font-size="8.6" letter-spacing="-0.35" text-anchor="middle" fill="#4d4d4d">2021-01</text><text x="314" y="1230.5" font-family='"Liberation Sans", sans-serif' font-size="9.5" text-anchor="middle" fill="#000">Time</text><text transform="translate(32.1,1062.8) rotate(-90)" x="0" y="0" font-family='"Liberation Sans", sans-serif' font-size="9.5" text-anchor="middle" fill="#000">DY NET of XLM</text><text x="198.7" y="899" font-family='"Liberation Sans", sans-serif' font-size="9.3" fill="#000">exchange</text><rect x="243.2" y="888" width="14" height="13.3" fill="#f2f2f2"/><line x1="244.2" x2="255.7" y1="895" y2="895" stroke="#9317f0" stroke-width="1.5" stroke-dasharray="2.6 2.2 6.4 10" stroke-linecap="butt"/><text x="261.9" y="898.7" font-family='"Liberation Sans", sans-serif' font-size="7.6" fill="#1a1a1a">xlm_bf</text><rect x="289.4" y="888" width="14" height="13.3" fill="#f2f2f2"/><line x1="291.7" x2="302.4" y1="895" y2="895" stroke="#111" stroke-width="1.5" stroke-dasharray="0.01 4.9" stroke-linecap="round"/><text x="308.1" y="898.7" font-family='"Liberation Sans", sans-serif' font-size="7.6" fill="#1a1a1a">xlm_bn</text><rect x="337.1" y="888" width="14" height="13.3" fill="#f2f2f2"/><line x1="338.1" x2="350.1" y1="895" y2="895" stroke="#0000ff" stroke-width="1.5"/><text x="356.2" y="898.7" font-family='"Liberation Sans", sans-serif' font-size="7.6" fill="#1a1a1a">xlm_cb</text><rect x="385.4" y="888" width="14" height="13.3" fill="#f2f2f2"/><line x1="386.4" x2="395.4" y1="895" y2="895" stroke="#ff0000" stroke-width="1.5"/><text x="403.9" y="898.7" font-family='"Liberation Sans", sans-serif' font-size="7.6" fill="#1a1a1a">xlm_oe</text></g><g><text x="900.7" y="864.7" font-family='"Liberation Serif", serif' font-size="27.7" text-anchor="middle" fill="#000">(f) The dynamic comparison of NET for XRP.</text><rect x="644" y="917" width="516" height="290" fill="#ebebeb"/><line x1="644" x2="1160" y1="942.05" y2="942.05" stroke="#f4f4f4" stroke-width="1.05"/><line x1="644" x2="1160" y1="1000.75" y2="1000.75" stroke="#f4f4f4" stroke-width="1.05"/><line x1="644" x2="1160" y1="1059.45" y2="1059.45" stroke="#f4f4f4" stroke-width="1.05"/><line x1="644" x2="1160" y1="1118.15" y2="1118.15" stroke="#f4f4f4" stroke-width="1.05"/><line x1="644" x2="1160" y1="1176.85" y2="1176.85" stroke="#f4f4f4" stroke-width="1.05"/><line x1="660.9" x2="660.9" y1="917" y2="1207" stroke="#f4f4f4" stroke-width="1.05"/><line x1="841.5" x2="841.5" y1="917" y2="1207" stroke="#f4f4f4" stroke-width="1.05"/><line x1="1023.1" x2="1023.1" y1="917" y2="1207" stroke="#f4f4f4" stroke-width="1.05"/><line x1="644" x2="1160" y1="971.4" y2="971.4" stroke="#fafafa" stroke-width="1.35"/><line x1="644" x2="1160" y1="1030.1" y2="1030.1" stroke="#fafafa" stroke-width="1.35"/><line x1="644" x2="1160" y1="1088.8" y2="1088.8" stroke="#fafafa" stroke-width="1.35"/><line x1="644" x2="1160" y1="1147.5" y2="1147.5" stroke="#fafafa" stroke-width="1.35"/><line x1="644" x2="1160" y1="1206.2" y2="1206.2" stroke="#fafafa" stroke-width="1.35"/><line x1="751.2" x2="751.2" y1="917" y2="1207" stroke="#fafafa" stroke-width="1.35"/><line x1="931.81" x2="931.81" y1="917" y2="1207" stroke="#fafafa" stroke-width="1.35"/><line x1="1114.4" x2="1114.4" y1="917" y2="1207" stroke="#fafafa" stroke-width="1.35"/><path d="M667.84 1103.99 L669 1100.62 L670.17 1096.41 L671.34 1092.25 L672.5 1089.43 L673.67 1086.53 L674.84 1084.97 L676 1080.65 L677.17 1082.81 L678.34 1087.74 L679.51 1091.62 L680.67 1096.78 L681.37 1085.74 L682.07 1077.72 L683.01 1073.56 L684.17 1071.69 L685.34 1068.93 L686.51 1066.53 L687.67 1068.78 L688.84 1070.97 L690.01 1066.18 L690.71 1052.09 L691.41 1038.21 L692.34 1030.23 L693.51 1033.51 L694.67 1037.49 L695.84 1043.18 L697.01 1048.26 L697.71 1052.56 L698.41 1047.71 L699.34 1040.84 L700.51 1033.62 L701.68 1026.62 L702.84 1018.56 L704.01 1016.77 L705.18 1016.41 L706.34 1014.84 L707.51 1014.4 L708.68 1013.56 L709.84 1019.5 L710.54 1029.7 L711.48 1036.16 L712.18 1031.4 L713.34 1027 L714.51 1029.52 L715.68 1031.67 L716.84 1033.93 L718.01 1038.63 L719.18 1031.24 L720.35 1026.16 L721.51 1025.52 L722.68 1026.79 L723.85 1028.3 L725.01 1027.35 L726.18 1029.57 L727.35 1032.46 L728.51 1034.04 L729.68 1039.11 L730.85 1042.36 L732.01 1045.47 L733.18 1046.91 L734.35 1051.57 L735.51 1061.14 L736.68 1076.26 L737.85 1093.98 L739.02 1111.28 L740.18 1121.9 L741.35 1124.56 L742.52 1123.76 L743.68 1121.74 L744.85 1122.82 L746.02 1121.73 L747.18 1122.93 L748.35 1123.81 L749.52 1125.45 L750.68 1127.11 L751.38 1136.59 L752.08 1143.77 L753.02 1148.2 L753.72 1153.22 L754.42 1160.46 L755.35 1167.83 L756.05 1173.67 L756.98 1167.01 L757.68 1163.99 L758.85 1162.58 L760.02 1164.94 L761.19 1162.79 L762.35 1159.58 L763.52 1157.3 L764.69 1154.26 L765.85 1157.56 L767.02 1160.83 L768.19 1158.38 L769.35 1159.02 L770.52 1160.51 L771.69 1157.81 L772.85 1159.61 L774.02 1161.81 L775.19 1160.51 L776.5 1161.09 L777.67 1164.66 L778.83 1165.93 L780 1166.76 L781.17 1164.5 L782.33 1161.85 L783.5 1165.13 L784.67 1159.17 L785.37 1147.89 L786.07 1140.52 L787 1138.6 L788.17 1135.54 L789.34 1137.82 L790.5 1135.24 L791.67 1133.18 L792.84 1131.51 L794 1129.32 L795.17 1126.99 L796.34 1121.54 L797.5 1119.96 L798.67 1118.24 L799.84 1115.65 L801 1113.02 L802.17 1114.68 L803.34 1115.96 L804.51 1117.99 L805.67 1120.1 L806.84 1123.37 L808.01 1116.15 L809.17 1108.25 L810.34 1104 L811.51 1102.45 L812.67 1097.49 L813.84 1100.55 L815.01 1110.84 L816.17 1115.12 L817.34 1119.82 L818.51 1115.78 L819.67 1108.37 L820.84 1110.76 L822.01 1115.45 L823.18 1113.15 L824.34 1110.6 L825.51 1111.65 L826.68 1110.19 L827.84 1107.86 L829.01 1109.19 L830.18 1107.44 L831.34 1104.35 L832.51 1105.82 L833.68 1103.84 L834.84 1102.09 L836.01 1103.36 L837.18 1102.04 L838.34 1102.74 L839.51 1104.3 L840.68 1098.71 L841.84 1098.45 L843.01 1098.94 L844.18 1101.17 L845.35 1103.35 L846.51 1110.63 L847.68 1114.76 L848.85 1117.27 L850.01 1109.87 L851.18 1105.81 L852.35 1101.55 L853.51 1104.21 L854.68 1105.75 L855.85 1115.76 L857.01 1120.55 L858.18 1121.72 L859.35 1123.37 L860.51 1121.63 L861.68 1123.3 L862.85 1124.51 L864.02 1123.54 L865.18 1126.39 L866.35 1131.29 L867.52 1126.95 L868.68 1122.07 L869.85 1120.23 L871.02 1117.36 L872.18 1117.21 L873.35 1119.99 L874.52 1121.77 L875.68 1124.33 L876.85 1122.09 L878.02 1119.67 L879.18 1118.08 L880.35 1117.92 L881.52 1116.85 L882.68 1115.42 L883.85 1115.62 L885.02 1114.68 L886.19 1113.34 L887.35 1111.79 L888.52 1111.02 L889.69 1109.25 L890.85 1111.66 L892.02 1112.24 L893.19 1113.41 L894.35 1112.34 L895.52 1113.94 L896.69 1114.61 L897.85 1112.89 L899.02 1115.63 L900.19 1118.69 L901.5 1116.02 L902.67 1121.27 L903.83 1119.14 L905 1115.36 L906.17 1111.36 L907.33 1106.49 L908.5 1101.15 L909.67 1098.9 L910.84 1094.17 L912 1089.64 L912.7 1085.23 L913.4 1080.4 L914.34 1077.05 L915.5 1074.57 L916.67 1074.09 L917.84 1075.63 L919 1076.39 L920.17 1077.42 L921.34 1080.42 L922.5 1083.07 L923.67 1086 L924.84 1089.15 L926 1092.32 L927.17 1093.19 L928.34 1090.1 L929.51 1087.18 L930.67 1083.9 L931.84 1083.81 L933.01 1085.04 L934.17 1086.86 L935.34 1085.62 L936.51 1083.2 L937.67 1081.54 L938.84 1082.93 L940.01 1084.23 L941.17 1089.37 L942.34 1094.26 L943.51 1091.81 L944.67 1090.78 L945.84 1091.15 L947.01 1093.86 L948.18 1095.57 L949.34 1093.24 L950.51 1092.95 L951.68 1091.88 L952.84 1094.23 L954.01 1093.28 L955.18 1092.06 L956.34 1090.37 L957.51 1090.05 L958.68 1089.18 L959.84 1087.91 L961.01 1085.37 L962.18 1080.51 L962.88 1070.71 L963.58 1062.42 L964.51 1067.87 L965.68 1080.71 L966.38 1094.38 L967.08 1103.46 L968.01 1105.99 L969.18 1109.27 L970.35 1111.52 L971.51 1113.71 L972.68 1110.15 L973.85 1107.39 L975.01 1105.3 L976.18 1106.4 L977.35 1108.14 L978.51 1106.81 L979.68 1105.04 L980.85 1104.32 L982.01 1106.43 L983.18 1105.12 L984.35 1103.65 L985.51 1101.41 L986.68 1100.54 L987.85 1103.38 L989.02 1104.92 L990.18 1103.92 L991.35 1102.36 L992.52 1104.06 L993.68 1104.85 L994.85 1106.71 L996.02 1109.49 L997.18 1111.37 L998.35 1107.42 L999.52 1103.67 L1000.68 1098.65 L1001.85 1095.57 L1003.02 1093.79 L1004.18 1094.4 L1005.35 1093.93 L1006.52 1093.71 L1007.68 1092.62 L1008.85 1093.54 L1010.02 1094.65 L1011.19 1093.78 L1012.35 1091.81 L1013.52 1090.91 L1014.69 1091.74 L1015.85 1093.4 L1017.02 1090.66 L1018.19 1090.15 L1019.35 1088.65 L1020.52 1090.04 L1021.69 1091.51 L1022.85 1090.2 L1024.02 1088.67 L1025.19 1087.96 L1026.5 1090.82 L1027.67 1091.99 L1028.83 1090.56 L1030 1089.26 L1031.17 1088.17 L1032.33 1085.29 L1033.5 1083.09 L1034.67 1081.49 L1035.84 1079.35 L1037 1077.91 L1038.17 1076.19 L1039.34 1073.3 L1040.5 1075.82 L1041.67 1077.97 L1042.84 1079.37 L1044 1077.98 L1045.17 1079.12 L1046.34 1080.27 L1047.5 1080.96 L1048.67 1085.19 L1049.84 1089.93 L1051 1087.08 L1052.17 1085.02 L1053.34 1079.92 L1054.51 1084.93 L1055.67 1092.51 L1056.84 1094.78 L1058.01 1097.11 L1059.17 1098.05 L1060.34 1097.33 L1061.51 1097.02 L1062.67 1094.86 L1063.84 1095.74 L1065.01 1093.56 L1066.17 1096.6 L1067.34 1096.33 L1068.51 1089.54 L1069.67 1084.9 L1070.84 1082.88 L1072.01 1080.26 L1073.18 1070.77 L1073.88 1056.63 L1074.81 1045.37 L1075.74 1036.32 L1076.68 1034.17 L1077.84 1029.29 L1079.01 1038.93 L1080.18 1052.89 L1081.34 1056.59 L1082.51 1054.14 L1083.68 1051.84 L1084.84 1047.61 L1086.01 1045.09 L1087.18 1047.44 L1088.34 1040.28 L1089.51 1038.11 L1090.68 1043.03 L1091.84 1047.69 L1093.01 1049.76 L1094.18 1052.86 L1095.35 1055.28 L1096.51 1057.39 L1097.68 1052.68 L1098.85 1038.84 L1099.55 1024.33 L1100.25 998.75 L1100.95 977.35 L1101.65 987.47 L1102.35 1005.89 L1103.51 1017.42 L1104.68 1023.92 L1105.85 1029.61 L1107.01 1033.48 L1108.18 1037.49 L1109.35 1040.27 L1110.51 1042.48 L1111.68 1038.17 L1112.38 1054.42 L1113.08 1074.94 L1114.02 1070.36 L1115.18 1067.8 L1116.35 1066.64 L1117.52 1068.24 L1118.68 1066.07 L1119.85 1064.24 L1121.02 1066.15 L1122.18 1070.79 L1123.35 1074.67 L1124.52 1073.07 L1125.68 1067.99 L1126.85 1066.31 L1128.02 1064.13 L1129.18 1061.65 L1130.35 1063.67 L1131.52 1068.43 L1132.68 1065.99 L1133.85 1071.07 L1135.02 1075.41 L1136.19 1078.03" fill="none" stroke="#9317f0" stroke-width="1.5" stroke-dasharray="2.6 2.2 6.4 2.2" stroke-linejoin="round"/><path d="M667.84 1052.72 L669 1047.31 L670.17 1042.65 L671.34 1040.62 L672.5 1038.29 L673.67 1036.83 L674.84 1033.61 L676 1031.42 L677.17 1028.71 L678.34 1026.89 L679.51 1024.95 L680.67 1029 L681.84 1026.86 L683.01 1022.13 L684.17 1019.55 L685.34 1015.81 L686.51 1012.38 L687.67 1010.28 L688.84 1008.12 L690.01 1003.03 L690.71 987.21 L691.41 968.68 L692.34 954.8 L693.51 949.81 L694.67 952.04 L695.84 958.64 L697.01 963.19 L698.18 961.15 L699.34 957.8 L700.51 950.8 L701.68 946.13 L702.84 942.78 L704.01 940.7 L705.18 939.01 L706.34 937.38 L707.51 938.99 L708.68 940.19 L709.84 950.03 L710.54 960.13 L711.48 969.47 L712.18 971.8 L713.34 973.8 L714.51 976.09 L715.68 973.82 L716.84 970.91 L718.01 968.59 L719.18 965.74 L720.35 967.01 L721.51 966.73 L722.68 967.24 L723.85 968.53 L725.01 969.53 L726.18 968.47 L727.35 970.68 L728.51 973.07 L729.68 970.58 L730.85 972.03 L732.01 973.86 L733.18 977.61 L734.35 987.32 L735.51 1006.46 L736.68 1025.04 L737.85 1041.3 L739.02 1055.4 L740.18 1067.47 L741.35 1071.77 L742.52 1073.08 L743.68 1075.81 L744.85 1078.79 L746.02 1081.22 L747.18 1080.07 L748.35 1078.65 L749.52 1079.97 L750.68 1087.36 L751.85 1098.79 L753.02 1109.09 L754.18 1117.81 L755.35 1131.18 L756.52 1136.14 L757.68 1136.94 L758.85 1136.32 L760.02 1135.68 L761.19 1136.98 L762.35 1134.89 L763.52 1134.16 L764.69 1137.36 L765.85 1135.6 L767.02 1133.3 L768.19 1132.13 L769.35 1130.95 L770.52 1133.68 L771.69 1135.1 L772.85 1136.72 L774.02 1134.7 L775.19 1134.08 L776.5 1134.92 L777.67 1138.49 L778.83 1139.56 L780 1140.83 L781.17 1138.66 L782.33 1140.52 L783.5 1141.98 L784.67 1138.18 L785.84 1121.88 L786.54 1112.36 L787.47 1122.33 L788.17 1126.55 L789.34 1129.48 L790.5 1131.92 L791.67 1135.16 L792.84 1136.9 L794 1138.78 L795.17 1133.75 L796.34 1122.6 L797.5 1120.18 L798.67 1122.74 L799.84 1121.31 L801 1120.35 L802.17 1121.5 L803.34 1122.27 L804.51 1123.75 L805.67 1124.31 L806.84 1123.35 L808.01 1122.66 L809.17 1115.88 L810.34 1108.75 L811.51 1110.46 L812.67 1108.09 L813.84 1110.38 L815.01 1117.4 L816.17 1120.11 L817.34 1123 L818.51 1125 L819.67 1127.23 L820.84 1131.93 L822.01 1133.95 L823.18 1137.55 L824.34 1138.48 L825.51 1139.53 L826.68 1136.67 L827.84 1136.74 L829.01 1135.63 L830.18 1136.54 L831.34 1134.69 L832.51 1133.19 L833.68 1132.2 L834.84 1131.53 L836.01 1129.43 L837.18 1128.57 L838.34 1128.62 L839.51 1131.51 L840.68 1129.89 L841.84 1131.02 L843.01 1130.61 L844.18 1131.4 L845.35 1129.34 L846.51 1129.28 L847.68 1130.68 L848.85 1130.96 L850.01 1135.87 L851.18 1136.74 L852.35 1135.08 L853.51 1132.27 L854.68 1129.43 L855.85 1140.93 L857.01 1150.41 L858.18 1151.14 L859.35 1154.55 L860.51 1153.6 L861.68 1156.25 L862.85 1155.85 L864.02 1159.26 L865.18 1162.31 L866.35 1162.42 L867.52 1159.62 L868.68 1154.69 L869.85 1150.41 L871.02 1150.68 L872.18 1151.25 L873.35 1152.57 L874.52 1152.23 L875.68 1150.58 L876.85 1151.51 L878.02 1149.16 L879.18 1147.5 L880.35 1145.27 L881.52 1146.48 L882.68 1144.11 L883.85 1142.3 L885.02 1141.68 L886.19 1140.97 L887.35 1139.42 L888.52 1139.12 L889.69 1137.69 L890.85 1139.33 L892.02 1138.07 L893.19 1136.5 L894.35 1135.81 L895.52 1135.67 L896.69 1137.09 L897.85 1137.1 L899.02 1138.2 L900.84 1144.06 L902.67 1148.05 L903.83 1146.82 L905 1145.39 L906.17 1142.18 L907.33 1136.05 L908.5 1127.95 L909.67 1125.99 L910.84 1125.09 L912 1127.19 L913.17 1120.52 L914.34 1115 L915.5 1113.82 L916.67 1114.37 L917.84 1117.34 L919 1117.96 L920.17 1119.41 L921.34 1118.92 L922.5 1117.85 L923.67 1118.91 L924.84 1119.31 L926 1121.95 L927.17 1119.94 L928.34 1119.77 L929.51 1118.35 L930.67 1117.77 L931.84 1116.91 L933.01 1115.47 L934.17 1112.61 L935.34 1110.07 L936.51 1107.13 L937.67 1108.16 L938.84 1109.97 L940.01 1107.28 L941.17 1106.37 L942.34 1107.45 L943.51 1106.66 L944.67 1109.19 L945.84 1110.96 L947.01 1110.81 L948.18 1111.55 L949.34 1111.68 L950.51 1112.17 L951.68 1110.35 L952.84 1112.11 L954.01 1109.72 L955.18 1110.63 L956.34 1108.43 L957.51 1108.25 L958.68 1107.09 L959.84 1106.42 L961.01 1105.59 L962.88 1096.04 L964.04 1093.8 L965.68 1101.47 L967.08 1115.02 L969.18 1117.92 L970.35 1119.25 L971.51 1120.07 L972.68 1120.79 L973.85 1118.13 L975.01 1115.13 L976.18 1114.73 L977.35 1114.08 L978.51 1113.73 L979.68 1111.54 L980.85 1111.18 L982.01 1112.37 L983.18 1111.35 L984.35 1113.28 L985.51 1109.34 L986.68 1110.36 L987.85 1106.2 L989.02 1105.11 L990.18 1105.65 L991.35 1103.74 L992.52 1103.1 L993.68 1103.82 L994.85 1105.36 L996.02 1107.58 L997.18 1108.03 L998.35 1104.43 L999.52 1103.06 L1000.68 1098.83 L1001.85 1098.47 L1003.02 1097.13 L1004.18 1096.7 L1005.35 1095.46 L1006.52 1095.33 L1007.68 1097.89 L1008.85 1094.87 L1010.02 1095.09 L1011.19 1094.87 L1012.35 1092.25 L1013.52 1092.92 L1014.69 1092.7 L1015.85 1092.6 L1017.02 1090.86 L1018.19 1092.04 L1019.35 1091.13 L1020.52 1093.47 L1021.69 1094.48 L1022.85 1094.03 L1024.02 1092.76 L1025.19 1091.94 L1026.43 1093.21 L1027.67 1092.45 L1028.83 1089.8 L1030 1090.64 L1031.17 1088.06 L1032.33 1090.07 L1033.5 1087.95 L1034.67 1087 L1035.84 1087.39 L1037 1085.26 L1038.17 1083.67 L1039.34 1080.7 L1040.5 1081.38 L1041.67 1082.25 L1042.84 1082.11 L1044 1086.27 L1045.17 1086.58 L1046.34 1089.76 L1047.5 1093.08 L1048.67 1096.21 L1049.84 1095.18 L1051 1099.03 L1052.17 1099.74 L1053.34 1103.43 L1054.51 1104 L1055.67 1107.88 L1056.84 1110.09 L1058.01 1112.95 L1059.17 1114.22 L1060.34 1116.04 L1061.51 1120.21 L1062.67 1118.58 L1063.84 1120.28 L1065.01 1115.94 L1066.17 1115.35 L1067.34 1113.29 L1068.51 1110.22 L1069.67 1106.58 L1070.84 1103.88 L1072.01 1099.02 L1073.88 1080.94 L1075.51 1066.36 L1077.14 1056.96 L1079.01 1066.38 L1080.18 1069.1 L1081.34 1071.55 L1082.51 1071.12 L1083.68 1069.42 L1084.84 1067.42 L1086.01 1066.83 L1087.18 1065.24 L1088.34 1063.81 L1089.51 1062.07 L1090.68 1062.02 L1091.84 1060.12 L1093.01 1057.5 L1094.18 1057.03 L1095.35 1055.7 L1096.51 1056.11 L1097.68 1051.01 L1098.85 1043.72 L1100.01 1038.33 L1101.18 1036.31 L1102.35 1034.37 L1103.51 1032.02 L1104.68 1031.1 L1106.55 1028.47 L1108.18 1035.34 L1109.81 1044.1 L1111.68 1052.91 L1112.85 1069.19 L1114.02 1075.62 L1115.18 1072.94 L1116.35 1072.1 L1117.52 1073.61 L1118.68 1069.3 L1119.85 1067.92 L1121.02 1066.72 L1122.18 1067.99 L1123.35 1067.48 L1124.52 1065.47 L1125.68 1063.29 L1126.85 1057.94 L1128.02 1058.97 L1129.18 1059.73 L1130.35 1057.02 L1131.52 1060.08 L1132.68 1061.51 L1133.85 1064.09 L1135.02 1066.36 L1136.19 1066.36" fill="none" stroke="#111111" stroke-width="1.35" stroke-dasharray="1.4 3.3" stroke-linejoin="round"/><path d="M667.84 1062.75 L669 1061.17 L670.17 1058.45 L671.34 1060.06 L672.5 1057.58 L673.67 1054.99 L674.84 1051.09 L676 1047.98 L677.17 1049.43 L678.34 1051.82 L679.51 1054.6 L680.67 1058.82 L681.37 1046.56 L682.07 1040.09 L683.01 1037.51 L684.17 1042.27 L685.34 1038.74 L686.51 1037.79 L687.67 1037.76 L688.84 1037.84 L690.01 1035.55 L690.71 1017.16 L691.41 993.88 L692.34 982.31 L693.51 979.97 L694.67 982.17 L695.84 980.28 L697.01 984.8 L697.71 988.95 L698.41 982.25 L699.34 973.78 L700.51 963.42 L701.68 958.96 L702.84 954.46 L704.01 956.74 L705.18 953.18 L706.34 954.69 L707.51 957.67 L708.68 962.47 L709.84 970.77 L710.54 985.14 L711.48 985.2 L712.18 978.32 L713.34 980.23 L714.51 986.8 L715.68 992.15 L716.84 995.17 L718.01 991.46 L719.18 986.48 L720.35 984.63 L721.51 981.98 L722.68 981.35 L723.85 979.4 L725.01 981.24 L726.18 982.51 L727.35 986.76 L728.51 995.82 L729.68 1004.59 L730.85 1003.2 L732.01 1005.82 L733.18 1006.92 L734.35 1015.11 L735.51 1024.47 L736.68 1037.92 L737.85 1058.86 L739.02 1079.99 L740.18 1089.46 L741.35 1092.15 L742.52 1095.19 L743.68 1095.49 L744.85 1096.25 L746.02 1094.79 L747.18 1094.52 L748.35 1091.89 L749.52 1090.85 L750.68 1093.77 L751.38 1104.07 L752.08 1108.66 L753.02 1113.9 L753.72 1123.49 L754.42 1137.04 L755.35 1144.31 L756.52 1145.06 L757.68 1143.75 L758.85 1141.53 L760.02 1141.35 L761.19 1143.6 L762.35 1141.64 L763.52 1137.94 L764.69 1140.41 L765.85 1143.47 L767.02 1145.61 L768.19 1140.96 L769.35 1139.4 L770.52 1143.07 L771.69 1147.25 L772.85 1150.11 L774.02 1152.94 L775.19 1152.31 L776.5 1155.05 L777.67 1157.4 L778.83 1159.35 L780 1158.28 L781.17 1161.79 L782.33 1163.69 L783.5 1166.44 L784.67 1167.36 L785.37 1155.01 L786.07 1145.76 L787 1143.16 L788.17 1145.59 L789.34 1149.96 L790.5 1153.83 L791.67 1147.96 L792.84 1150.57 L794 1152.36 L795.17 1154.6 L796.34 1138.92 L797.5 1134.09 L798.67 1136.8 L799.84 1135.72 L801 1136.32 L802.17 1133.96 L803.34 1131.86 L804.51 1130.18 L805.67 1131.72 L806.84 1146.06 L808.01 1143.4 L809.17 1127.36 L810.34 1115.18 L811.51 1110.81 L812.67 1107.79 L813.84 1112.77 L815.01 1126.39 L816.17 1129.11 L817.34 1125.93 L818.51 1124.45 L819.67 1133.46 L820.84 1140.05 L822.01 1145.47 L823.18 1139.43 L824.34 1140.63 L825.51 1145.59 L826.68 1148.13 L827.84 1150.39 L829.01 1152.49 L830.18 1153.06 L831.34 1149.78 L832.51 1148.23 L833.68 1147.07 L834.84 1147.64 L836.01 1148.44 L837.18 1148.29 L838.34 1145.92 L839.51 1150.52 L840.68 1152.48 L841.84 1149.9 L843.01 1148.34 L844.18 1141.39 L845.35 1143.66 L846.51 1145.5 L847.68 1152.34 L848.85 1154.76 L850.01 1147.06 L851.18 1143.8 L852.35 1148.49 L853.51 1150.78 L854.68 1153.17 L855.85 1160.28 L857.01 1167.25 L858.18 1171.81 L859.35 1173.31 L860.51 1175.85 L861.68 1174.11 L862.85 1173.4 L864.02 1175.67 L865.18 1182.2 L866.35 1173.51 L867.52 1175 L868.68 1176.52 L869.85 1175.92 L871.02 1178.09 L872.18 1180.46 L873.35 1180.87 L874.52 1183.03 L875.68 1186.01 L876.85 1187.45 L878.02 1191.99 L879.18 1193.97 L879.88 1185.23 L880.82 1182.82 L881.75 1180.45 L882.68 1177.91 L883.85 1175.89 L885.02 1174.13 L886.19 1169.31 L887.35 1164.22 L888.52 1161.03 L889.69 1161.43 L890.85 1160.3 L892.02 1159.27 L893.19 1159.07 L894.35 1158.29 L895.52 1157.11 L896.69 1155.54 L897.85 1155.62 L899.02 1158.24 L900.19 1158.58 L901.5 1161.38 L902.67 1164.94 L903.83 1163.77 L905 1159.15 L906.17 1152.5 L907.33 1147.46 L908.5 1140.96 L909.67 1133.64 L910.84 1136.44 L912 1143.4 L912.7 1134.29 L913.4 1122.85 L914.34 1120.04 L915.5 1121.76 L916.67 1124.25 L917.84 1125.86 L919 1126.55 L920.17 1127.08 L921.34 1128.98 L922.5 1127.08 L923.67 1128.24 L924.84 1129.76 L926 1131.14 L927.17 1131.02 L928.34 1128.62 L929.51 1127.51 L930.67 1125.13 L931.84 1126.07 L933.01 1122.61 L934.17 1120.01 L935.34 1116.91 L936.51 1114.99 L937.67 1113.85 L938.84 1110.8 L940.01 1107.9 L941.17 1109.38 L942.34 1110.93 L943.51 1108.94 L944.67 1107.84 L945.84 1108.69 L947.01 1110.83 L948.18 1115.14 L949.34 1122.43 L950.51 1117.26 L951.68 1115.58 L952.84 1113.72 L954.01 1114.11 L955.18 1113.02 L956.34 1112.85 L957.51 1111.51 L958.68 1109.47 L959.84 1110.89 L961.01 1109.19 L962.18 1108.75 L962.88 1094.46 L963.58 1089.79 L964.51 1096.83 L965.68 1103.57 L966.38 1113.38 L967.08 1122.63 L968.01 1117.18 L969.18 1112.52 L970.35 1119.71 L971.51 1121.65 L972.68 1119.94 L973.85 1118.66 L975.01 1117.32 L976.18 1115.12 L977.35 1112.74 L978.51 1110.33 L979.68 1108.34 L980.85 1105.85 L982.01 1108.18 L983.18 1110.28 L984.35 1108.44 L985.51 1105.59 L986.68 1103.56 L987.85 1101.35 L989.02 1102.4 L990.18 1102.61 L991.35 1101.06 L992.52 1098.73 L993.68 1096.22 L994.85 1101.64 L996.02 1106.41 L997.18 1108.45 L998.35 1105.31 L999.52 1101.17 L1000.68 1094.42 L1001.85 1089.67 L1003.02 1086.55 L1004.18 1086.7 L1005.35 1089.84 L1006.52 1088.29 L1007.68 1088.92 L1008.85 1087.52 L1010.02 1090.13 L1011.19 1087.86 L1012.35 1085.06 L1013.52 1083.98 L1014.69 1086.43 L1015.85 1086.87 L1017.02 1084.39 L1018.19 1086.28 L1019.35 1087.4 L1020.52 1089.87 L1021.69 1088.13 L1022.85 1090.33 L1024.02 1092.81 L1025.19 1089.35 L1026.5 1086.85 L1027.67 1082.74 L1028.83 1084.07 L1030 1082.83 L1031.17 1083.97 L1032.33 1079.9 L1033.5 1081.87 L1034.67 1078.01 L1035.84 1079.92 L1037 1077.2 L1038.17 1071.04 L1039.34 1062.3 L1040.5 1065.33 L1041.67 1077.07 L1042.84 1085.01 L1044 1083.08 L1045.17 1080.9 L1046.34 1078.35 L1047.5 1080.05 L1048.67 1086.95 L1049.84 1093.81 L1051 1092.39 L1052.17 1091.46 L1053.34 1093.97 L1054.51 1097.64 L1055.67 1099.1 L1056.84 1101.49 L1058.01 1103.05 L1059.17 1104.82 L1060.34 1105.11 L1061.51 1105.46 L1062.67 1106.67 L1063.84 1106.86 L1065.01 1107.6 L1066.17 1108.68 L1067.34 1106.2 L1068.51 1101.2 L1069.67 1099.69 L1070.84 1097.31 L1072.01 1099.48 L1073.18 1094.49 L1073.88 1080.67 L1074.81 1062.38 L1075.74 1048.18 L1076.68 1037.89 L1077.38 1056.82 L1078.08 1073.08 L1079.01 1056.6 L1079.71 1049.53 L1080.41 1063.98 L1081.34 1069.15 L1082.51 1062.16 L1083.68 1057.5 L1084.84 1059.65 L1086.01 1052.75 L1087.18 1047.34 L1088.34 1057.25 L1089.51 1051.86 L1090.68 1050.63 L1091.84 1051.76 L1093.01 1052.33 L1094.18 1054.26 L1095.35 1056.96 L1096.51 1067.94 L1097.68 1072.36 L1098.85 1056.77 L1100.01 1050.34 L1101.18 1050.77 L1102.35 1050.38 L1103.51 1052.23 L1104.68 1049.34 L1105.85 1047.04 L1107.01 1050.81 L1108.18 1055.81 L1109.35 1057.52 L1110.51 1063.21 L1111.68 1066.12 L1112.38 1080.36 L1113.08 1101.27 L1114.02 1096.59 L1115.18 1099.12 L1116.35 1096.67 L1117.52 1099.12 L1118.68 1100.57 L1119.85 1104.44 L1121.02 1106.41 L1122.18 1103.71 L1123.35 1109.36 L1124.52 1113.97 L1125.68 1104.33 L1126.85 1099.38 L1128.02 1094.67 L1129.18 1096.97 L1130.35 1090.76 L1131.52 1096.98 L1132.68 1099.65 L1133.85 1097.14 L1135.02 1097.99 L1136.19 1101.36" fill="none" stroke="#0000ff" stroke-width="1.55" stroke-linejoin="round"/><path d="M667.84 1044.56 L669 1041.45 L670.17 1039.01 L671.34 1034.29 L672.5 1035.06 L673.67 1031.35 L674.84 1028.56 L676 1023.89 L677.17 1019.43 L678.34 1019.2 L679.51 1017 L680.67 1014.9 L681.84 1010.54 L683.01 1012.7 L684.17 1010.49 L685.34 1006.3 L686.51 1003.8 L687.67 1001.06 L688.84 997.56 L690.01 993.91 L690.71 979.23 L691.41 959.08 L692.34 940.42 L693.04 930.73 L693.74 940.58 L694.67 947.91 L695.84 957.36 L697.01 970.54 L698.18 975.57 L699.34 968.21 L700.51 955.93 L701.68 949.48 L702.84 948 L704.01 945.71 L705.18 942.54 L706.34 941.03 L707.51 941.53 L708.68 942.85 L709.84 950.2 L710.54 964.73 L711.48 976.16 L712.18 973.83 L713.34 975.72 L714.51 976.89 L715.68 979.53 L716.84 977.44 L718.01 975.27 L719.18 973.66 L720.35 973.94 L721.51 975.21 L722.68 977.89 L723.85 979.9 L725.01 977.89 L726.18 975.57 L727.35 978.32 L728.51 982.78 L729.68 984.83 L730.85 982.16 L732.01 984.74 L733.18 986.74 L734.35 993.22 L735.51 1010.31 L736.68 1027.99 L737.85 1042.27 L739.02 1057.28 L740.18 1066.88 L741.35 1072.96 L742.52 1075.58 L743.68 1074.55 L744.85 1075.64 L746.02 1077.21 L747.18 1075.57 L748.35 1074.91 L749.52 1073.35 L750.68 1071.04 L751.38 1084.7 L752.08 1099.11 L753.02 1108.75 L753.72 1117.69 L754.42 1126.27 L755.35 1138.98 L756.52 1140.47 L757.68 1143.44 L758.85 1143.77 L760.02 1142.55 L761.19 1140.67 L762.35 1142.99 L763.52 1143.93 L764.69 1145.82 L765.85 1147.03 L767.02 1149.16 L768.19 1147.34 L769.35 1144.03 L770.52 1141.45 L771.69 1143.06 L772.85 1144.83 L774.02 1145.25 L775.19 1144.53 L776.5 1143.14 L777.67 1147.51 L778.83 1150.16 L780 1152.64 L781.17 1154.48 L782.33 1150.5 L783.5 1147.5 L784.67 1158.58 L785.37 1145.34 L786.07 1126.66 L787 1124.18 L788.17 1122.93 L789.34 1127.36 L790.5 1131.59 L791.67 1134.42 L792.84 1139.01 L794 1141 L795.17 1137.03 L796.34 1123.19 L797.5 1120.48 L798.67 1119.04 L799.84 1120.29 L801 1123.37 L802.17 1124.89 L803.34 1122.44 L804.51 1124.34 L805.67 1126.92 L806.84 1131.72 L808.01 1126.49 L809.17 1117.66 L810.34 1112.95 L811.51 1110.42 L812.67 1108.3 L813.84 1114.7 L815.01 1119.89 L816.17 1122.25 L817.34 1125.12 L818.51 1122.17 L819.67 1126.51 L820.84 1131.47 L822.01 1136.15 L823.18 1138.45 L824.34 1141.15 L825.51 1139.09 L826.68 1137.09 L827.84 1134.14 L829.01 1132.73 L830.18 1132.47 L831.34 1134.67 L832.51 1131.39 L833.68 1128.92 L834.84 1126.85 L836.01 1132.02 L837.18 1130.39 L838.34 1127.53 L839.51 1131.88 L840.68 1134.67 L841.84 1136.54 L843.01 1132.04 L844.18 1126.31 L845.35 1129.2 L846.51 1132.61 L847.68 1134.48 L848.85 1141.55 L850.01 1145.72 L851.18 1141.18 L852.35 1135.71 L853.51 1131.25 L854.68 1136.18 L855.85 1147.63 L857.01 1155.5 L858.18 1159.35 L859.35 1161.25 L860.51 1160.48 L861.68 1159.06 L862.85 1161.78 L864.02 1164.29 L865.18 1169.11 L866.35 1166.78 L867.52 1160.24 L868.68 1155.46 L869.85 1150.61 L871.02 1148.83 L872.18 1152.42 L873.35 1156.09 L874.52 1157.46 L875.68 1156.16 L876.85 1152.94 L878.02 1150.41 L879.18 1148.55 L880.35 1146.72 L881.52 1148 L882.68 1146.85 L883.85 1145.09 L885.02 1143.01 L886.19 1140.94 L887.35 1139.2 L888.52 1138.08 L889.69 1137.05 L890.85 1137.86 L892.02 1139.41 L893.19 1137.96 L894.35 1136.12 L895.52 1135.24 L896.69 1137.37 L897.85 1136.12 L899.02 1138.19 L900.19 1140.57 L901.5 1144.61 L902.67 1152.24 L903.83 1147.95 L905 1141.14 L906.17 1136.37 L907.33 1134.86 L908.5 1130.01 L909.67 1122.87 L910.84 1127.83 L912 1131.94 L912.7 1123.45 L913.4 1113.82 L914.34 1109.99 L915.5 1106.03 L916.67 1106.95 L917.84 1107.82 L919 1110.85 L920.17 1112.34 L921.34 1110.28 L922.5 1112.52 L923.67 1114.24 L924.84 1116.58 L926 1119.64 L927.17 1117.39 L928.34 1115.63 L929.51 1112.75 L930.67 1110.82 L931.84 1110.48 L933.01 1107.71 L934.17 1105.32 L935.34 1103.29 L936.51 1100.53 L937.67 1099.99 L938.84 1097.32 L940.01 1099.87 L941.17 1097.36 L942.34 1099.58 L943.51 1100.99 L944.67 1103.31 L945.84 1105.68 L947.01 1105.3 L948.18 1104.33 L949.34 1106.1 L950.51 1107.13 L951.68 1105.07 L952.84 1106.12 L954.01 1103.68 L955.18 1104.75 L956.34 1105.54 L957.51 1105.29 L958.68 1104.21 L959.84 1101.18 L961.01 1103.35 L962.18 1098.65 L962.88 1088.69 L963.58 1083.9 L964.51 1091.66 L965.68 1099.21 L966.38 1108.82 L967.08 1117.19 L968.01 1114.69 L969.18 1116.66 L970.35 1121.7 L971.51 1123.91 L972.68 1121.91 L973.85 1119.88 L975.01 1120.58 L976.18 1120.14 L977.35 1118.42 L978.51 1115.6 L979.68 1112.8 L980.85 1112.41 L982.01 1114.05 L983.18 1114.32 L984.35 1112.21 L985.51 1110.35 L986.68 1112.63 L987.85 1111.02 L989.02 1108.28 L990.18 1109.33 L991.35 1107.55 L992.52 1109.22 L993.68 1111.23 L994.85 1112.35 L996.02 1114.62 L997.18 1117.01 L998.35 1115.07 L999.52 1108.43 L1000.68 1103.99 L1001.85 1101.8 L1003.02 1100.55 L1004.18 1098.94 L1005.35 1096.56 L1006.52 1098.22 L1007.68 1098.34 L1008.85 1096.61 L1010.02 1098.17 L1011.19 1100.25 L1012.35 1098.18 L1013.52 1095.96 L1014.69 1094.34 L1015.85 1097.46 L1017.02 1098.87 L1018.19 1096.43 L1019.35 1098.47 L1020.52 1101.06 L1021.69 1098.32 L1022.85 1096 L1024.02 1101.32 L1025.19 1102.62 L1025.8 1107.71 L1026.5 1099.18 L1027.67 1092.61 L1028.83 1090.4 L1030 1088.4 L1031.17 1091.15 L1032.33 1086.47 L1033.5 1085.17 L1034.67 1082.73 L1035.84 1085.34 L1037 1082.48 L1038.17 1077.64 L1039.34 1073.39 L1040.5 1075.46 L1041.67 1080.27 L1042.84 1083.44 L1044 1084.5 L1045.17 1082.15 L1046.34 1084.15 L1047.5 1087.67 L1048.67 1090.36 L1049.84 1090.6 L1051 1091.46 L1052.17 1094.81 L1053.34 1096.05 L1054.51 1096.75 L1055.67 1096.98 L1056.84 1098.83 L1058.01 1099.84 L1059.17 1101.08 L1060.34 1103.66 L1061.51 1103.84 L1062.67 1104.85 L1063.84 1105.69 L1065.01 1101.84 L1066.17 1099.39 L1067.34 1096.56 L1068.51 1094.11 L1069.67 1091.99 L1070.84 1089.51 L1072.01 1085.18 L1073.18 1076.15 L1073.88 1066.54 L1074.81 1051.87 L1075.74 1038.35 L1076.68 1036.07 L1077.84 1026.49 L1078.54 1009.98 L1079.24 1020.17 L1079.94 1037.99 L1080.88 1052.31 L1081.81 1056.33 L1082.74 1054.47 L1083.68 1056.33 L1084.84 1054.83 L1086.01 1042.7 L1087.18 1040.05 L1088.34 1052.23 L1089.51 1047.24 L1090.68 1045.44 L1091.84 1048.48 L1093.01 1050.27 L1094.18 1052.43 L1095.35 1055.81 L1096.51 1057.79 L1097.68 1052.08 L1098.85 1043.1 L1100.01 1035.22 L1101.18 1031.43 L1102.35 1026.45 L1103.51 1024.51 L1104.68 1021.73 L1105.85 1020.87 L1107.01 1015.48 L1107.71 1008.56 L1108.41 1015.03 L1109.35 1033.54 L1110.51 1046.69 L1111.68 1051.48 L1112.38 1061.13 L1113.08 1080.28 L1114.02 1075.59 L1115.18 1071.04 L1116.35 1065.71 L1117.52 1061.11 L1118.68 1063.46 L1119.85 1058.23 L1121.02 1056.47 L1122.18 1059.44 L1123.35 1061.97 L1124.52 1056.65 L1125.68 1054.56 L1126.85 1052.3 L1128.02 1049.81 L1129.18 1047.37 L1129.88 1042.09 L1130.82 1051.37 L1131.75 1061.69 L1132.68 1064.31 L1133.85 1066.42 L1135.02 1061.02 L1136.19 1057.02" fill="none" stroke="#ff0000" stroke-width="1.5" stroke-dasharray="8.5 3.8" stroke-linejoin="round"/><line x1="641.25" x2="644" y1="971.4" y2="971.4" stroke="#333" stroke-width="1.1"/><text x="639.7" y="975" font-family='"Liberation Sans", sans-serif' font-size="8.6" letter-spacing="-0.35" text-anchor="end" fill="#4d4d4d">5.0</text><line x1="641.25" x2="644" y1="1030.1" y2="1030.1" stroke="#333" stroke-width="1.1"/><text x="639.7" y="1033.7" font-family='"Liberation Sans", sans-serif' font-size="8.6" letter-spacing="-0.35" text-anchor="end" fill="#4d4d4d">2.5</text><line x1="641.25" x2="644" y1="1088.8" y2="1088.8" stroke="#333" stroke-width="1.1"/><text x="639.7" y="1092.4" font-family='"Liberation Sans", sans-serif' font-size="8.6" letter-spacing="-0.35" text-anchor="end" fill="#4d4d4d">0.0</text><line x1="641.25" x2="644" y1="1147.5" y2="1147.5" stroke="#333" stroke-width="1.1"/><text x="639.7" y="1151.1" font-family='"Liberation Sans", sans-serif' font-size="8.6" letter-spacing="-0.35" text-anchor="end" fill="#4d4d4d">-2.5</text><line x1="641.25" x2="644" y1="1206.2" y2="1206.2" stroke="#333" stroke-width="1.1"/><text x="639.7" y="1209.8" font-family='"Liberation Sans", sans-serif' font-size="8.6" letter-spacing="-0.35" text-anchor="end" fill="#4d4d4d">-5.0</text><line x1="751.2" x2="751.2" y1="1207" y2="1209.75" stroke="#333" stroke-width="1.1"/><text x="751.2" y="1218.7" font-family='"Liberation Sans", sans-serif' font-size="8.6" letter-spacing="-0.35" text-anchor="middle" fill="#4d4d4d">2020-01</text><line x1="931.81" x2="931.81" y1="1207" y2="1209.75" stroke="#333" stroke-width="1.1"/><text x="931.81" y="1218.7" font-family='"Liberation Sans", sans-serif' font-size="8.6" letter-spacing="-0.35" text-anchor="middle" fill="#4d4d4d">2020-07</text><line x1="1114.4" x2="1114.4" y1="1207" y2="1209.75" stroke="#333" stroke-width="1.1"/><text x="1114.4" y="1218.7" font-family='"Liberation Sans", sans-serif' font-size="8.6" letter-spacing="-0.35" text-anchor="middle" fill="#4d4d4d">2021-01</text><text x="902" y="1228.5" font-family='"Liberation Sans", sans-serif' font-size="9.5" text-anchor="middle" fill="#000">Time</text><text transform="translate(624.1,1062.8) rotate(-90)" x="0" y="0" font-family='"Liberation Sans", sans-serif' font-size="9.5" text-anchor="middle" fill="#000">DY NET of XRP</text><text x="792.2" y="900.5" font-family='"Liberation Sans", sans-serif' font-size="9.3" fill="#000">exchange</text><rect x="836.2" y="889.5" width="14" height="13.3" fill="#f2f2f2"/><line x1="837.2" x2="848.7" y1="896.4" y2="896.4" stroke="#9317f0" stroke-width="1.5" stroke-dasharray="2.6 2.2 6.4 10" stroke-linecap="butt"/><text x="853.7" y="900.2" font-family='"Liberation Sans", sans-serif' font-size="7.6" fill="#1a1a1a">xrp_bf</text><rect x="879.2" y="889.5" width="14" height="13.3" fill="#f2f2f2"/><line x1="881.5" x2="892.2" y1="896.4" y2="896.4" stroke="#111" stroke-width="1.5" stroke-dasharray="0.01 4.9" stroke-linecap="round"/><text x="898.1" y="900.2" font-family='"Liberation Sans", sans-serif' font-size="7.6" fill="#1a1a1a">xrp_bn</text><rect x="925.2" y="889.5" width="14" height="13.3" fill="#f2f2f2"/><line x1="926.2" x2="938.2" y1="896.4" y2="896.4" stroke="#0000ff" stroke-width="1.5"/><text x="943.6" y="900.2" font-family='"Liberation Sans", sans-serif' font-size="7.6" fill="#1a1a1a">xrp_cb</text><rect x="971.1" y="889.5" width="14" height="13.3" fill="#f2f2f2"/><line x1="972.1" x2="981.1" y1="896.4" y2="896.4" stroke="#ff0000" stroke-width="1.5"/><text x="989.8" y="900.2" font-family='"Liberation Sans", sans-serif' font-size="7.6" fill="#1a1a1a">xrp_oe</text></g><rect x="0" y="0" width="1200" height="1.5" fill="#111"/><rect x="0" y="0" width="1" height="1242" fill="#777"/><rect x="1" y="0" width="1" height="1242" fill="#333"/><rect x="1198.7" y="0" width="1.3" height="1242" fill="#222"/><rect x="0" y="54.3" width="1200" height="1.4" fill="#1a1a1a"/><rect x="0" y="413.1" width="1200" height="1.4" fill="#1a1a1a"/><rect x="0" y="467.9" width="1200" height="1.4" fill="#1a1a1a"/><rect x="0" y="826.6" width="1200" height="1.4" fill="#1a1a1a"/><rect x="0" y="881.3" width="1200" height="1.4" fill="#1a1a1a"/><rect x="0" y="1239.8" width="1200" height="1.4" fill="#1a1a1a"/><rect x="0" y="1241.2" width="1200" height="0.8" fill="#bbb"/><rect x="598.2" y="0" width="1.5" height="1242" fill="#1a1a1a"/></svg>
</body></html>
